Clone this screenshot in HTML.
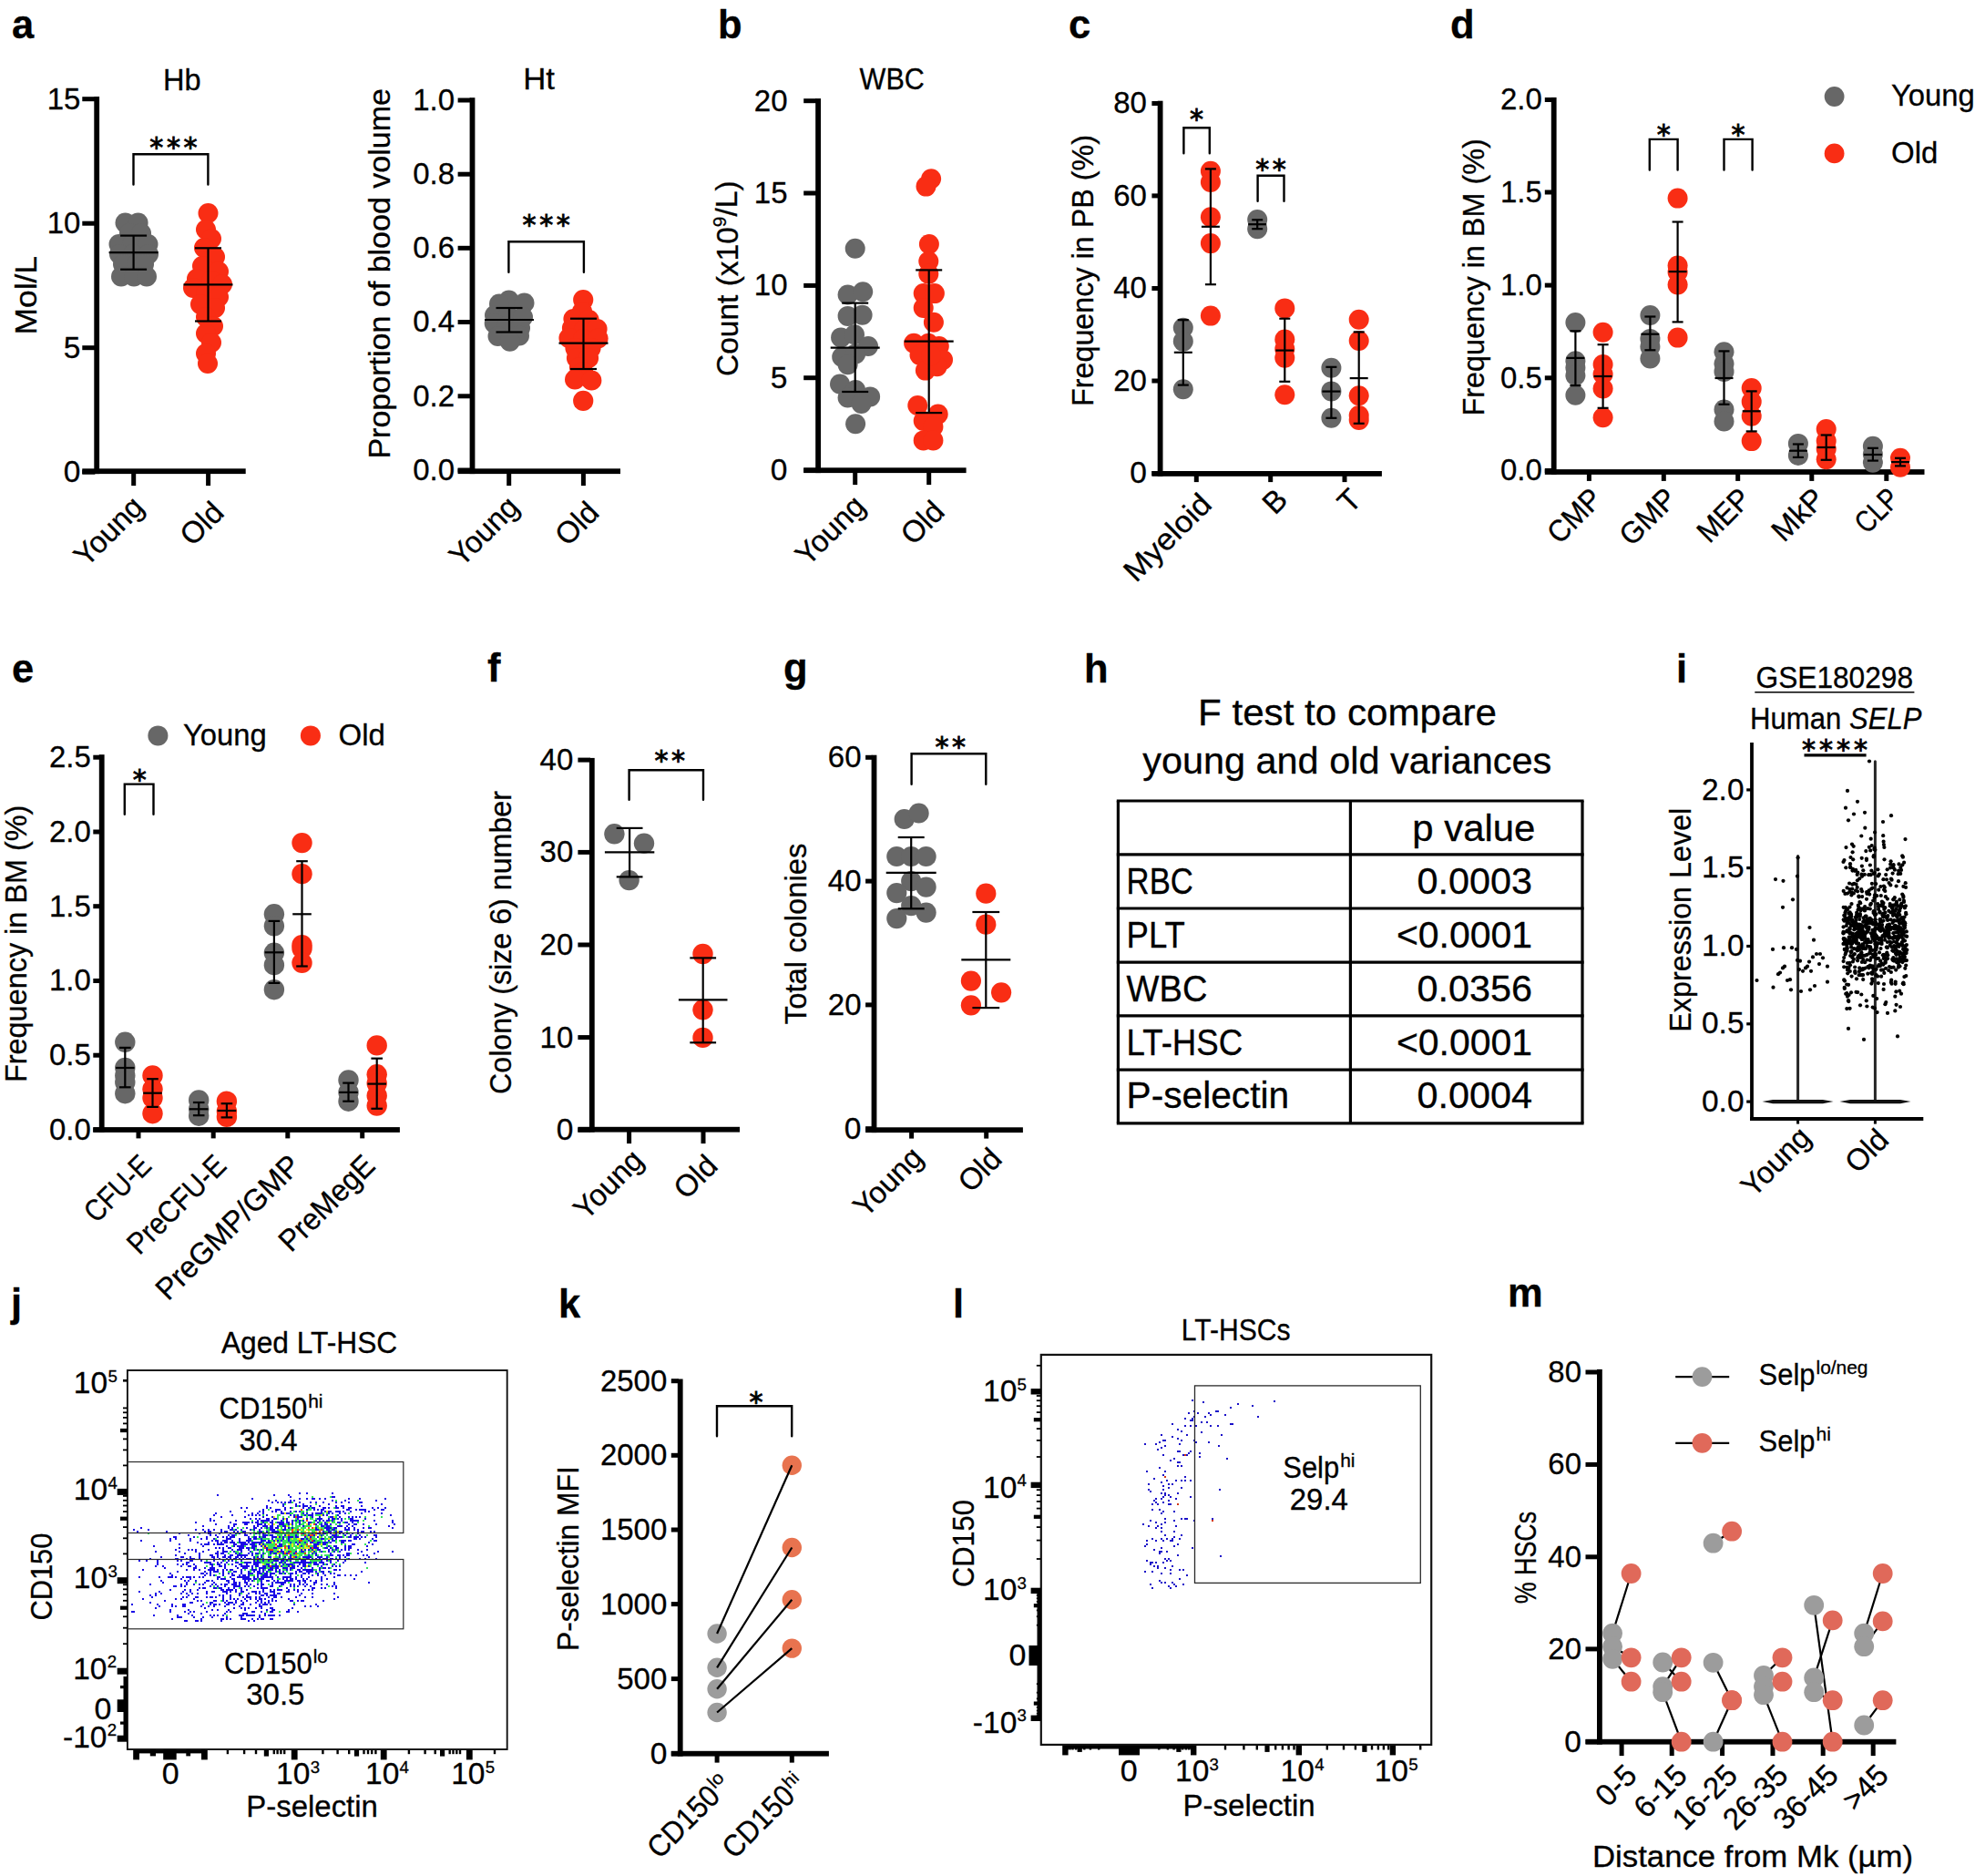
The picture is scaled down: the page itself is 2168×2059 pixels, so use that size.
<!DOCTYPE html>
<html><head><meta charset="utf-8"><title>Figure</title>
<style>
html,body{margin:0;padding:0;background:#fff;}
svg{display:block;}
svg text{font-family:"Liberation Sans",sans-serif;fill:#000;stroke:#000;stroke-width:0.3px;}
</style></head><body>
<svg width="2168" height="2059" viewBox="0 0 2168 2059">
<rect width="2168" height="2059" fill="#fff"/>
<text x="13.0" y="41.5" font-size="43.5" font-weight="bold">a</text>
<text x="199.7" y="98.5" font-size="33.5" text-anchor="middle" textLength="41.6" lengthAdjust="spacingAndGlyphs">Hb</text>
<text x="39.5" y="367.5" font-size="33.5" textLength="86.5" lengthAdjust="spacingAndGlyphs" transform="rotate(-90 39.5 367.5)">Mol/L</text>
<circle cx="137.5" cy="244.6" r="11" fill="#676767"/>
<circle cx="151.6" cy="244.6" r="11" fill="#676767"/>
<circle cx="142.0" cy="256.0" r="11" fill="#676767"/>
<circle cx="155.0" cy="256.0" r="11" fill="#676767"/>
<circle cx="130.5" cy="268.0" r="11" fill="#676767"/>
<circle cx="145.0" cy="268.0" r="11" fill="#676767"/>
<circle cx="162.5" cy="268.0" r="11" fill="#676767"/>
<circle cx="131.0" cy="279.0" r="11" fill="#676767"/>
<circle cx="146.0" cy="279.0" r="11" fill="#676767"/>
<circle cx="163.0" cy="279.0" r="11" fill="#676767"/>
<circle cx="135.0" cy="290.0" r="11" fill="#676767"/>
<circle cx="150.0" cy="290.0" r="11" fill="#676767"/>
<circle cx="158.0" cy="290.0" r="11" fill="#676767"/>
<circle cx="133.0" cy="303.5" r="11" fill="#676767"/>
<circle cx="147.0" cy="303.5" r="11" fill="#676767"/>
<circle cx="161.0" cy="303.5" r="11" fill="#676767"/>
<circle cx="228.5" cy="234.0" r="11" fill="#f92d14"/>
<circle cx="226.0" cy="252.0" r="11" fill="#f92d14"/>
<circle cx="232.0" cy="262.0" r="11" fill="#f92d14"/>
<circle cx="224.0" cy="272.0" r="11" fill="#f92d14"/>
<circle cx="236.0" cy="282.0" r="11" fill="#f92d14"/>
<circle cx="222.0" cy="292.0" r="11" fill="#f92d14"/>
<circle cx="240.0" cy="298.0" r="11" fill="#f92d14"/>
<circle cx="216.0" cy="306.0" r="11" fill="#f92d14"/>
<circle cx="232.0" cy="308.0" r="11" fill="#f92d14"/>
<circle cx="244.0" cy="312.0" r="11" fill="#f92d14"/>
<circle cx="212.0" cy="316.0" r="11" fill="#f92d14"/>
<circle cx="226.0" cy="322.0" r="11" fill="#f92d14"/>
<circle cx="240.0" cy="326.0" r="11" fill="#f92d14"/>
<circle cx="220.0" cy="334.0" r="11" fill="#f92d14"/>
<circle cx="236.0" cy="338.0" r="11" fill="#f92d14"/>
<circle cx="226.0" cy="348.0" r="11" fill="#f92d14"/>
<circle cx="234.0" cy="358.0" r="11" fill="#f92d14"/>
<circle cx="226.0" cy="366.0" r="11" fill="#f92d14"/>
<circle cx="232.0" cy="376.0" r="11" fill="#f92d14"/>
<circle cx="226.0" cy="388.0" r="11" fill="#f92d14"/>
<circle cx="228.0" cy="399.0" r="11" fill="#f92d14"/>
<line x1="146.6" y1="258.6" x2="146.6" y2="295.7" stroke="#000" stroke-width="2.2" stroke-linecap="butt"/>
<line x1="132.1" y1="258.6" x2="161.1" y2="258.6" stroke="#000" stroke-width="2.2" stroke-linecap="butt"/>
<line x1="132.1" y1="295.7" x2="161.1" y2="295.7" stroke="#000" stroke-width="2.2" stroke-linecap="butt"/>
<line x1="119.6" y1="277.2" x2="173.6" y2="277.2" stroke="#000" stroke-width="2.2" stroke-linecap="butt"/>
<line x1="228.5" y1="272.3" x2="228.5" y2="352.5" stroke="#000" stroke-width="2.2" stroke-linecap="butt"/>
<line x1="214.0" y1="272.3" x2="243.0" y2="272.3" stroke="#000" stroke-width="2.2" stroke-linecap="butt"/>
<line x1="214.0" y1="352.5" x2="243.0" y2="352.5" stroke="#000" stroke-width="2.2" stroke-linecap="butt"/>
<line x1="201.5" y1="312.4" x2="255.5" y2="312.4" stroke="#000" stroke-width="2.2" stroke-linecap="butt"/>
<polyline points="146.5,202.6 146.5,169.2 228.4,169.2 228.4,202.6" fill="none" stroke="#000" stroke-width="2.4" stroke-linecap="round" stroke-linejoin="miter"/>
<text x="164.3" y="171.7" font-size="30" style="font-family:'DejaVu Sans',sans-serif;letter-spacing:3.65px;stroke:#000;stroke-width:0.9px">***</text>
<rect x="103.3" y="106.0" width="5.8" height="414.1"/>
<rect x="90.3" y="514.3" width="179.4" height="5.8"/>
<rect x="90.3" y="106.2" width="14" height="5.0"/>
<text x="88.4" y="119.6" font-size="33.5" text-anchor="end" textLength="36.7" lengthAdjust="spacingAndGlyphs">15</text>
<rect x="90.3" y="242.7" width="14" height="5.0"/>
<text x="88.4" y="256.1" font-size="33.5" text-anchor="end" textLength="36.7" lengthAdjust="spacingAndGlyphs">10</text>
<rect x="90.3" y="379.2" width="14" height="5.0"/>
<text x="88.4" y="392.6" font-size="33.5" text-anchor="end">5</text>
<rect x="90.3" y="515.7" width="14" height="5.0"/>
<text x="88.4" y="529.1" font-size="33.5" text-anchor="end">0</text>
<rect x="144.2" y="517.2" width="5.0" height="15.9"/>
<text x="159.7" y="558.7" font-size="33.5" text-anchor="end" textLength="91.8" lengthAdjust="spacingAndGlyphs" transform="rotate(-45 159.7 558.7)">Young</text>
<rect x="226.1" y="517.2" width="5.0" height="15.9"/>
<text x="247.6" y="564.5" font-size="33.5" text-anchor="end" textLength="51.3" lengthAdjust="spacingAndGlyphs" transform="rotate(-45 247.6 564.5)">Old</text>
<text x="591.5" y="98.2" font-size="33.5" text-anchor="middle" textLength="34.7" lengthAdjust="spacingAndGlyphs">Ht</text>
<text x="428.0" y="503.6" font-size="33.5" textLength="406.6" lengthAdjust="spacingAndGlyphs" transform="rotate(-90 428.0 503.6)">Proportion of blood volume</text>
<circle cx="558.6" cy="329.6" r="11" fill="#676767"/>
<circle cx="548.0" cy="333.5" r="11" fill="#676767"/>
<circle cx="575.5" cy="332.5" r="11" fill="#676767"/>
<circle cx="543.0" cy="346.0" r="11" fill="#676767"/>
<circle cx="558.0" cy="346.0" r="11" fill="#676767"/>
<circle cx="574.0" cy="348.0" r="11" fill="#676767"/>
<circle cx="542.7" cy="355.0" r="11" fill="#676767"/>
<circle cx="556.0" cy="358.0" r="11" fill="#676767"/>
<circle cx="571.0" cy="360.0" r="11" fill="#676767"/>
<circle cx="546.5" cy="369.0" r="11" fill="#676767"/>
<circle cx="560.0" cy="372.0" r="11" fill="#676767"/>
<circle cx="570.0" cy="368.5" r="11" fill="#676767"/>
<circle cx="559.7" cy="374.8" r="11" fill="#676767"/>
<circle cx="640.2" cy="329.0" r="11.1" fill="#f92d14"/>
<circle cx="639.0" cy="342.0" r="11.1" fill="#f92d14"/>
<circle cx="629.5" cy="350.0" r="11.1" fill="#f92d14"/>
<circle cx="646.5" cy="351.0" r="11.1" fill="#f92d14"/>
<circle cx="628.0" cy="360.0" r="11.1" fill="#f92d14"/>
<circle cx="641.0" cy="362.0" r="11.1" fill="#f92d14"/>
<circle cx="655.5" cy="361.0" r="11.1" fill="#f92d14"/>
<circle cx="624.5" cy="371.0" r="11.1" fill="#f92d14"/>
<circle cx="640.0" cy="372.0" r="11.1" fill="#f92d14"/>
<circle cx="656.5" cy="371.5" r="11.1" fill="#f92d14"/>
<circle cx="631.5" cy="382.0" r="11.1" fill="#f92d14"/>
<circle cx="648.5" cy="382.0" r="11.1" fill="#f92d14"/>
<circle cx="633.0" cy="393.0" r="11.1" fill="#f92d14"/>
<circle cx="646.0" cy="393.0" r="11.1" fill="#f92d14"/>
<circle cx="636.0" cy="403.0" r="11.1" fill="#f92d14"/>
<circle cx="640.0" cy="408.0" r="11.1" fill="#f92d14"/>
<circle cx="631.1" cy="416.5" r="11.1" fill="#f92d14"/>
<circle cx="649.3" cy="417.5" r="11.1" fill="#f92d14"/>
<circle cx="640.2" cy="439.9" r="11.1" fill="#f92d14"/>
<line x1="559.0" y1="338.0" x2="559.0" y2="364.5" stroke="#000" stroke-width="2.2" stroke-linecap="butt"/>
<line x1="544.5" y1="338.0" x2="573.5" y2="338.0" stroke="#000" stroke-width="2.2" stroke-linecap="butt"/>
<line x1="544.5" y1="364.5" x2="573.5" y2="364.5" stroke="#000" stroke-width="2.2" stroke-linecap="butt"/>
<line x1="532.0" y1="351.0" x2="586.0" y2="351.0" stroke="#000" stroke-width="2.2" stroke-linecap="butt"/>
<line x1="640.5" y1="349.7" x2="640.5" y2="405.0" stroke="#000" stroke-width="2.2" stroke-linecap="butt"/>
<line x1="626.0" y1="349.7" x2="655.0" y2="349.7" stroke="#000" stroke-width="2.2" stroke-linecap="butt"/>
<line x1="626.0" y1="405.0" x2="655.0" y2="405.0" stroke="#000" stroke-width="2.2" stroke-linecap="butt"/>
<line x1="613.5" y1="376.6" x2="667.5" y2="376.6" stroke="#000" stroke-width="2.2" stroke-linecap="butt"/>
<polyline points="558.4,298.8 558.4,265.2 640.9,265.2 640.9,298.8" fill="none" stroke="#000" stroke-width="2.4" stroke-linecap="round" stroke-linejoin="miter"/>
<text x="573.5" y="257.0" font-size="30" style="font-family:'DejaVu Sans',sans-serif;letter-spacing:3.65px;stroke:#000;stroke-width:0.9px">***</text>
<rect x="515.6" y="107.2" width="5.8" height="412.9"/>
<rect x="502.6" y="514.3" width="178.4" height="5.8"/>
<rect x="502.6" y="107.5" width="14" height="5.0"/>
<text x="499.1" y="120.9" font-size="33.5" text-anchor="end" textLength="45.8" lengthAdjust="spacingAndGlyphs">1.0</text>
<rect x="502.6" y="188.7" width="14" height="5.0"/>
<text x="499.1" y="202.1" font-size="33.5" text-anchor="end" textLength="45.8" lengthAdjust="spacingAndGlyphs">0.8</text>
<rect x="502.6" y="269.8" width="14" height="5.0"/>
<text x="499.1" y="283.2" font-size="33.5" text-anchor="end" textLength="45.8" lengthAdjust="spacingAndGlyphs">0.6</text>
<rect x="502.6" y="351.0" width="14" height="5.0"/>
<text x="499.1" y="364.4" font-size="33.5" text-anchor="end" textLength="45.8" lengthAdjust="spacingAndGlyphs">0.4</text>
<rect x="502.6" y="432.3" width="14" height="5.0"/>
<text x="499.1" y="445.7" font-size="33.5" text-anchor="end" textLength="45.8" lengthAdjust="spacingAndGlyphs">0.2</text>
<rect x="502.6" y="513.5" width="14" height="5.0"/>
<text x="499.1" y="526.9" font-size="33.5" text-anchor="end" textLength="45.8" lengthAdjust="spacingAndGlyphs">0.0</text>
<rect x="556.2" y="517.2" width="5.0" height="15.9"/>
<text x="571.7" y="558.7" font-size="33.5" text-anchor="end" textLength="91.8" lengthAdjust="spacingAndGlyphs" transform="rotate(-45 571.7 558.7)">Young</text>
<rect x="637.9" y="517.2" width="5.0" height="15.9"/>
<text x="659.4" y="564.5" font-size="33.5" text-anchor="end" textLength="51.3" lengthAdjust="spacingAndGlyphs" transform="rotate(-45 659.4 564.5)">Old</text>
<text x="788.0" y="41.5" font-size="43.5" font-weight="bold">b</text>
<text x="979.2" y="98.2" font-size="33.5" text-anchor="middle" textLength="71.2" lengthAdjust="spacingAndGlyphs">WBC</text>
<text x="810.0" y="413.0" font-size="33.5" transform="rotate(-90 810.0 413.0)">Count (x10<tspan font-size="20.8" dy="-12.7">9</tspan><tspan dy="11.7">/L)</tspan></text>
<circle cx="938.7" cy="272.7" r="11.0" fill="#676767"/>
<circle cx="930.6" cy="323.5" r="11.0" fill="#676767"/>
<circle cx="947.2" cy="320.3" r="11.0" fill="#676767"/>
<circle cx="930.6" cy="346.9" r="11.0" fill="#676767"/>
<circle cx="946.6" cy="345.8" r="11.0" fill="#676767"/>
<circle cx="923.1" cy="370.4" r="11.0" fill="#676767"/>
<circle cx="938.0" cy="367.2" r="11.0" fill="#676767"/>
<circle cx="953.0" cy="380.0" r="11.0" fill="#676767"/>
<circle cx="924.2" cy="391.7" r="11.0" fill="#676767"/>
<circle cx="939.1" cy="388.5" r="11.0" fill="#676767"/>
<circle cx="930.6" cy="400.2" r="11.0" fill="#676767"/>
<circle cx="922.0" cy="421.5" r="11.0" fill="#676767"/>
<circle cx="939.1" cy="428.0" r="11.0" fill="#676767"/>
<circle cx="955.1" cy="435.4" r="11.0" fill="#676767"/>
<circle cx="930.6" cy="436.5" r="11.0" fill="#676767"/>
<circle cx="945.5" cy="442.9" r="11.0" fill="#676767"/>
<circle cx="939.1" cy="465.2" r="11.0" fill="#676767"/>
<circle cx="1022.1" cy="196.2" r="11.0" fill="#f92d14"/>
<circle cx="1016.5" cy="204.6" r="11.0" fill="#f92d14"/>
<circle cx="1019.9" cy="268.0" r="11.0" fill="#f92d14"/>
<circle cx="1019.3" cy="286.7" r="11.0" fill="#f92d14"/>
<circle cx="1019.3" cy="300.7" r="11.0" fill="#f92d14"/>
<circle cx="1013.7" cy="322.1" r="11.0" fill="#f92d14"/>
<circle cx="1025.9" cy="322.1" r="11.0" fill="#f92d14"/>
<circle cx="1013.7" cy="338.0" r="11.0" fill="#f92d14"/>
<circle cx="1024.9" cy="353.8" r="11.0" fill="#f92d14"/>
<circle cx="1003.1" cy="376.8" r="11.0" fill="#f92d14"/>
<circle cx="1019.0" cy="376.8" r="11.0" fill="#f92d14"/>
<circle cx="1030.8" cy="380.0" r="11.0" fill="#f92d14"/>
<circle cx="1009.5" cy="389.6" r="11.0" fill="#f92d14"/>
<circle cx="1035.0" cy="394.9" r="11.0" fill="#f92d14"/>
<circle cx="1015.9" cy="406.6" r="11.0" fill="#f92d14"/>
<circle cx="1028.7" cy="402.3" r="11.0" fill="#f92d14"/>
<circle cx="1022.0" cy="390.3" r="11.0" fill="#f92d14"/>
<circle cx="1007.3" cy="445.0" r="11.0" fill="#f92d14"/>
<circle cx="1029.7" cy="454.6" r="11.0" fill="#f92d14"/>
<circle cx="1013.7" cy="462.0" r="11.0" fill="#f92d14"/>
<circle cx="1024.4" cy="468.4" r="11.0" fill="#f92d14"/>
<circle cx="1013.7" cy="483.4" r="11.0" fill="#f92d14"/>
<circle cx="1024.4" cy="483.4" r="11.0" fill="#f92d14"/>
<line x1="938.7" y1="332.6" x2="938.7" y2="430.0" stroke="#000" stroke-width="2.2" stroke-linecap="butt"/>
<line x1="924.2" y1="332.6" x2="953.2" y2="332.6" stroke="#000" stroke-width="2.2" stroke-linecap="butt"/>
<line x1="924.2" y1="430.0" x2="953.2" y2="430.0" stroke="#000" stroke-width="2.2" stroke-linecap="butt"/>
<line x1="911.7" y1="381.7" x2="965.7" y2="381.7" stroke="#000" stroke-width="2.2" stroke-linecap="butt"/>
<line x1="1019.7" y1="296.4" x2="1019.7" y2="453.1" stroke="#000" stroke-width="2.2" stroke-linecap="butt"/>
<line x1="1005.2" y1="296.4" x2="1034.2" y2="296.4" stroke="#000" stroke-width="2.2" stroke-linecap="butt"/>
<line x1="1005.2" y1="453.1" x2="1034.2" y2="453.1" stroke="#000" stroke-width="2.2" stroke-linecap="butt"/>
<line x1="992.7" y1="374.6" x2="1046.7" y2="374.6" stroke="#000" stroke-width="2.2" stroke-linecap="butt"/>
<rect x="895.2" y="108.1" width="5.8" height="411.0"/>
<rect x="882.2" y="513.3" width="178.4" height="5.8"/>
<rect x="882.2" y="108.2" width="14" height="5.0"/>
<text x="864.5" y="121.6" font-size="33.5" text-anchor="end" textLength="36.7" lengthAdjust="spacingAndGlyphs">20</text>
<rect x="882.2" y="209.5" width="14" height="5.0"/>
<text x="864.5" y="222.9" font-size="33.5" text-anchor="end" textLength="36.7" lengthAdjust="spacingAndGlyphs">15</text>
<rect x="882.2" y="310.9" width="14" height="5.0"/>
<text x="864.5" y="324.3" font-size="33.5" text-anchor="end" textLength="36.7" lengthAdjust="spacingAndGlyphs">10</text>
<rect x="882.2" y="412.2" width="14" height="5.0"/>
<text x="864.5" y="425.6" font-size="33.5" text-anchor="end">5</text>
<rect x="882.2" y="513.7" width="14" height="5.0"/>
<text x="864.5" y="527.1" font-size="33.5" text-anchor="end">0</text>
<rect x="936.2" y="516.2" width="5.0" height="15.9"/>
<text x="951.7" y="557.7" font-size="33.5" text-anchor="end" textLength="91.8" lengthAdjust="spacingAndGlyphs" transform="rotate(-45 951.7 557.7)">Young</text>
<rect x="1017.2" y="516.2" width="5.0" height="15.9"/>
<text x="1038.7" y="563.5" font-size="33.5" text-anchor="end" textLength="51.3" lengthAdjust="spacingAndGlyphs" transform="rotate(-45 1038.7 563.5)">Old</text>
<text x="1173.0" y="41.5" font-size="43.5" font-weight="bold">c</text>
<text x="1200.2" y="446.0" font-size="33.5" textLength="298.0" lengthAdjust="spacingAndGlyphs" transform="rotate(-90 1200.2 446.0)">Frequency in PB (%)</text>
<circle cx="1298.8" cy="359.7" r="11.0" fill="#676767"/>
<circle cx="1298.8" cy="374.6" r="11.0" fill="#676767"/>
<circle cx="1298.8" cy="427.3" r="11.0" fill="#676767"/>
<circle cx="1328.9" cy="187.8" r="11.0" fill="#f92d14"/>
<circle cx="1328.9" cy="200.0" r="11.0" fill="#f92d14"/>
<circle cx="1328.9" cy="238.2" r="11.0" fill="#f92d14"/>
<circle cx="1328.9" cy="267.1" r="11.0" fill="#f92d14"/>
<circle cx="1328.9" cy="346.6" r="11.0" fill="#f92d14"/>
<circle cx="1380.2" cy="241.0" r="11.0" fill="#676767"/>
<circle cx="1380.2" cy="251.2" r="11.0" fill="#676767"/>
<circle cx="1410.3" cy="338.4" r="11.0" fill="#f92d14"/>
<circle cx="1410.3" cy="372.5" r="11.0" fill="#f92d14"/>
<circle cx="1410.3" cy="383.0" r="11.0" fill="#f92d14"/>
<circle cx="1410.3" cy="392.8" r="11.0" fill="#f92d14"/>
<circle cx="1410.3" cy="433.3" r="11.0" fill="#f92d14"/>
<circle cx="1461.4" cy="403.8" r="11.0" fill="#676767"/>
<circle cx="1461.4" cy="429.4" r="11.0" fill="#676767"/>
<circle cx="1461.4" cy="458.8" r="11.0" fill="#676767"/>
<circle cx="1491.7" cy="350.7" r="11.0" fill="#f92d14"/>
<circle cx="1491.7" cy="374.0" r="11.0" fill="#f92d14"/>
<circle cx="1491.7" cy="434.3" r="11.0" fill="#f92d14"/>
<circle cx="1491.7" cy="456.0" r="11.0" fill="#f92d14"/>
<circle cx="1491.7" cy="461.0" r="11.0" fill="#f92d14"/>
<line x1="1298.8" y1="351.2" x2="1298.8" y2="422.6" stroke="#000" stroke-width="2.2" stroke-linecap="butt"/>
<line x1="1292.8" y1="351.2" x2="1304.8" y2="351.2" stroke="#000" stroke-width="2.2" stroke-linecap="butt"/>
<line x1="1292.8" y1="422.6" x2="1304.8" y2="422.6" stroke="#000" stroke-width="2.2" stroke-linecap="butt"/>
<line x1="1288.8" y1="386.8" x2="1308.8" y2="386.8" stroke="#000" stroke-width="2.2" stroke-linecap="butt"/>
<line x1="1328.9" y1="185.4" x2="1328.9" y2="312.2" stroke="#000" stroke-width="2.2" stroke-linecap="butt"/>
<line x1="1322.9" y1="185.4" x2="1334.9" y2="185.4" stroke="#000" stroke-width="2.2" stroke-linecap="butt"/>
<line x1="1322.9" y1="312.2" x2="1334.9" y2="312.2" stroke="#000" stroke-width="2.2" stroke-linecap="butt"/>
<line x1="1318.9" y1="248.8" x2="1338.9" y2="248.8" stroke="#000" stroke-width="2.2" stroke-linecap="butt"/>
<line x1="1380.2" y1="241.3" x2="1380.2" y2="251.2" stroke="#000" stroke-width="2.2" stroke-linecap="butt"/>
<line x1="1374.2" y1="241.3" x2="1386.2" y2="241.3" stroke="#000" stroke-width="2.2" stroke-linecap="butt"/>
<line x1="1374.2" y1="251.2" x2="1386.2" y2="251.2" stroke="#000" stroke-width="2.2" stroke-linecap="butt"/>
<line x1="1370.2" y1="246.2" x2="1390.2" y2="246.2" stroke="#000" stroke-width="2.2" stroke-linecap="butt"/>
<line x1="1410.3" y1="349.7" x2="1410.3" y2="418.8" stroke="#000" stroke-width="2.2" stroke-linecap="butt"/>
<line x1="1404.3" y1="349.7" x2="1416.3" y2="349.7" stroke="#000" stroke-width="2.2" stroke-linecap="butt"/>
<line x1="1404.3" y1="418.8" x2="1416.3" y2="418.8" stroke="#000" stroke-width="2.2" stroke-linecap="butt"/>
<line x1="1400.3" y1="384.6" x2="1420.3" y2="384.6" stroke="#000" stroke-width="2.2" stroke-linecap="butt"/>
<line x1="1461.4" y1="402.8" x2="1461.4" y2="458.8" stroke="#000" stroke-width="2.2" stroke-linecap="butt"/>
<line x1="1455.4" y1="402.8" x2="1467.4" y2="402.8" stroke="#000" stroke-width="2.2" stroke-linecap="butt"/>
<line x1="1455.4" y1="458.8" x2="1467.4" y2="458.8" stroke="#000" stroke-width="2.2" stroke-linecap="butt"/>
<line x1="1451.4" y1="429.6" x2="1471.4" y2="429.6" stroke="#000" stroke-width="2.2" stroke-linecap="butt"/>
<line x1="1491.7" y1="364.4" x2="1491.7" y2="464.8" stroke="#000" stroke-width="2.2" stroke-linecap="butt"/>
<line x1="1485.7" y1="364.4" x2="1497.7" y2="364.4" stroke="#000" stroke-width="2.2" stroke-linecap="butt"/>
<line x1="1485.7" y1="464.8" x2="1497.7" y2="464.8" stroke="#000" stroke-width="2.2" stroke-linecap="butt"/>
<line x1="1481.7" y1="415.1" x2="1501.7" y2="415.1" stroke="#000" stroke-width="2.2" stroke-linecap="butt"/>
<polyline points="1299.4,168.2 1299.4,140.2 1327.8,140.2 1327.8,168.2" fill="none" stroke="#000" stroke-width="2.4" stroke-linecap="round" stroke-linejoin="miter"/>
<text x="1306.1" y="141.4" font-size="30" style="font-family:'DejaVu Sans',sans-serif;letter-spacing:3.65px;stroke:#000;stroke-width:0.9px">*</text>
<polyline points="1380.6,220.8 1380.6,192.8 1409.5,192.8 1409.5,220.8" fill="none" stroke="#000" stroke-width="2.4" stroke-linecap="round" stroke-linejoin="miter"/>
<text x="1378.2" y="196.4" font-size="30" style="font-family:'DejaVu Sans',sans-serif;letter-spacing:3.65px;stroke:#000;stroke-width:0.9px">**</text>
<rect x="1270.7" y="110.7" width="5.8" height="412.1"/>
<rect x="1264.4" y="517.0" width="252.5" height="5.8"/>
<rect x="1264.4" y="111.0" width="7.3" height="5.0"/>
<text x="1258.9" y="124.4" font-size="33.5" text-anchor="end" textLength="36.7" lengthAdjust="spacingAndGlyphs">80</text>
<rect x="1264.4" y="212.4" width="7.3" height="5.0"/>
<text x="1258.9" y="225.8" font-size="33.5" text-anchor="end" textLength="36.7" lengthAdjust="spacingAndGlyphs">60</text>
<rect x="1264.4" y="314.0" width="7.3" height="5.0"/>
<text x="1258.9" y="327.4" font-size="33.5" text-anchor="end" textLength="36.7" lengthAdjust="spacingAndGlyphs">40</text>
<rect x="1264.4" y="415.5" width="7.3" height="5.0"/>
<text x="1258.9" y="428.9" font-size="33.5" text-anchor="end" textLength="36.7" lengthAdjust="spacingAndGlyphs">20</text>
<rect x="1264.4" y="517.0" width="7.3" height="5.0"/>
<text x="1258.9" y="530.4" font-size="33.5" text-anchor="end">0</text>
<rect x="1310.8" y="519.9" width="5.0" height="9.2"/>
<text x="1331.9" y="555.5" font-size="33.5" text-anchor="end" textLength="120.0" lengthAdjust="spacingAndGlyphs" transform="rotate(-45 1331.9 555.5)">Myeloid</text>
<rect x="1392.2" y="519.9" width="5.0" height="9.2"/>
<text x="1415.2" y="550.5" font-size="33.5" text-anchor="end" transform="rotate(-45 1415.2 550.5)">B</text>
<rect x="1473.5" y="519.9" width="5.0" height="9.2"/>
<text x="1496.5" y="550.5" font-size="33.5" text-anchor="end" transform="rotate(-45 1496.5 550.5)">T</text>
<text x="1592.0" y="41.5" font-size="43.5" font-weight="bold">d</text>
<text x="1629.0" y="456.5" font-size="33.5" textLength="304.3" lengthAdjust="spacingAndGlyphs" transform="rotate(-90 1629.0 456.5)">Frequency in BM (%)</text>
<rect x="1702.8" y="106.9" width="5.8" height="414.0"/>
<rect x="1695.8" y="515.1" width="416.7" height="5.8"/>
<rect x="1695.8" y="107.0" width="8" height="5.0"/>
<text x="1692.8" y="120.4" font-size="33.5" text-anchor="end" textLength="45.8" lengthAdjust="spacingAndGlyphs">2.0</text>
<rect x="1695.8" y="208.5" width="8" height="5.0"/>
<text x="1692.8" y="221.9" font-size="33.5" text-anchor="end" textLength="45.8" lengthAdjust="spacingAndGlyphs">1.5</text>
<rect x="1695.8" y="310.6" width="8" height="5.0"/>
<text x="1692.8" y="324.0" font-size="33.5" text-anchor="end" textLength="45.8" lengthAdjust="spacingAndGlyphs">1.0</text>
<rect x="1695.8" y="412.3" width="8" height="5.0"/>
<text x="1692.8" y="425.7" font-size="33.5" text-anchor="end" textLength="45.8" lengthAdjust="spacingAndGlyphs">0.5</text>
<rect x="1695.8" y="514.0" width="8" height="5.0"/>
<text x="1692.8" y="527.4" font-size="33.5" text-anchor="end" textLength="45.8" lengthAdjust="spacingAndGlyphs">0.0</text>
<rect x="1741.9" y="518.0" width="5.0" height="9.9"/>
<text x="1760.7" y="549.6" font-size="33.5" text-anchor="end" textLength="69.0" lengthAdjust="spacingAndGlyphs" transform="rotate(-45 1760.7 549.6)">CMP</text>
<rect x="1823.8" y="518.0" width="5.0" height="9.9"/>
<text x="1842.6" y="549.6" font-size="33.5" text-anchor="end" textLength="72.5" lengthAdjust="spacingAndGlyphs" transform="rotate(-45 1842.6 549.6)">GMP</text>
<rect x="1905.2" y="518.0" width="5.0" height="9.9"/>
<text x="1924.0" y="549.6" font-size="33.5" text-anchor="end" textLength="67.3" lengthAdjust="spacingAndGlyphs" transform="rotate(-45 1924.0 549.6)">MEP</text>
<rect x="1986.3" y="518.0" width="5.0" height="9.9"/>
<text x="2005.1" y="549.6" font-size="33.5" text-anchor="end" textLength="66.1" lengthAdjust="spacingAndGlyphs" transform="rotate(-45 2005.1 549.6)">MkP</text>
<rect x="2068.3" y="518.0" width="5.0" height="9.9"/>
<text x="2087.1" y="549.6" font-size="33.5" text-anchor="end" textLength="53.2" lengthAdjust="spacingAndGlyphs" transform="rotate(-45 2087.1 549.6)">CLP</text>
<circle cx="1729.4" cy="354.1" r="11.0" fill="#676767"/>
<circle cx="1729.4" cy="396.3" r="11.0" fill="#676767"/>
<circle cx="1729.4" cy="403.5" r="11.0" fill="#676767"/>
<circle cx="1729.4" cy="412.2" r="11.0" fill="#676767"/>
<circle cx="1729.4" cy="433.7" r="11.0" fill="#676767"/>
<circle cx="1759.6" cy="364.7" r="11.0" fill="#f92d14"/>
<circle cx="1759.6" cy="400.1" r="11.0" fill="#f92d14"/>
<circle cx="1759.6" cy="410.7" r="11.0" fill="#f92d14"/>
<circle cx="1759.6" cy="426.5" r="11.0" fill="#f92d14"/>
<circle cx="1759.6" cy="458.2" r="11.0" fill="#f92d14"/>
<circle cx="1811.4" cy="346.0" r="11.0" fill="#676767"/>
<circle cx="1811.4" cy="371.9" r="11.0" fill="#676767"/>
<circle cx="1811.4" cy="380.5" r="11.0" fill="#676767"/>
<circle cx="1811.4" cy="393.5" r="11.0" fill="#676767"/>
<circle cx="1841.6" cy="217.6" r="11.0" fill="#f92d14"/>
<circle cx="1841.6" cy="291.5" r="11.0" fill="#f92d14"/>
<circle cx="1841.6" cy="298.7" r="11.0" fill="#f92d14"/>
<circle cx="1841.6" cy="312.5" r="11.0" fill="#f92d14"/>
<circle cx="1841.6" cy="370.6" r="11.0" fill="#f92d14"/>
<circle cx="1892.5" cy="386.3" r="11.0" fill="#676767"/>
<circle cx="1892.5" cy="399.2" r="11.0" fill="#676767"/>
<circle cx="1892.5" cy="407.9" r="11.0" fill="#676767"/>
<circle cx="1892.5" cy="449.6" r="11.0" fill="#676767"/>
<circle cx="1892.5" cy="462.5" r="11.0" fill="#676767"/>
<circle cx="1922.7" cy="426.0" r="11.0" fill="#f92d14"/>
<circle cx="1922.7" cy="440.9" r="11.0" fill="#f92d14"/>
<circle cx="1922.7" cy="456.7" r="11.0" fill="#f92d14"/>
<circle cx="1922.7" cy="484.1" r="11.0" fill="#f92d14"/>
<circle cx="1973.9" cy="486.9" r="11.0" fill="#676767"/>
<circle cx="1973.9" cy="499.9" r="11.0" fill="#676767"/>
<circle cx="2004.7" cy="471.1" r="11.0" fill="#f92d14"/>
<circle cx="2004.7" cy="484.1" r="11.0" fill="#f92d14"/>
<circle cx="2004.7" cy="492.7" r="11.0" fill="#f92d14"/>
<circle cx="2004.7" cy="504.2" r="11.0" fill="#f92d14"/>
<circle cx="2055.9" cy="489.8" r="11.0" fill="#676767"/>
<circle cx="2055.9" cy="498.5" r="11.0" fill="#676767"/>
<circle cx="2055.9" cy="507.7" r="11.0" fill="#676767"/>
<circle cx="2086.0" cy="502.8" r="11.0" fill="#f92d14"/>
<circle cx="2086.0" cy="512.8" r="11.0" fill="#f92d14"/>
<line x1="1729.4" y1="363.3" x2="1729.4" y2="423.1" stroke="#000" stroke-width="2.2" stroke-linecap="butt"/>
<line x1="1723.4" y1="363.3" x2="1735.4" y2="363.3" stroke="#000" stroke-width="2.2" stroke-linecap="butt"/>
<line x1="1723.4" y1="423.1" x2="1735.4" y2="423.1" stroke="#000" stroke-width="2.2" stroke-linecap="butt"/>
<line x1="1719.4" y1="392.9" x2="1739.4" y2="392.9" stroke="#000" stroke-width="2.2" stroke-linecap="butt"/>
<line x1="1759.6" y1="378.2" x2="1759.6" y2="447.8" stroke="#000" stroke-width="2.2" stroke-linecap="butt"/>
<line x1="1753.6" y1="378.2" x2="1765.6" y2="378.2" stroke="#000" stroke-width="2.2" stroke-linecap="butt"/>
<line x1="1753.6" y1="447.8" x2="1765.6" y2="447.8" stroke="#000" stroke-width="2.2" stroke-linecap="butt"/>
<line x1="1749.6" y1="413.0" x2="1769.6" y2="413.0" stroke="#000" stroke-width="2.2" stroke-linecap="butt"/>
<line x1="1811.4" y1="347.5" x2="1811.4" y2="384.3" stroke="#000" stroke-width="2.2" stroke-linecap="butt"/>
<line x1="1805.4" y1="347.5" x2="1817.4" y2="347.5" stroke="#000" stroke-width="2.2" stroke-linecap="butt"/>
<line x1="1805.4" y1="384.3" x2="1817.4" y2="384.3" stroke="#000" stroke-width="2.2" stroke-linecap="butt"/>
<line x1="1801.4" y1="366.7" x2="1821.4" y2="366.7" stroke="#000" stroke-width="2.2" stroke-linecap="butt"/>
<line x1="1841.6" y1="243.5" x2="1841.6" y2="353.4" stroke="#000" stroke-width="2.2" stroke-linecap="butt"/>
<line x1="1835.6" y1="243.5" x2="1847.6" y2="243.5" stroke="#000" stroke-width="2.2" stroke-linecap="butt"/>
<line x1="1835.6" y1="353.4" x2="1847.6" y2="353.4" stroke="#000" stroke-width="2.2" stroke-linecap="butt"/>
<line x1="1831.6" y1="298.1" x2="1851.6" y2="298.1" stroke="#000" stroke-width="2.2" stroke-linecap="butt"/>
<line x1="1892.5" y1="385.4" x2="1892.5" y2="443.8" stroke="#000" stroke-width="2.2" stroke-linecap="butt"/>
<line x1="1886.5" y1="385.4" x2="1898.5" y2="385.4" stroke="#000" stroke-width="2.2" stroke-linecap="butt"/>
<line x1="1886.5" y1="443.8" x2="1898.5" y2="443.8" stroke="#000" stroke-width="2.2" stroke-linecap="butt"/>
<line x1="1882.5" y1="415.0" x2="1902.5" y2="415.0" stroke="#000" stroke-width="2.2" stroke-linecap="butt"/>
<line x1="1922.7" y1="429.4" x2="1922.7" y2="473.4" stroke="#000" stroke-width="2.2" stroke-linecap="butt"/>
<line x1="1916.7" y1="429.4" x2="1928.7" y2="429.4" stroke="#000" stroke-width="2.2" stroke-linecap="butt"/>
<line x1="1916.7" y1="473.4" x2="1928.7" y2="473.4" stroke="#000" stroke-width="2.2" stroke-linecap="butt"/>
<line x1="1912.7" y1="451.3" x2="1932.7" y2="451.3" stroke="#000" stroke-width="2.2" stroke-linecap="butt"/>
<line x1="1973.9" y1="487.5" x2="1973.9" y2="501.9" stroke="#000" stroke-width="2.2" stroke-linecap="butt"/>
<line x1="1967.9" y1="487.5" x2="1979.9" y2="487.5" stroke="#000" stroke-width="2.2" stroke-linecap="butt"/>
<line x1="1967.9" y1="501.9" x2="1979.9" y2="501.9" stroke="#000" stroke-width="2.2" stroke-linecap="butt"/>
<line x1="1963.9" y1="494.7" x2="1983.9" y2="494.7" stroke="#000" stroke-width="2.2" stroke-linecap="butt"/>
<line x1="2004.7" y1="477.5" x2="2004.7" y2="504.8" stroke="#000" stroke-width="2.2" stroke-linecap="butt"/>
<line x1="1998.7" y1="477.5" x2="2010.7" y2="477.5" stroke="#000" stroke-width="2.2" stroke-linecap="butt"/>
<line x1="1998.7" y1="504.8" x2="2010.7" y2="504.8" stroke="#000" stroke-width="2.2" stroke-linecap="butt"/>
<line x1="1994.7" y1="491.0" x2="2014.7" y2="491.0" stroke="#000" stroke-width="2.2" stroke-linecap="butt"/>
<line x1="2055.9" y1="491.8" x2="2055.9" y2="505.6" stroke="#000" stroke-width="2.2" stroke-linecap="butt"/>
<line x1="2049.9" y1="491.8" x2="2061.9" y2="491.8" stroke="#000" stroke-width="2.2" stroke-linecap="butt"/>
<line x1="2049.9" y1="505.6" x2="2061.9" y2="505.6" stroke="#000" stroke-width="2.2" stroke-linecap="butt"/>
<line x1="2045.9" y1="499.0" x2="2065.9" y2="499.0" stroke="#000" stroke-width="2.2" stroke-linecap="butt"/>
<line x1="2086.0" y1="502.8" x2="2086.0" y2="511.4" stroke="#000" stroke-width="2.2" stroke-linecap="butt"/>
<line x1="2080.0" y1="502.8" x2="2092.0" y2="502.8" stroke="#000" stroke-width="2.2" stroke-linecap="butt"/>
<line x1="2080.0" y1="511.4" x2="2092.0" y2="511.4" stroke="#000" stroke-width="2.2" stroke-linecap="butt"/>
<line x1="2076.0" y1="507.1" x2="2096.0" y2="507.1" stroke="#000" stroke-width="2.2" stroke-linecap="butt"/>
<polyline points="1810.8,186.5 1810.8,152.9 1841.6,152.9 1841.6,186.5" fill="none" stroke="#000" stroke-width="2.4" stroke-linecap="round" stroke-linejoin="miter"/>
<text x="1818.7" y="158.3" font-size="30" style="font-family:'DejaVu Sans',sans-serif;letter-spacing:3.65px;stroke:#000;stroke-width:0.9px">*</text>
<polyline points="1892.5,186.5 1892.5,152.9 1923.6,152.9 1923.6,186.5" fill="none" stroke="#000" stroke-width="2.4" stroke-linecap="round" stroke-linejoin="miter"/>
<text x="1900.5" y="158.3" font-size="30" style="font-family:'DejaVu Sans',sans-serif;letter-spacing:3.65px;stroke:#000;stroke-width:0.9px">*</text>
<circle cx="2013.6" cy="106.0" r="10.9" fill="#676767"/>
<circle cx="2013.6" cy="168.4" r="10.9" fill="#f92d14"/>
<text x="2076.0" y="116.1" font-size="33.5" textLength="91.8" lengthAdjust="spacingAndGlyphs">Young</text>
<text x="2076.0" y="178.5" font-size="33.5" textLength="51.3" lengthAdjust="spacingAndGlyphs">Old</text>
<text x="13.0" y="749.0" font-size="43.5" font-weight="bold">e</text>
<text x="29.0" y="1188.0" font-size="33.5" textLength="304.3" lengthAdjust="spacingAndGlyphs" transform="rotate(-90 29.0 1188.0)">Frequency in BM (%)</text>
<circle cx="173.4" cy="807.4" r="11" fill="#676767"/>
<text x="201.0" y="818.2" font-size="33.5" textLength="91.8" lengthAdjust="spacingAndGlyphs">Young</text>
<circle cx="340.9" cy="807.4" r="11" fill="#f92d14"/>
<text x="371.5" y="818.2" font-size="33.5" textLength="51.3" lengthAdjust="spacingAndGlyphs">Old</text>
<circle cx="137.3" cy="1143.8" r="11.2" fill="#676767"/>
<circle cx="137.3" cy="1172.0" r="11.2" fill="#676767"/>
<circle cx="137.3" cy="1180.5" r="11.2" fill="#676767"/>
<circle cx="137.3" cy="1187.9" r="11.2" fill="#676767"/>
<circle cx="137.3" cy="1200.2" r="11.2" fill="#676767"/>
<circle cx="167.5" cy="1180.5" r="11.2" fill="#f92d14"/>
<circle cx="167.5" cy="1195.3" r="11.2" fill="#f92d14"/>
<circle cx="167.5" cy="1205.1" r="11.2" fill="#f92d14"/>
<circle cx="167.5" cy="1222.2" r="11.2" fill="#f92d14"/>
<circle cx="218.2" cy="1207.5" r="11.2" fill="#676767"/>
<circle cx="218.2" cy="1217.3" r="11.2" fill="#676767"/>
<circle cx="218.2" cy="1224.7" r="11.2" fill="#676767"/>
<circle cx="248.9" cy="1208.7" r="11.2" fill="#f92d14"/>
<circle cx="248.9" cy="1219.8" r="11.2" fill="#f92d14"/>
<circle cx="248.9" cy="1225.9" r="11.2" fill="#f92d14"/>
<circle cx="300.9" cy="1003.3" r="11.2" fill="#676767"/>
<circle cx="300.9" cy="1016.3" r="11.2" fill="#676767"/>
<circle cx="300.9" cy="1045.8" r="11.2" fill="#676767"/>
<circle cx="300.9" cy="1059.2" r="11.2" fill="#676767"/>
<circle cx="300.9" cy="1086.2" r="11.2" fill="#676767"/>
<circle cx="331.5" cy="925.1" r="11.2" fill="#f92d14"/>
<circle cx="331.5" cy="959.2" r="11.2" fill="#f92d14"/>
<circle cx="331.5" cy="1037.2" r="11.2" fill="#f92d14"/>
<circle cx="331.5" cy="1040.9" r="11.2" fill="#f92d14"/>
<circle cx="331.5" cy="1056.8" r="11.2" fill="#f92d14"/>
<circle cx="382.5" cy="1185.4" r="11.2" fill="#676767"/>
<circle cx="382.5" cy="1198.9" r="11.2" fill="#676767"/>
<circle cx="382.5" cy="1208.7" r="11.2" fill="#676767"/>
<circle cx="413.7" cy="1147.4" r="11.2" fill="#f92d14"/>
<circle cx="413.7" cy="1179.3" r="11.2" fill="#f92d14"/>
<circle cx="413.7" cy="1189.1" r="11.2" fill="#f92d14"/>
<circle cx="413.7" cy="1202.6" r="11.2" fill="#f92d14"/>
<circle cx="413.7" cy="1213.6" r="11.2" fill="#f92d14"/>
<line x1="137.3" y1="1149.9" x2="137.3" y2="1193.3" stroke="#000" stroke-width="2.2" stroke-linecap="butt"/>
<line x1="131.0" y1="1149.9" x2="143.6" y2="1149.9" stroke="#000" stroke-width="2.2" stroke-linecap="butt"/>
<line x1="131.0" y1="1193.3" x2="143.6" y2="1193.3" stroke="#000" stroke-width="2.2" stroke-linecap="butt"/>
<line x1="127.0" y1="1172.0" x2="147.6" y2="1172.0" stroke="#000" stroke-width="2.2" stroke-linecap="butt"/>
<line x1="167.5" y1="1184.2" x2="167.5" y2="1214.9" stroke="#000" stroke-width="2.2" stroke-linecap="butt"/>
<line x1="161.2" y1="1184.2" x2="173.8" y2="1184.2" stroke="#000" stroke-width="2.2" stroke-linecap="butt"/>
<line x1="161.2" y1="1214.9" x2="173.8" y2="1214.9" stroke="#000" stroke-width="2.2" stroke-linecap="butt"/>
<line x1="157.2" y1="1199.7" x2="177.8" y2="1199.7" stroke="#000" stroke-width="2.2" stroke-linecap="butt"/>
<line x1="218.2" y1="1210.0" x2="218.2" y2="1224.2" stroke="#000" stroke-width="2.2" stroke-linecap="butt"/>
<line x1="211.9" y1="1210.0" x2="224.5" y2="1210.0" stroke="#000" stroke-width="2.2" stroke-linecap="butt"/>
<line x1="211.9" y1="1224.2" x2="224.5" y2="1224.2" stroke="#000" stroke-width="2.2" stroke-linecap="butt"/>
<line x1="207.9" y1="1217.3" x2="228.5" y2="1217.3" stroke="#000" stroke-width="2.2" stroke-linecap="butt"/>
<line x1="248.9" y1="1211.2" x2="248.9" y2="1226.4" stroke="#000" stroke-width="2.2" stroke-linecap="butt"/>
<line x1="242.6" y1="1211.2" x2="255.2" y2="1211.2" stroke="#000" stroke-width="2.2" stroke-linecap="butt"/>
<line x1="242.6" y1="1226.4" x2="255.2" y2="1226.4" stroke="#000" stroke-width="2.2" stroke-linecap="butt"/>
<line x1="238.6" y1="1219.0" x2="259.2" y2="1219.0" stroke="#000" stroke-width="2.2" stroke-linecap="butt"/>
<line x1="300.9" y1="1010.9" x2="300.9" y2="1078.9" stroke="#000" stroke-width="2.2" stroke-linecap="butt"/>
<line x1="294.6" y1="1010.9" x2="307.2" y2="1010.9" stroke="#000" stroke-width="2.2" stroke-linecap="butt"/>
<line x1="294.6" y1="1078.9" x2="307.2" y2="1078.9" stroke="#000" stroke-width="2.2" stroke-linecap="butt"/>
<line x1="290.6" y1="1045.3" x2="311.2" y2="1045.3" stroke="#000" stroke-width="2.2" stroke-linecap="butt"/>
<line x1="331.5" y1="945.2" x2="331.5" y2="1060.5" stroke="#000" stroke-width="2.2" stroke-linecap="butt"/>
<line x1="325.2" y1="945.2" x2="337.8" y2="945.2" stroke="#000" stroke-width="2.2" stroke-linecap="butt"/>
<line x1="325.2" y1="1060.5" x2="337.8" y2="1060.5" stroke="#000" stroke-width="2.2" stroke-linecap="butt"/>
<line x1="321.2" y1="1003.3" x2="341.8" y2="1003.3" stroke="#000" stroke-width="2.2" stroke-linecap="butt"/>
<line x1="382.5" y1="1188.6" x2="382.5" y2="1208.7" stroke="#000" stroke-width="2.2" stroke-linecap="butt"/>
<line x1="376.2" y1="1188.6" x2="388.8" y2="1188.6" stroke="#000" stroke-width="2.2" stroke-linecap="butt"/>
<line x1="376.2" y1="1208.7" x2="388.8" y2="1208.7" stroke="#000" stroke-width="2.2" stroke-linecap="butt"/>
<line x1="372.2" y1="1198.9" x2="392.8" y2="1198.9" stroke="#000" stroke-width="2.2" stroke-linecap="butt"/>
<line x1="413.7" y1="1161.7" x2="413.7" y2="1216.8" stroke="#000" stroke-width="2.2" stroke-linecap="butt"/>
<line x1="407.4" y1="1161.7" x2="420.0" y2="1161.7" stroke="#000" stroke-width="2.2" stroke-linecap="butt"/>
<line x1="407.4" y1="1216.8" x2="420.0" y2="1216.8" stroke="#000" stroke-width="2.2" stroke-linecap="butt"/>
<line x1="403.4" y1="1189.6" x2="424.0" y2="1189.6" stroke="#000" stroke-width="2.2" stroke-linecap="butt"/>
<polyline points="136.8,893.7 136.8,860.6 168.5,860.6 168.5,893.7" fill="none" stroke="#000" stroke-width="2.4" stroke-linecap="round" stroke-linejoin="miter"/>
<text x="145.8" y="865.5" font-size="30" style="font-family:'DejaVu Sans',sans-serif;letter-spacing:3.65px;stroke:#000;stroke-width:0.9px">*</text>
<rect x="108.8" y="828.2" width="5.8" height="414.7"/>
<rect x="102.3" y="1237.1" width="336.6" height="5.8"/>
<rect x="102.3" y="828.7" width="7.5" height="5.0"/>
<text x="99.8" y="842.1" font-size="33.5" text-anchor="end" textLength="45.8" lengthAdjust="spacingAndGlyphs">2.5</text>
<rect x="102.3" y="910.5" width="7.5" height="5.0"/>
<text x="99.8" y="923.9" font-size="33.5" text-anchor="end" textLength="45.8" lengthAdjust="spacingAndGlyphs">2.0</text>
<rect x="102.3" y="992.2" width="7.5" height="5.0"/>
<text x="99.8" y="1005.6" font-size="33.5" text-anchor="end" textLength="45.8" lengthAdjust="spacingAndGlyphs">1.5</text>
<rect x="102.3" y="1074.0" width="7.5" height="5.0"/>
<text x="99.8" y="1087.4" font-size="33.5" text-anchor="end" textLength="45.8" lengthAdjust="spacingAndGlyphs">1.0</text>
<rect x="102.3" y="1155.7" width="7.5" height="5.0"/>
<text x="99.8" y="1169.1" font-size="33.5" text-anchor="end" textLength="45.8" lengthAdjust="spacingAndGlyphs">0.5</text>
<rect x="102.3" y="1237.5" width="7.5" height="5.0"/>
<text x="99.8" y="1250.9" font-size="33.5" text-anchor="end" textLength="45.8" lengthAdjust="spacingAndGlyphs">0.0</text>
<rect x="149.5" y="1240.0" width="5.0" height="9.4"/>
<text x="168.0" y="1281.4" font-size="33.5" text-anchor="end" textLength="87.9" lengthAdjust="spacingAndGlyphs" transform="rotate(-45 168.0 1281.4)">CFU-E</text>
<rect x="231.7" y="1240.0" width="5.0" height="9.4"/>
<text x="250.2" y="1281.4" font-size="33.5" text-anchor="end" textLength="137.3" lengthAdjust="spacingAndGlyphs" transform="rotate(-45 250.2 1281.4)">PreCFU-E</text>
<rect x="313.3" y="1240.0" width="5.0" height="9.4"/>
<text x="331.8" y="1281.4" font-size="33.5" text-anchor="end" textLength="208.4" lengthAdjust="spacingAndGlyphs" transform="rotate(-45 331.8 1281.4)">PreGMP/GMP</text>
<rect x="395.2" y="1240.0" width="5.0" height="9.4"/>
<text x="413.7" y="1281.4" font-size="33.5" text-anchor="end" textLength="133.1" lengthAdjust="spacingAndGlyphs" transform="rotate(-45 413.7 1281.4)">PreMegE</text>
<text x="535.0" y="748.3" font-size="43.5" font-weight="bold">f</text>
<text x="561.1" y="1201.0" font-size="33.5" textLength="333.0" lengthAdjust="spacingAndGlyphs" transform="rotate(-90 561.1 1201.0)">Colony (size 6) number</text>
<circle cx="674.4" cy="915.3" r="11.2" fill="#676767"/>
<circle cx="707.0" cy="925.6" r="11.2" fill="#676767"/>
<circle cx="690.6" cy="966.1" r="11.2" fill="#676767"/>
<circle cx="771.5" cy="1047.0" r="11.2" fill="#f92d14"/>
<circle cx="771.5" cy="1108.3" r="11.2" fill="#f92d14"/>
<circle cx="771.5" cy="1138.9" r="11.2" fill="#f92d14"/>
<line x1="691.1" y1="908.9" x2="691.1" y2="962.4" stroke="#000" stroke-width="2.2" stroke-linecap="butt"/>
<line x1="676.7" y1="908.9" x2="705.5" y2="908.9" stroke="#000" stroke-width="2.2" stroke-linecap="butt"/>
<line x1="676.7" y1="962.4" x2="705.5" y2="962.4" stroke="#000" stroke-width="2.2" stroke-linecap="butt"/>
<line x1="663.9" y1="935.4" x2="718.3" y2="935.4" stroke="#000" stroke-width="2.2" stroke-linecap="butt"/>
<line x1="771.7" y1="1051.4" x2="771.7" y2="1144.3" stroke="#000" stroke-width="2.2" stroke-linecap="butt"/>
<line x1="757.3" y1="1051.4" x2="786.1" y2="1051.4" stroke="#000" stroke-width="2.2" stroke-linecap="butt"/>
<line x1="757.3" y1="1144.3" x2="786.1" y2="1144.3" stroke="#000" stroke-width="2.2" stroke-linecap="butt"/>
<line x1="744.9" y1="1097.3" x2="798.5" y2="1097.3" stroke="#000" stroke-width="2.2" stroke-linecap="butt"/>
<polyline points="690.6,877.8 690.6,845.2 772.0,845.2 772.0,877.8" fill="none" stroke="#000" stroke-width="2.4" stroke-linecap="round" stroke-linejoin="miter"/>
<text x="718.4" y="844.7" font-size="30" style="font-family:'DejaVu Sans',sans-serif;letter-spacing:3.65px;stroke:#000;stroke-width:0.9px">**</text>
<rect x="646.9" y="831.9" width="5.8" height="410.7"/>
<rect x="634.4" y="1236.8" width="177.6" height="5.8"/>
<rect x="634.4" y="831.6" width="13.5" height="5.0"/>
<text x="629.3" y="845.0" font-size="33.5" text-anchor="end" textLength="36.7" lengthAdjust="spacingAndGlyphs">40</text>
<rect x="634.4" y="932.9" width="13.5" height="5.0"/>
<text x="629.3" y="946.3" font-size="33.5" text-anchor="end" textLength="36.7" lengthAdjust="spacingAndGlyphs">30</text>
<rect x="634.4" y="1034.5" width="13.5" height="5.0"/>
<text x="629.3" y="1047.9" font-size="33.5" text-anchor="end" textLength="36.7" lengthAdjust="spacingAndGlyphs">20</text>
<rect x="634.4" y="1136.1" width="13.5" height="5.0"/>
<text x="629.3" y="1149.5" font-size="33.5" text-anchor="end" textLength="36.7" lengthAdjust="spacingAndGlyphs">10</text>
<rect x="634.4" y="1237.7" width="13.5" height="5.0"/>
<text x="629.3" y="1251.1" font-size="33.5" text-anchor="end">0</text>
<rect x="688.1" y="1239.7" width="5.0" height="15.4"/>
<text x="708.2" y="1275.5" font-size="33.5" text-anchor="end" textLength="91.8" lengthAdjust="spacingAndGlyphs" transform="rotate(-45 708.2 1275.5)">Young</text>
<rect x="769.5" y="1239.7" width="5.0" height="15.4"/>
<text x="789.6" y="1281.6" font-size="33.5" text-anchor="end" textLength="51.3" lengthAdjust="spacingAndGlyphs" transform="rotate(-45 789.6 1281.6)">Old</text>
<text x="860.0" y="748.3" font-size="43.5" font-weight="bold">g</text>
<text x="885.3" y="1124.2" font-size="33.5" textLength="198.6" lengthAdjust="spacingAndGlyphs" transform="rotate(-90 885.3 1124.2)">Total colonies</text>
<circle cx="992.7" cy="899.0" r="11.1" fill="#676767"/>
<circle cx="1008.6" cy="892.5" r="11.1" fill="#676767"/>
<circle cx="984.3" cy="940.0" r="11.1" fill="#676767"/>
<circle cx="1000.2" cy="940.0" r="11.1" fill="#676767"/>
<circle cx="1016.6" cy="940.0" r="11.1" fill="#676767"/>
<circle cx="1000.2" cy="967.1" r="11.1" fill="#676767"/>
<circle cx="1016.6" cy="973.6" r="11.1" fill="#676767"/>
<circle cx="984.3" cy="980.1" r="11.1" fill="#676767"/>
<circle cx="1000.2" cy="994.1" r="11.1" fill="#676767"/>
<circle cx="1016.6" cy="1001.6" r="11.1" fill="#676767"/>
<circle cx="984.3" cy="1008.1" r="11.1" fill="#676767"/>
<circle cx="1082.3" cy="980.7" r="11.1" fill="#f92d14"/>
<circle cx="1082.3" cy="1014.7" r="11.1" fill="#f92d14"/>
<circle cx="1065.9" cy="1076.6" r="11.1" fill="#f92d14"/>
<circle cx="1099.1" cy="1089.3" r="11.1" fill="#f92d14"/>
<circle cx="1065.9" cy="1103.3" r="11.1" fill="#f92d14"/>
<line x1="1000.2" y1="919.0" x2="1000.2" y2="997.3" stroke="#000" stroke-width="2.2" stroke-linecap="butt"/>
<line x1="985.7" y1="919.0" x2="1014.7" y2="919.0" stroke="#000" stroke-width="2.2" stroke-linecap="butt"/>
<line x1="985.7" y1="997.3" x2="1014.7" y2="997.3" stroke="#000" stroke-width="2.2" stroke-linecap="butt"/>
<line x1="972.7" y1="957.8" x2="1027.7" y2="957.8" stroke="#000" stroke-width="2.2" stroke-linecap="butt"/>
<line x1="1082.3" y1="1001.0" x2="1082.3" y2="1106.1" stroke="#000" stroke-width="2.2" stroke-linecap="butt"/>
<line x1="1067.4" y1="1001.0" x2="1097.2" y2="1001.0" stroke="#000" stroke-width="2.2" stroke-linecap="butt"/>
<line x1="1067.4" y1="1106.1" x2="1097.2" y2="1106.1" stroke="#000" stroke-width="2.2" stroke-linecap="butt"/>
<line x1="1055.3" y1="1053.3" x2="1109.3" y2="1053.3" stroke="#000" stroke-width="2.2" stroke-linecap="butt"/>
<polyline points="1000.6,860.7 1000.6,827.2 1082.3,827.2 1082.3,860.7" fill="none" stroke="#000" stroke-width="2.4" stroke-linecap="round" stroke-linejoin="miter"/>
<text x="1026.4" y="830.2" font-size="30" style="font-family:'DejaVu Sans',sans-serif;letter-spacing:3.65px;stroke:#000;stroke-width:0.9px">**</text>
<rect x="956.6" y="828.7" width="5.8" height="414.4"/>
<rect x="950.1" y="1237.3" width="172.8" height="5.8"/>
<rect x="950.1" y="828.8" width="7.5" height="5.0"/>
<text x="945.5" y="842.2" font-size="33.5" text-anchor="end" textLength="36.7" lengthAdjust="spacingAndGlyphs">60</text>
<rect x="950.1" y="964.6" width="7.5" height="5.0"/>
<text x="945.5" y="978.0" font-size="33.5" text-anchor="end" textLength="36.7" lengthAdjust="spacingAndGlyphs">40</text>
<rect x="950.1" y="1100.4" width="7.5" height="5.0"/>
<text x="945.5" y="1113.8" font-size="33.5" text-anchor="end" textLength="36.7" lengthAdjust="spacingAndGlyphs">20</text>
<rect x="950.1" y="1236.2" width="7.5" height="5.0"/>
<text x="945.5" y="1249.6" font-size="33.5" text-anchor="end">0</text>
<rect x="998.1" y="1240.2" width="5.0" height="9.4"/>
<text x="1015.1" y="1272.6" font-size="33.5" text-anchor="end" textLength="91.8" lengthAdjust="spacingAndGlyphs" transform="rotate(-45 1015.1 1272.6)">Young</text>
<rect x="1080.2" y="1240.2" width="5.0" height="9.4"/>
<text x="1101.7" y="1274.0" font-size="33.5" text-anchor="end" textLength="51.3" lengthAdjust="spacingAndGlyphs" transform="rotate(-45 1101.7 1274.0)">Old</text>
<text x="1190.0" y="748.9" font-size="43.5" font-weight="bold">h</text>
<text x="1479.0" y="795.8" font-size="40" text-anchor="middle" textLength="328.0" lengthAdjust="spacingAndGlyphs">F test to compare</text>
<text x="1478.7" y="849.2" font-size="40" text-anchor="middle" textLength="449.0" lengthAdjust="spacingAndGlyphs">young and old variances</text>
<line x1="1225.8" y1="879.0" x2="1738.6" y2="879.0" stroke="#000" stroke-width="3.2" stroke-linecap="butt"/>
<line x1="1225.8" y1="937.8" x2="1738.6" y2="937.8" stroke="#000" stroke-width="3.2" stroke-linecap="butt"/>
<line x1="1225.8" y1="997.0" x2="1738.6" y2="997.0" stroke="#000" stroke-width="3.2" stroke-linecap="butt"/>
<line x1="1225.8" y1="1056.2" x2="1738.6" y2="1056.2" stroke="#000" stroke-width="3.2" stroke-linecap="butt"/>
<line x1="1225.8" y1="1114.9" x2="1738.6" y2="1114.9" stroke="#000" stroke-width="3.2" stroke-linecap="butt"/>
<line x1="1225.8" y1="1174.1" x2="1738.6" y2="1174.1" stroke="#000" stroke-width="3.2" stroke-linecap="butt"/>
<line x1="1225.8" y1="1232.8" x2="1738.6" y2="1232.8" stroke="#000" stroke-width="3.2" stroke-linecap="butt"/>
<line x1="1227.4" y1="879.0" x2="1227.4" y2="1232.8" stroke="#000" stroke-width="3.2" stroke-linecap="butt"/>
<line x1="1482.4" y1="879.0" x2="1482.4" y2="1232.8" stroke="#000" stroke-width="3.2" stroke-linecap="butt"/>
<line x1="1737.0" y1="879.0" x2="1737.0" y2="1232.8" stroke="#000" stroke-width="3.2" stroke-linecap="butt"/>
<text x="1617.8" y="922.6" font-size="40" text-anchor="middle" textLength="135.0" lengthAdjust="spacingAndGlyphs">p value</text>
<text x="1236.6" y="981.0" font-size="40" textLength="73.2" lengthAdjust="spacingAndGlyphs">RBC</text>
<text x="1682.0" y="981.0" font-size="40" text-anchor="end" textLength="126.5" lengthAdjust="spacingAndGlyphs">0.0003</text>
<text x="1236.6" y="1040.0" font-size="40" textLength="64.3" lengthAdjust="spacingAndGlyphs">PLT</text>
<text x="1682.0" y="1040.0" font-size="40" text-anchor="end" textLength="149.1" lengthAdjust="spacingAndGlyphs">&lt;0.0001</text>
<text x="1236.6" y="1098.8" font-size="40" textLength="88.8" lengthAdjust="spacingAndGlyphs">WBC</text>
<text x="1682.0" y="1098.8" font-size="40" text-anchor="end" textLength="126.5" lengthAdjust="spacingAndGlyphs">0.0356</text>
<text x="1236.6" y="1158.3" font-size="40" textLength="127.7" lengthAdjust="spacingAndGlyphs">LT-HSC</text>
<text x="1682.0" y="1158.3" font-size="40" text-anchor="end" textLength="149.1" lengthAdjust="spacingAndGlyphs">&lt;0.0001</text>
<text x="1236.6" y="1216.2" font-size="40" textLength="178.5" lengthAdjust="spacingAndGlyphs">P-selectin</text>
<text x="1682.0" y="1216.2" font-size="40" text-anchor="end" textLength="126.5" lengthAdjust="spacingAndGlyphs">0.0004</text>
<text x="1840.0" y="748.6" font-size="43.5" font-weight="bold">i</text>
<text x="2013.8" y="755.1" font-size="33.5" text-anchor="middle" textLength="172.5" lengthAdjust="spacingAndGlyphs">GSE180298</text>
<line x1="1926.3" y1="759.7" x2="2101.4" y2="759.7" stroke="#000" stroke-width="1.6" stroke-linecap="butt"/>
<text x="1921.1" y="799.6" font-size="33.5" textLength="188.3" lengthAdjust="spacingAndGlyphs">Human <tspan font-style="italic">SELP</tspan></text>
<text x="1977.9" y="832.8" font-size="30" style="font-family:'DejaVu Sans',sans-serif;letter-spacing:4.00px;stroke:#000;stroke-width:0.9px">****</text>
<line x1="1980.5" y1="828.9" x2="2048.6" y2="828.9" stroke="#000" stroke-width="3.3" stroke-linecap="butt"/>
<line x1="1923.0" y1="815.0" x2="1923.0" y2="1230.0" stroke="#000" stroke-width="3.8" stroke-linecap="butt"/>
<line x1="1921.1" y1="1228.0" x2="2111.3" y2="1228.0" stroke="#000" stroke-width="4" stroke-linecap="butt"/>
<line x1="1917.2" y1="866.9" x2="1923.0" y2="866.9" stroke="#000" stroke-width="3.2" stroke-linecap="butt"/>
<text x="1914.5" y="877.5" font-size="34" text-anchor="end" textLength="46.5" lengthAdjust="spacingAndGlyphs">2.0</text>
<line x1="1917.2" y1="952.6" x2="1923.0" y2="952.6" stroke="#000" stroke-width="3.2" stroke-linecap="butt"/>
<text x="1914.5" y="963.2" font-size="34" text-anchor="end" textLength="46.5" lengthAdjust="spacingAndGlyphs">1.5</text>
<line x1="1917.2" y1="1038.5" x2="1923.0" y2="1038.5" stroke="#000" stroke-width="3.2" stroke-linecap="butt"/>
<text x="1914.5" y="1049.1" font-size="34" text-anchor="end" textLength="46.5" lengthAdjust="spacingAndGlyphs">1.0</text>
<line x1="1917.2" y1="1123.8" x2="1923.0" y2="1123.8" stroke="#000" stroke-width="3.2" stroke-linecap="butt"/>
<text x="1914.5" y="1134.4" font-size="34" text-anchor="end" textLength="46.5" lengthAdjust="spacingAndGlyphs">0.5</text>
<line x1="1917.2" y1="1209.1" x2="1923.0" y2="1209.1" stroke="#000" stroke-width="3.2" stroke-linecap="butt"/>
<text x="1914.5" y="1219.7" font-size="34" text-anchor="end" textLength="46.5" lengthAdjust="spacingAndGlyphs">0.0</text>
<line x1="1973.6" y1="1228.0" x2="1973.6" y2="1233.6" stroke="#000" stroke-width="3" stroke-linecap="butt"/>
<line x1="2058.4" y1="1228.0" x2="2058.4" y2="1233.6" stroke="#000" stroke-width="3" stroke-linecap="butt"/>
<text x="1856.2" y="1132.7" font-size="33.5" textLength="246.0" lengthAdjust="spacingAndGlyphs" transform="rotate(-90 1856.2 1132.7)">Expression Level</text>
<line x1="1973.6" y1="939.4" x2="1973.6" y2="1209.0" stroke="#262626" stroke-width="3" stroke-linecap="round"/>
<line x1="2058.4" y1="835.7" x2="2058.4" y2="1209.0" stroke="#262626" stroke-width="3" stroke-linecap="round"/>
<path d="M1934.5 1209.1L1946 1207H2001L2012.5 1209.1L2001 1211.2H1946Z" fill="#111"/>
<path d="M2019.5 1209.1L2031 1207H2086L2097.5 1209.1L2086 1211.2H2031Z" fill="#111"/>
<g fill="#000"><circle cx="1928.5" cy="1076.0" r="2.1"/><circle cx="1946.0" cy="1041.9" r="2.1"/><circle cx="1958.0" cy="1040.2" r="2.1"/><circle cx="1967.0" cy="1040.2" r="2.1"/><circle cx="1972.0" cy="1041.9" r="2.1"/><circle cx="1986.5" cy="1018.0" r="2.1"/><circle cx="1991.0" cy="1031.7" r="2.1"/><circle cx="1946.5" cy="1083.7" r="2.1"/><circle cx="1952.0" cy="1069.2" r="2.1"/><circle cx="1954.0" cy="1067.5" r="2.1"/><circle cx="1957.0" cy="1062.4" r="2.1"/><circle cx="1959.0" cy="1060.7" r="2.1"/><circle cx="1962.0" cy="1076.0" r="2.1"/><circle cx="1965.0" cy="1075.2" r="2.1"/><circle cx="1966.0" cy="1086.3" r="2.1"/><circle cx="1973.0" cy="1053.9" r="2.1"/><circle cx="1976.0" cy="1054.7" r="2.1"/><circle cx="1975.0" cy="1064.1" r="2.1"/><circle cx="1977.0" cy="1088.0" r="2.1"/><circle cx="1979.0" cy="1065.8" r="2.1"/><circle cx="1982.0" cy="1062.4" r="2.1"/><circle cx="1984.0" cy="1060.7" r="2.1"/><circle cx="1986.0" cy="1055.6" r="2.1"/><circle cx="1988.0" cy="1065.8" r="2.1"/><circle cx="1987.0" cy="1086.3" r="2.1"/><circle cx="1992.0" cy="1082.0" r="2.1"/><circle cx="1990.0" cy="1050.4" r="2.1"/><circle cx="1994.0" cy="1047.0" r="2.1"/><circle cx="1998.0" cy="1047.0" r="2.1"/><circle cx="2001.0" cy="1051.3" r="2.1"/><circle cx="1997.0" cy="1058.1" r="2.1"/><circle cx="2006.0" cy="1060.7" r="2.1"/><circle cx="2006.0" cy="1077.7" r="2.1"/><circle cx="1949.0" cy="965.1" r="2.1"/><circle cx="1957.5" cy="966.8" r="2.1"/><circle cx="1968.0" cy="987.3" r="2.1"/><circle cx="1957.0" cy="995.8" r="2.1"/><circle cx="1973.6" cy="941.3" r="2.1"/><circle cx="1973.0" cy="961.7" r="2.1"/><circle cx="2028.5" cy="1010.9" r="2.1"/><circle cx="2049.0" cy="986.8" r="2.1"/><circle cx="2053.8" cy="1033.9" r="2.1"/><circle cx="2029.7" cy="1028.5" r="2.1"/><circle cx="2039.0" cy="1023.4" r="2.1"/><circle cx="2089.7" cy="1053.7" r="2.1"/><circle cx="2083.5" cy="994.4" r="2.1"/><circle cx="2045.0" cy="1021.9" r="2.1"/><circle cx="2036.1" cy="1018.9" r="2.1"/><circle cx="2061.7" cy="1060.5" r="2.1"/><circle cx="2027.6" cy="1043.4" r="2.1"/><circle cx="2045.4" cy="1037.4" r="2.1"/><circle cx="2055.1" cy="1074.3" r="2.1"/><circle cx="2040.5" cy="1019.5" r="2.1"/><circle cx="2060.2" cy="1096.1" r="2.1"/><circle cx="2092.0" cy="973.9" r="2.1"/><circle cx="2052.7" cy="1045.0" r="2.1"/><circle cx="2026.1" cy="1007.7" r="2.1"/><circle cx="2076.9" cy="996.4" r="2.1"/><circle cx="2072.1" cy="1009.9" r="2.1"/><circle cx="2064.0" cy="1060.1" r="2.1"/><circle cx="2056.6" cy="1001.9" r="2.1"/><circle cx="2092.9" cy="1037.1" r="2.1"/><circle cx="2043.3" cy="1091.5" r="2.1"/><circle cx="2055.7" cy="1030.4" r="2.1"/><circle cx="2031.6" cy="1032.1" r="2.1"/><circle cx="2040.7" cy="1027.0" r="2.1"/><circle cx="2084.4" cy="1039.0" r="2.1"/><circle cx="2085.2" cy="1052.8" r="2.1"/><circle cx="2083.9" cy="1018.9" r="2.1"/><circle cx="2085.3" cy="1044.9" r="2.1"/><circle cx="2034.0" cy="953.9" r="2.1"/><circle cx="2057.3" cy="1026.6" r="2.1"/><circle cx="2041.8" cy="1005.4" r="2.1"/><circle cx="2063.0" cy="1045.4" r="2.1"/><circle cx="2071.7" cy="954.3" r="2.1"/><circle cx="2027.2" cy="1080.5" r="2.1"/><circle cx="2078.0" cy="1004.8" r="2.1"/><circle cx="2051.3" cy="960.2" r="2.1"/><circle cx="2067.8" cy="1047.8" r="2.1"/><circle cx="2034.8" cy="1015.5" r="2.1"/><circle cx="2027.1" cy="1022.5" r="2.1"/><circle cx="2048.9" cy="1022.8" r="2.1"/><circle cx="2084.6" cy="1020.6" r="2.1"/><circle cx="2047.7" cy="1016.5" r="2.1"/><circle cx="2032.0" cy="1015.7" r="2.1"/><circle cx="2057.3" cy="932.1" r="2.1"/><circle cx="2030.6" cy="1029.3" r="2.1"/><circle cx="2034.7" cy="1031.8" r="2.1"/><circle cx="2090.0" cy="990.0" r="2.1"/><circle cx="2025.3" cy="1004.1" r="2.1"/><circle cx="2091.9" cy="994.3" r="2.1"/><circle cx="2049.1" cy="979.1" r="2.1"/><circle cx="2077.4" cy="1043.3" r="2.1"/><circle cx="2039.0" cy="1028.4" r="2.1"/><circle cx="2092.3" cy="1071.1" r="2.1"/><circle cx="2075.2" cy="948.5" r="2.1"/><circle cx="2059.6" cy="1063.8" r="2.1"/><circle cx="2043.0" cy="1023.5" r="2.1"/><circle cx="2071.9" cy="1027.4" r="2.1"/><circle cx="2092.6" cy="1046.1" r="2.1"/><circle cx="2048.9" cy="944.1" r="2.1"/><circle cx="2037.7" cy="1026.3" r="2.1"/><circle cx="2086.4" cy="1008.3" r="2.1"/><circle cx="2079.4" cy="1019.5" r="2.1"/><circle cx="2069.6" cy="1024.4" r="2.1"/><circle cx="2056.9" cy="958.8" r="2.1"/><circle cx="2078.6" cy="1061.7" r="2.1"/><circle cx="2051.1" cy="1011.1" r="2.1"/><circle cx="2089.7" cy="1080.2" r="2.1"/><circle cx="2034.0" cy="1024.8" r="2.1"/><circle cx="2079.9" cy="954.7" r="2.1"/><circle cx="2069.4" cy="1001.7" r="2.1"/><circle cx="2061.8" cy="1079.1" r="2.1"/><circle cx="2068.9" cy="974.0" r="2.1"/><circle cx="2088.8" cy="1025.4" r="2.1"/><circle cx="2038.2" cy="1001.7" r="2.1"/><circle cx="2043.9" cy="1055.9" r="2.1"/><circle cx="2052.7" cy="1041.8" r="2.1"/><circle cx="2087.1" cy="1036.5" r="2.1"/><circle cx="2086.7" cy="1054.4" r="2.1"/><circle cx="2087.6" cy="1021.2" r="2.1"/><circle cx="2024.7" cy="1083.9" r="2.1"/><circle cx="2036.2" cy="1033.2" r="2.1"/><circle cx="2056.5" cy="1024.4" r="2.1"/><circle cx="2062.4" cy="1059.1" r="2.1"/><circle cx="2078.3" cy="1054.2" r="2.1"/><circle cx="2062.6" cy="1031.3" r="2.1"/><circle cx="2058.9" cy="1034.2" r="2.1"/><circle cx="2076.6" cy="965.7" r="2.1"/><circle cx="2058.8" cy="1014.3" r="2.1"/><circle cx="2071.9" cy="1015.4" r="2.1"/><circle cx="2089.3" cy="1051.1" r="2.1"/><circle cx="2084.8" cy="1044.8" r="2.1"/><circle cx="2089.4" cy="972.9" r="2.1"/><circle cx="2033.0" cy="926.6" r="2.1"/><circle cx="2040.2" cy="1035.7" r="2.1"/><circle cx="2070.3" cy="1025.4" r="2.1"/><circle cx="2073.5" cy="1016.2" r="2.1"/><circle cx="2033.4" cy="1049.4" r="2.1"/><circle cx="2090.1" cy="946.7" r="2.1"/><circle cx="2057.5" cy="1031.2" r="2.1"/><circle cx="2053.6" cy="960.2" r="2.1"/><circle cx="2047.1" cy="1056.2" r="2.1"/><circle cx="2024.8" cy="1041.9" r="2.1"/><circle cx="2054.2" cy="975.5" r="2.1"/><circle cx="2059.3" cy="1042.3" r="2.1"/><circle cx="2092.4" cy="1003.3" r="2.1"/><circle cx="2042.0" cy="1016.1" r="2.1"/><circle cx="2077.9" cy="1030.0" r="2.1"/><circle cx="2087.2" cy="1013.5" r="2.1"/><circle cx="2041.5" cy="1003.9" r="2.1"/><circle cx="2072.4" cy="1005.0" r="2.1"/><circle cx="2027.4" cy="1041.2" r="2.1"/><circle cx="2089.1" cy="1049.2" r="2.1"/><circle cx="2079.5" cy="1027.9" r="2.1"/><circle cx="2083.8" cy="1023.6" r="2.1"/><circle cx="2047.1" cy="1034.2" r="2.1"/><circle cx="2032.4" cy="1006.1" r="2.1"/><circle cx="2040.1" cy="1049.5" r="2.1"/><circle cx="2037.5" cy="1024.8" r="2.1"/><circle cx="2044.8" cy="1022.7" r="2.1"/><circle cx="2035.9" cy="1047.1" r="2.1"/><circle cx="2024.7" cy="1004.9" r="2.1"/><circle cx="2062.0" cy="995.1" r="2.1"/><circle cx="2056.6" cy="1025.1" r="2.1"/><circle cx="2053.7" cy="920.7" r="2.1"/><circle cx="2081.8" cy="1004.8" r="2.1"/><circle cx="2092.2" cy="1059.5" r="2.1"/><circle cx="2081.7" cy="1029.6" r="2.1"/><circle cx="2047.7" cy="1062.5" r="2.1"/><circle cx="2032.5" cy="1044.0" r="2.1"/><circle cx="2034.8" cy="1029.2" r="2.1"/><circle cx="2082.3" cy="1044.0" r="2.1"/><circle cx="2040.4" cy="983.6" r="2.1"/><circle cx="2055.6" cy="1042.9" r="2.1"/><circle cx="2090.7" cy="1043.3" r="2.1"/><circle cx="2061.7" cy="961.4" r="2.1"/><circle cx="2048.4" cy="1011.1" r="2.1"/><circle cx="2050.1" cy="1032.0" r="2.1"/><circle cx="2058.7" cy="1042.0" r="2.1"/><circle cx="2041.9" cy="1028.5" r="2.1"/><circle cx="2025.0" cy="1033.1" r="2.1"/><circle cx="2039.7" cy="1024.7" r="2.1"/><circle cx="2069.4" cy="1102.2" r="2.1"/><circle cx="2084.9" cy="1047.5" r="2.1"/><circle cx="2033.9" cy="1055.5" r="2.1"/><circle cx="2068.4" cy="930.0" r="2.1"/><circle cx="2067.3" cy="1006.2" r="2.1"/><circle cx="2080.3" cy="1109.4" r="2.1"/><circle cx="2081.8" cy="1052.3" r="2.1"/><circle cx="2081.2" cy="1042.3" r="2.1"/><circle cx="2071.9" cy="986.6" r="2.1"/><circle cx="2025.6" cy="1047.6" r="2.1"/><circle cx="2081.9" cy="1034.4" r="2.1"/><circle cx="2067.3" cy="1020.3" r="2.1"/><circle cx="2023.6" cy="1055.1" r="2.1"/><circle cx="2075.8" cy="1078.1" r="2.1"/><circle cx="2028.0" cy="1093.7" r="2.1"/><circle cx="2041.1" cy="1048.3" r="2.1"/><circle cx="2037.8" cy="1031.5" r="2.1"/><circle cx="2091.7" cy="969.2" r="2.1"/><circle cx="2071.3" cy="1045.6" r="2.1"/><circle cx="2066.6" cy="1003.6" r="2.1"/><circle cx="2041.2" cy="1014.6" r="2.1"/><circle cx="2044.7" cy="1024.3" r="2.1"/><circle cx="2042.2" cy="1020.6" r="2.1"/><circle cx="2071.9" cy="1034.0" r="2.1"/><circle cx="2055.9" cy="1047.6" r="2.1"/><circle cx="2031.7" cy="1004.4" r="2.1"/><circle cx="2088.9" cy="940.7" r="2.1"/><circle cx="2055.5" cy="974.5" r="2.1"/><circle cx="2042.2" cy="991.2" r="2.1"/><circle cx="2089.6" cy="1032.7" r="2.1"/><circle cx="2060.1" cy="1038.1" r="2.1"/><circle cx="2032.7" cy="979.5" r="2.1"/><circle cx="2039.6" cy="1039.8" r="2.1"/><circle cx="2023.7" cy="977.9" r="2.1"/><circle cx="2055.0" cy="1027.9" r="2.1"/><circle cx="2045.5" cy="1016.3" r="2.1"/><circle cx="2023.5" cy="946.0" r="2.1"/><circle cx="2088.2" cy="1024.1" r="2.1"/><circle cx="2086.5" cy="1052.6" r="2.1"/><circle cx="2093.3" cy="1042.5" r="2.1"/><circle cx="2048.6" cy="1005.7" r="2.1"/><circle cx="2030.5" cy="1029.3" r="2.1"/><circle cx="2043.4" cy="959.7" r="2.1"/><circle cx="2059.2" cy="970.1" r="2.1"/><circle cx="2049.5" cy="1012.2" r="2.1"/><circle cx="2067.6" cy="923.7" r="2.1"/><circle cx="2089.2" cy="1011.7" r="2.1"/><circle cx="2074.7" cy="1037.6" r="2.1"/><circle cx="2076.1" cy="1034.7" r="2.1"/><circle cx="2088.3" cy="1038.0" r="2.1"/><circle cx="2056.5" cy="1021.9" r="2.1"/><circle cx="2091.7" cy="1038.2" r="2.1"/><circle cx="2069.3" cy="996.2" r="2.1"/><circle cx="2035.1" cy="1047.5" r="2.1"/><circle cx="2038.0" cy="1035.5" r="2.1"/><circle cx="2086.8" cy="994.3" r="2.1"/><circle cx="2054.9" cy="969.8" r="2.1"/><circle cx="2047.3" cy="1025.1" r="2.1"/><circle cx="2040.1" cy="1019.9" r="2.1"/><circle cx="2075.9" cy="1067.0" r="2.1"/><circle cx="2052.4" cy="1046.4" r="2.1"/><circle cx="2027.7" cy="1061.7" r="2.1"/><circle cx="2091.1" cy="1015.3" r="2.1"/><circle cx="2083.8" cy="1057.1" r="2.1"/><circle cx="2042.4" cy="1028.9" r="2.1"/><circle cx="2090.2" cy="1046.2" r="2.1"/><circle cx="2084.5" cy="948.4" r="2.1"/><circle cx="2086.1" cy="996.7" r="2.1"/><circle cx="2064.5" cy="1021.8" r="2.1"/><circle cx="2081.2" cy="1064.6" r="2.1"/><circle cx="2091.5" cy="921.1" r="2.1"/><circle cx="2060.0" cy="1019.1" r="2.1"/><circle cx="2089.3" cy="1020.1" r="2.1"/><circle cx="2055.4" cy="1077.0" r="2.1"/><circle cx="2026.2" cy="1090.8" r="2.1"/><circle cx="2068.6" cy="1025.0" r="2.1"/><circle cx="2032.4" cy="982.5" r="2.1"/><circle cx="2031.2" cy="1049.0" r="2.1"/><circle cx="2060.1" cy="1052.2" r="2.1"/><circle cx="2065.5" cy="1057.3" r="2.1"/><circle cx="2044.5" cy="1018.8" r="2.1"/><circle cx="2085.3" cy="999.8" r="2.1"/><circle cx="2039.8" cy="1035.8" r="2.1"/><circle cx="2044.9" cy="997.3" r="2.1"/><circle cx="2058.3" cy="1036.1" r="2.1"/><circle cx="2070.1" cy="1062.8" r="2.1"/><circle cx="2039.3" cy="957.6" r="2.1"/><circle cx="2071.2" cy="1039.5" r="2.1"/><circle cx="2079.2" cy="1010.1" r="2.1"/><circle cx="2091.3" cy="1062.8" r="2.1"/><circle cx="2080.8" cy="1028.7" r="2.1"/><circle cx="2044.0" cy="1022.1" r="2.1"/><circle cx="2058.1" cy="913.5" r="2.1"/><circle cx="2070.0" cy="1024.7" r="2.1"/><circle cx="2033.6" cy="935.3" r="2.1"/><circle cx="2033.3" cy="1015.5" r="2.1"/><circle cx="2027.6" cy="974.4" r="2.1"/><circle cx="2074.7" cy="994.2" r="2.1"/><circle cx="2088.6" cy="1012.5" r="2.1"/><circle cx="2075.6" cy="1009.3" r="2.1"/><circle cx="2069.9" cy="984.2" r="2.1"/><circle cx="2035.2" cy="1041.2" r="2.1"/><circle cx="2043.0" cy="1015.2" r="2.1"/><circle cx="2090.9" cy="1018.2" r="2.1"/><circle cx="2048.4" cy="1031.2" r="2.1"/><circle cx="2026.8" cy="1016.0" r="2.1"/><circle cx="2049.5" cy="1047.9" r="2.1"/><circle cx="2086.2" cy="958.9" r="2.1"/><circle cx="2052.2" cy="1010.0" r="2.1"/><circle cx="2025.8" cy="1033.9" r="2.1"/><circle cx="2087.8" cy="1034.1" r="2.1"/><circle cx="2047.1" cy="1029.0" r="2.1"/><circle cx="2090.4" cy="1072.1" r="2.1"/><circle cx="2045.6" cy="1040.1" r="2.1"/><circle cx="2023.7" cy="995.8" r="2.1"/><circle cx="2089.4" cy="984.9" r="2.1"/><circle cx="2039.8" cy="1042.8" r="2.1"/><circle cx="2050.5" cy="979.3" r="2.1"/><circle cx="2053.5" cy="1041.9" r="2.1"/><circle cx="2079.6" cy="1016.6" r="2.1"/><circle cx="2081.0" cy="1046.5" r="2.1"/><circle cx="2045.8" cy="1063.6" r="2.1"/><circle cx="2078.2" cy="1039.7" r="2.1"/><circle cx="2040.7" cy="1017.1" r="2.1"/><circle cx="2025.8" cy="995.9" r="2.1"/><circle cx="2085.2" cy="1087.7" r="2.1"/><circle cx="2058.3" cy="1020.3" r="2.1"/><circle cx="2054.7" cy="1025.8" r="2.1"/><circle cx="2070.6" cy="1053.0" r="2.1"/><circle cx="2082.7" cy="1006.7" r="2.1"/><circle cx="2044.0" cy="978.3" r="2.1"/><circle cx="2049.5" cy="980.9" r="2.1"/><circle cx="2040.6" cy="1025.4" r="2.1"/><circle cx="2085.3" cy="1013.6" r="2.1"/><circle cx="2092.9" cy="1054.1" r="2.1"/><circle cx="2039.6" cy="998.6" r="2.1"/><circle cx="2030.6" cy="1106.8" r="2.1"/><circle cx="2080.7" cy="1079.8" r="2.1"/><circle cx="2044.0" cy="961.8" r="2.1"/><circle cx="2036.7" cy="1031.3" r="2.1"/><circle cx="2049.5" cy="1038.5" r="2.1"/><circle cx="2054.8" cy="1009.6" r="2.1"/><circle cx="2030.8" cy="1019.7" r="2.1"/><circle cx="2033.3" cy="1027.2" r="2.1"/><circle cx="2041.2" cy="1009.0" r="2.1"/><circle cx="2024.2" cy="1051.1" r="2.1"/><circle cx="2070.9" cy="1039.5" r="2.1"/><circle cx="2079.1" cy="1033.5" r="2.1"/><circle cx="2027.8" cy="1009.6" r="2.1"/><circle cx="2068.1" cy="1048.7" r="2.1"/><circle cx="2034.9" cy="1012.4" r="2.1"/><circle cx="2044.9" cy="1063.3" r="2.1"/><circle cx="2045.3" cy="955.3" r="2.1"/><circle cx="2083.9" cy="1061.6" r="2.1"/><circle cx="2048.9" cy="942.6" r="2.1"/><circle cx="2023.8" cy="1030.2" r="2.1"/><circle cx="2053.1" cy="993.1" r="2.1"/><circle cx="2055.7" cy="1105.6" r="2.1"/><circle cx="2024.4" cy="1004.7" r="2.1"/><circle cx="2029.6" cy="1092.0" r="2.1"/><circle cx="2049.4" cy="1104.5" r="2.1"/><circle cx="2059.9" cy="1014.8" r="2.1"/><circle cx="2031.0" cy="948.2" r="2.1"/><circle cx="2037.2" cy="1010.2" r="2.1"/><circle cx="2089.4" cy="1078.6" r="2.1"/><circle cx="2088.2" cy="981.5" r="2.1"/><circle cx="2086.7" cy="1027.5" r="2.1"/><circle cx="2078.4" cy="1024.2" r="2.1"/><circle cx="2051.7" cy="1039.1" r="2.1"/><circle cx="2038.7" cy="959.9" r="2.1"/><circle cx="2059.7" cy="1039.7" r="2.1"/><circle cx="2074.1" cy="1017.2" r="2.1"/><circle cx="2026.3" cy="952.3" r="2.1"/><circle cx="2082.1" cy="1034.6" r="2.1"/><circle cx="2065.4" cy="1034.0" r="2.1"/><circle cx="2052.8" cy="1059.5" r="2.1"/><circle cx="2053.2" cy="1060.2" r="2.1"/><circle cx="2025.0" cy="1076.6" r="2.1"/><circle cx="2057.7" cy="1020.7" r="2.1"/><circle cx="2055.5" cy="1025.2" r="2.1"/><circle cx="2056.5" cy="1063.8" r="2.1"/><circle cx="2029.8" cy="1013.2" r="2.1"/><circle cx="2059.1" cy="1012.6" r="2.1"/><circle cx="2074.7" cy="1033.8" r="2.1"/><circle cx="2059.2" cy="1047.9" r="2.1"/><circle cx="2090.0" cy="1048.2" r="2.1"/><circle cx="2083.4" cy="1028.8" r="2.1"/><circle cx="2037.0" cy="977.3" r="2.1"/><circle cx="2057.8" cy="1032.5" r="2.1"/><circle cx="2078.6" cy="952.5" r="2.1"/><circle cx="2028.0" cy="980.6" r="2.1"/><circle cx="2086.2" cy="1027.8" r="2.1"/><circle cx="2080.5" cy="1040.3" r="2.1"/><circle cx="2038.0" cy="1074.3" r="2.1"/><circle cx="2058.8" cy="1028.9" r="2.1"/><circle cx="2034.7" cy="1015.6" r="2.1"/><circle cx="2071.0" cy="965.3" r="2.1"/><circle cx="2031.5" cy="941.0" r="2.1"/><circle cx="2067.9" cy="972.5" r="2.1"/><circle cx="2064.0" cy="1010.1" r="2.1"/><circle cx="2030.7" cy="1001.4" r="2.1"/><circle cx="2079.2" cy="993.7" r="2.1"/><circle cx="2092.7" cy="1043.2" r="2.1"/><circle cx="2054.4" cy="1079.6" r="2.1"/><circle cx="2075.5" cy="1001.5" r="2.1"/><circle cx="2068.1" cy="1021.6" r="2.1"/><circle cx="2064.4" cy="993.9" r="2.1"/><circle cx="2025.8" cy="1036.0" r="2.1"/><circle cx="2066.5" cy="1027.1" r="2.1"/><circle cx="2032.6" cy="1071.6" r="2.1"/><circle cx="2069.1" cy="1031.7" r="2.1"/><circle cx="2030.8" cy="1009.1" r="2.1"/><circle cx="2039.1" cy="1027.9" r="2.1"/><circle cx="2067.1" cy="1058.5" r="2.1"/><circle cx="2032.8" cy="1035.6" r="2.1"/><circle cx="2030.1" cy="969.5" r="2.1"/><circle cx="2084.4" cy="1011.8" r="2.1"/><circle cx="2024.2" cy="1061.3" r="2.1"/><circle cx="2062.8" cy="1016.6" r="2.1"/><circle cx="2089.0" cy="1041.8" r="2.1"/><circle cx="2040.8" cy="1070.2" r="2.1"/><circle cx="2051.8" cy="929.8" r="2.1"/><circle cx="2027.5" cy="1021.4" r="2.1"/><circle cx="2089.3" cy="983.4" r="2.1"/><circle cx="2037.4" cy="1026.3" r="2.1"/><circle cx="2080.3" cy="1093.7" r="2.1"/><circle cx="2045.1" cy="1029.5" r="2.1"/><circle cx="2078.2" cy="987.3" r="2.1"/><circle cx="2023.8" cy="1009.3" r="2.1"/><circle cx="2075.3" cy="971.4" r="2.1"/><circle cx="2039.2" cy="1051.2" r="2.1"/><circle cx="2046.9" cy="1027.6" r="2.1"/><circle cx="2072.1" cy="1023.6" r="2.1"/><circle cx="2062.2" cy="976.7" r="2.1"/><circle cx="2078.6" cy="1043.9" r="2.1"/><circle cx="2091.0" cy="1040.7" r="2.1"/><circle cx="2085.0" cy="999.1" r="2.1"/><circle cx="2075.5" cy="1029.2" r="2.1"/><circle cx="2075.6" cy="945.3" r="2.1"/><circle cx="2040.1" cy="1014.9" r="2.1"/><circle cx="2067.5" cy="991.1" r="2.1"/><circle cx="2056.3" cy="1092.9" r="2.1"/><circle cx="2072.2" cy="1052.0" r="2.1"/><circle cx="2063.3" cy="1020.8" r="2.1"/><circle cx="2038.2" cy="1015.6" r="2.1"/><circle cx="2033.5" cy="955.6" r="2.1"/><circle cx="2030.9" cy="1007.1" r="2.1"/><circle cx="2025.4" cy="980.9" r="2.1"/><circle cx="2071.9" cy="1018.9" r="2.1"/><circle cx="2028.0" cy="1057.0" r="2.1"/><circle cx="2048.8" cy="1098.3" r="2.1"/><circle cx="2028.0" cy="998.6" r="2.1"/><circle cx="2087.4" cy="1035.4" r="2.1"/><circle cx="2031.2" cy="952.2" r="2.1"/><circle cx="2082.7" cy="1019.6" r="2.1"/><circle cx="2067.6" cy="1085.9" r="2.1"/><circle cx="2030.4" cy="1056.8" r="2.1"/><circle cx="2045.7" cy="1027.6" r="2.1"/><circle cx="2024.9" cy="1042.1" r="2.1"/><circle cx="2049.2" cy="1034.9" r="2.1"/><circle cx="2090.9" cy="996.5" r="2.1"/><circle cx="2025.6" cy="1001.3" r="2.1"/><circle cx="2054.0" cy="1051.1" r="2.1"/><circle cx="2061.1" cy="1071.6" r="2.1"/><circle cx="2083.8" cy="1002.0" r="2.1"/><circle cx="2023.5" cy="1022.9" r="2.1"/><circle cx="2076.8" cy="1039.6" r="2.1"/><circle cx="2057.8" cy="930.6" r="2.1"/><circle cx="2036.3" cy="1033.8" r="2.1"/><circle cx="2041.6" cy="1050.4" r="2.1"/><circle cx="2043.3" cy="917.5" r="2.1"/><circle cx="2031.1" cy="1035.8" r="2.1"/><circle cx="2029.1" cy="1080.8" r="2.1"/><circle cx="2067.4" cy="1058.6" r="2.1"/><circle cx="2051.5" cy="1062.3" r="2.1"/><circle cx="2085.6" cy="1021.6" r="2.1"/><circle cx="2037.8" cy="1033.8" r="2.1"/><circle cx="2050.0" cy="1008.6" r="2.1"/><circle cx="2039.8" cy="993.7" r="2.1"/><circle cx="2076.1" cy="1061.9" r="2.1"/><circle cx="2047.8" cy="1048.6" r="2.1"/><circle cx="2069.7" cy="1006.2" r="2.1"/><circle cx="2035.3" cy="969.8" r="2.1"/><circle cx="2032.2" cy="1024.3" r="2.1"/><circle cx="2085.4" cy="1054.9" r="2.1"/><circle cx="2072.6" cy="1022.0" r="2.1"/><circle cx="2034.2" cy="943.3" r="2.1"/><circle cx="2060.0" cy="1028.0" r="2.1"/><circle cx="2046.4" cy="1010.1" r="2.1"/><circle cx="2030.5" cy="995.6" r="2.1"/><circle cx="2030.5" cy="978.8" r="2.1"/><circle cx="2074.7" cy="992.0" r="2.1"/><circle cx="2037.1" cy="1032.0" r="2.1"/><circle cx="2050.6" cy="1013.3" r="2.1"/><circle cx="2051.3" cy="1019.6" r="2.1"/><circle cx="2067.7" cy="1051.9" r="2.1"/><circle cx="2033.3" cy="1050.9" r="2.1"/><circle cx="2087.0" cy="1090.7" r="2.1"/><circle cx="2063.6" cy="1009.3" r="2.1"/><circle cx="2074.0" cy="1061.0" r="2.1"/><circle cx="2077.6" cy="958.6" r="2.1"/><circle cx="2068.3" cy="998.0" r="2.1"/><circle cx="2045.3" cy="1053.0" r="2.1"/><circle cx="2078.2" cy="1000.2" r="2.1"/><circle cx="2067.5" cy="1010.5" r="2.1"/><circle cx="2066.9" cy="1048.3" r="2.1"/><circle cx="2070.7" cy="1017.8" r="2.1"/><circle cx="2077.9" cy="950.0" r="2.1"/><circle cx="2057.7" cy="1001.0" r="2.1"/><circle cx="2034.7" cy="928.8" r="2.1"/><circle cx="2089.2" cy="1022.9" r="2.1"/><circle cx="2061.3" cy="992.0" r="2.1"/><circle cx="2059.3" cy="1003.3" r="2.1"/><circle cx="2052.1" cy="1011.4" r="2.1"/><circle cx="2038.1" cy="1006.7" r="2.1"/><circle cx="2032.0" cy="1089.3" r="2.1"/><circle cx="2048.3" cy="934.1" r="2.1"/><circle cx="2024.3" cy="1031.4" r="2.1"/><circle cx="2052.8" cy="1007.8" r="2.1"/><circle cx="2039.1" cy="1054.3" r="2.1"/><circle cx="2089.2" cy="1009.3" r="2.1"/><circle cx="2050.8" cy="1020.8" r="2.1"/><circle cx="2032.5" cy="992.1" r="2.1"/><circle cx="2056.2" cy="1013.9" r="2.1"/><circle cx="2039.2" cy="1089.1" r="2.1"/><circle cx="2080.7" cy="999.7" r="2.1"/><circle cx="2056.2" cy="988.5" r="2.1"/><circle cx="2081.8" cy="1038.4" r="2.1"/><circle cx="2082.9" cy="1031.4" r="2.1"/><circle cx="2053.2" cy="1039.4" r="2.1"/><circle cx="2023.6" cy="1017.3" r="2.1"/><circle cx="2044.5" cy="1041.1" r="2.1"/><circle cx="2053.4" cy="1013.2" r="2.1"/><circle cx="2088.4" cy="1056.1" r="2.1"/><circle cx="2027.4" cy="997.5" r="2.1"/><circle cx="2033.2" cy="975.6" r="2.1"/><circle cx="2067.7" cy="1003.6" r="2.1"/><circle cx="2069.3" cy="978.0" r="2.1"/><circle cx="2030.5" cy="1024.6" r="2.1"/><circle cx="2047.7" cy="1024.6" r="2.1"/><circle cx="2086.7" cy="993.0" r="2.1"/><circle cx="2066.0" cy="992.6" r="2.1"/><circle cx="2070.2" cy="960.1" r="2.1"/><circle cx="2037.2" cy="954.8" r="2.1"/><circle cx="2060.6" cy="1111.1" r="2.1"/><circle cx="2041.9" cy="1003.2" r="2.1"/><circle cx="2027.5" cy="1013.0" r="2.1"/><circle cx="2033.5" cy="1009.9" r="2.1"/><circle cx="2083.8" cy="1053.8" r="2.1"/><circle cx="2082.3" cy="1028.0" r="2.1"/><circle cx="2082.2" cy="1056.2" r="2.1"/><circle cx="2052.7" cy="1039.9" r="2.1"/><circle cx="2067.9" cy="927.0" r="2.1"/><circle cx="2066.1" cy="1015.0" r="2.1"/><circle cx="2092.1" cy="1001.8" r="2.1"/><circle cx="2057.3" cy="1050.4" r="2.1"/><circle cx="2067.2" cy="917.2" r="2.1"/><circle cx="2083.7" cy="1021.4" r="2.1"/><circle cx="2077.3" cy="1052.9" r="2.1"/><circle cx="2053.9" cy="1024.3" r="2.1"/><circle cx="2043.9" cy="1064.4" r="2.1"/><circle cx="2051.7" cy="1060.6" r="2.1"/><circle cx="2091.6" cy="1041.7" r="2.1"/><circle cx="2078.8" cy="986.9" r="2.1"/><circle cx="2064.5" cy="1035.3" r="2.1"/><circle cx="2078.3" cy="1003.6" r="2.1"/><circle cx="2061.6" cy="1035.5" r="2.1"/><circle cx="2044.4" cy="1070.3" r="2.1"/><circle cx="2066.0" cy="1011.2" r="2.1"/><circle cx="2078.6" cy="949.2" r="2.1"/><circle cx="2067.3" cy="1006.3" r="2.1"/><circle cx="2065.1" cy="1071.7" r="2.1"/><circle cx="2055.5" cy="1020.9" r="2.1"/><circle cx="2030.5" cy="976.0" r="2.1"/><circle cx="2087.4" cy="993.9" r="2.1"/><circle cx="2049.2" cy="1018.8" r="2.1"/><circle cx="2041.5" cy="1023.1" r="2.1"/><circle cx="2052.9" cy="1053.9" r="2.1"/><circle cx="2088.8" cy="1054.9" r="2.1"/><circle cx="2063.1" cy="1015.9" r="2.1"/><circle cx="2063.7" cy="1000.9" r="2.1"/><circle cx="2054.7" cy="928.0" r="2.1"/><circle cx="2089.0" cy="1049.1" r="2.1"/><circle cx="2056.7" cy="940.5" r="2.1"/><circle cx="2038.3" cy="1004.7" r="2.1"/><circle cx="2024.5" cy="1010.7" r="2.1"/><circle cx="2091.0" cy="1032.5" r="2.1"/><circle cx="2084.3" cy="1037.8" r="2.1"/><circle cx="2040.4" cy="995.8" r="2.1"/><circle cx="2036.5" cy="1027.8" r="2.1"/><circle cx="2083.3" cy="1023.4" r="2.1"/><circle cx="2029.3" cy="1099.1" r="2.1"/><circle cx="2088.7" cy="1046.6" r="2.1"/><circle cx="2090.9" cy="1050.3" r="2.1"/><circle cx="2068.9" cy="1028.1" r="2.1"/><circle cx="2029.0" cy="1034.6" r="2.1"/><circle cx="2083.7" cy="1029.9" r="2.1"/><circle cx="2027.6" cy="1040.5" r="2.1"/><circle cx="2070.8" cy="1047.9" r="2.1"/><circle cx="2079.2" cy="1038.2" r="2.1"/><circle cx="2052.7" cy="1046.0" r="2.1"/><circle cx="2078.4" cy="1051.1" r="2.1"/><circle cx="2043.9" cy="960.7" r="2.1"/><circle cx="2091.6" cy="1054.1" r="2.1"/><circle cx="2065.8" cy="1017.9" r="2.1"/><circle cx="2081.6" cy="997.4" r="2.1"/><circle cx="2085.6" cy="1050.7" r="2.1"/><circle cx="2071.3" cy="1008.1" r="2.1"/><circle cx="2043.2" cy="976.0" r="2.1"/><circle cx="2041.8" cy="1050.8" r="2.1"/><circle cx="2085.5" cy="1060.5" r="2.1"/><circle cx="2081.7" cy="1047.8" r="2.1"/><circle cx="2042.6" cy="999.3" r="2.1"/><circle cx="2079.9" cy="1003.2" r="2.1"/><circle cx="2029.4" cy="1002.7" r="2.1"/><circle cx="2079.2" cy="1054.6" r="2.1"/><circle cx="2039.8" cy="1028.2" r="2.1"/><circle cx="2041.2" cy="1062.3" r="2.1"/><circle cx="2078.8" cy="1029.1" r="2.1"/><circle cx="2077.5" cy="996.6" r="2.1"/><circle cx="2064.0" cy="1008.8" r="2.1"/><circle cx="2056.8" cy="939.2" r="2.1"/><circle cx="2036.6" cy="1068.0" r="2.1"/><circle cx="2048.8" cy="1014.8" r="2.1"/><circle cx="2051.6" cy="977.4" r="2.1"/><circle cx="2093.2" cy="1027.8" r="2.1"/><circle cx="2030.8" cy="1023.3" r="2.1"/><circle cx="2065.2" cy="1029.5" r="2.1"/><circle cx="2059.8" cy="1039.9" r="2.1"/><circle cx="2084.0" cy="967.2" r="2.1"/><circle cx="2063.1" cy="1015.2" r="2.1"/><circle cx="2089.7" cy="1024.3" r="2.1"/><circle cx="2080.7" cy="1077.5" r="2.1"/><circle cx="2037.5" cy="970.5" r="2.1"/><circle cx="2029.3" cy="1022.6" r="2.1"/><circle cx="2055.5" cy="1067.0" r="2.1"/><circle cx="2087.1" cy="994.6" r="2.1"/><circle cx="2031.8" cy="1045.1" r="2.1"/><circle cx="2041.4" cy="990.1" r="2.1"/><circle cx="2070.3" cy="1100.1" r="2.1"/><circle cx="2054.8" cy="1067.9" r="2.1"/><circle cx="2038.9" cy="966.3" r="2.1"/><circle cx="2041.3" cy="1041.8" r="2.1"/><circle cx="2082.0" cy="991.9" r="2.1"/><circle cx="2078.4" cy="1053.7" r="2.1"/><circle cx="2027.3" cy="1107.1" r="2.1"/><circle cx="2076.2" cy="1075.7" r="2.1"/><circle cx="2064.8" cy="983.0" r="2.1"/><circle cx="2030.8" cy="1066.0" r="2.1"/><circle cx="2057.1" cy="1028.7" r="2.1"/><circle cx="2040.1" cy="1017.7" r="2.1"/><circle cx="2073.6" cy="1029.7" r="2.1"/><circle cx="2025.9" cy="1031.2" r="2.1"/><circle cx="2084.1" cy="955.6" r="2.1"/><circle cx="2088.4" cy="1037.0" r="2.1"/><circle cx="2067.4" cy="965.2" r="2.1"/><circle cx="2056.8" cy="1048.6" r="2.1"/><circle cx="2033.4" cy="970.7" r="2.1"/><circle cx="2062.1" cy="997.9" r="2.1"/><circle cx="2084.4" cy="1017.0" r="2.1"/><circle cx="2042.4" cy="1038.4" r="2.1"/><circle cx="2046.8" cy="959.8" r="2.1"/><circle cx="2086.6" cy="1046.1" r="2.1"/><circle cx="2091.9" cy="1027.3" r="2.1"/><circle cx="2038.2" cy="1004.2" r="2.1"/><circle cx="2043.4" cy="1046.9" r="2.1"/><circle cx="2092.8" cy="1022.4" r="2.1"/><circle cx="2088.2" cy="939.3" r="2.1"/><circle cx="2027.4" cy="1038.9" r="2.1"/><circle cx="2043.9" cy="950.6" r="2.1"/><circle cx="2047.3" cy="908.7" r="2.1"/><circle cx="2023.5" cy="1024.5" r="2.1"/><circle cx="2053.9" cy="991.8" r="2.1"/><circle cx="2038.7" cy="973.9" r="2.1"/><circle cx="2077.3" cy="1018.4" r="2.1"/><circle cx="2037.2" cy="1015.4" r="2.1"/><circle cx="2058.1" cy="1004.3" r="2.1"/><circle cx="2037.8" cy="1013.6" r="2.1"/><circle cx="2064.2" cy="1054.7" r="2.1"/><circle cx="2028.0" cy="1064.4" r="2.1"/><circle cx="2027.3" cy="1090.0" r="2.1"/><circle cx="2046.9" cy="999.4" r="2.1"/><circle cx="2024.5" cy="944.1" r="2.1"/><circle cx="2056.8" cy="1000.2" r="2.1"/><circle cx="2081.6" cy="972.5" r="2.1"/><circle cx="2034.8" cy="1015.2" r="2.1"/><circle cx="2059.8" cy="1029.9" r="2.1"/><circle cx="2059.5" cy="1029.4" r="2.1"/><circle cx="2084.0" cy="1036.6" r="2.1"/><circle cx="2073.2" cy="1065.0" r="2.1"/><circle cx="2084.5" cy="1028.2" r="2.1"/><circle cx="2058.0" cy="982.4" r="2.1"/><circle cx="2024.8" cy="1085.0" r="2.1"/><circle cx="2039.1" cy="978.3" r="2.1"/><circle cx="2080.6" cy="1015.8" r="2.1"/><circle cx="2030.2" cy="1018.9" r="2.1"/><circle cx="2065.4" cy="1032.5" r="2.1"/><circle cx="2060.0" cy="1027.8" r="2.1"/><circle cx="2073.6" cy="969.1" r="2.1"/><circle cx="2032.0" cy="1003.4" r="2.1"/><circle cx="2031.9" cy="1044.8" r="2.1"/><circle cx="2033.0" cy="1028.3" r="2.1"/><circle cx="2063.5" cy="1020.2" r="2.1"/><circle cx="2034.9" cy="1052.8" r="2.1"/><circle cx="2052.8" cy="997.5" r="2.1"/><circle cx="2060.2" cy="983.2" r="2.1"/><circle cx="2047.1" cy="995.2" r="2.1"/><circle cx="2046.9" cy="1041.0" r="2.1"/><circle cx="2087.3" cy="991.5" r="2.1"/><circle cx="2082.7" cy="1043.8" r="2.1"/><circle cx="2088.8" cy="1079.5" r="2.1"/><circle cx="2052.9" cy="1033.9" r="2.1"/><circle cx="2028.2" cy="1068.3" r="2.1"/><circle cx="2058.7" cy="1009.3" r="2.1"/><circle cx="2077.8" cy="993.6" r="2.1"/><circle cx="2085.3" cy="1004.1" r="2.1"/><circle cx="2068.3" cy="1067.9" r="2.1"/><circle cx="2061.4" cy="1035.4" r="2.1"/><circle cx="2066.9" cy="994.8" r="2.1"/><circle cx="2090.0" cy="1049.9" r="2.1"/><circle cx="2044.8" cy="1031.0" r="2.1"/><circle cx="2090.3" cy="995.1" r="2.1"/><circle cx="2042.2" cy="997.3" r="2.1"/><circle cx="2032.1" cy="1039.6" r="2.1"/><circle cx="2044.0" cy="1030.7" r="2.1"/><circle cx="2029.5" cy="1031.9" r="2.1"/><circle cx="2082.2" cy="1005.4" r="2.1"/><circle cx="2037.5" cy="1088.8" r="2.1"/><circle cx="2055.7" cy="1060.4" r="2.1"/><circle cx="2045.1" cy="1070.1" r="2.1"/><circle cx="2038.9" cy="1043.3" r="2.1"/><circle cx="2024.2" cy="1075.4" r="2.1"/><circle cx="2083.7" cy="1010.1" r="2.1"/><circle cx="2043.3" cy="1050.6" r="2.1"/><circle cx="2044.1" cy="984.1" r="2.1"/><circle cx="2084.4" cy="1026.8" r="2.1"/><circle cx="2027.7" cy="1021.9" r="2.1"/><circle cx="2031.0" cy="1059.3" r="2.1"/><circle cx="2090.6" cy="1016.0" r="2.1"/><circle cx="2048.1" cy="1014.1" r="2.1"/><circle cx="2066.5" cy="1004.4" r="2.1"/><circle cx="2075.1" cy="952.4" r="2.1"/><circle cx="2076.6" cy="1079.7" r="2.1"/><circle cx="2087.4" cy="1021.3" r="2.1"/><circle cx="2084.4" cy="1059.6" r="2.1"/><circle cx="2058.3" cy="1025.6" r="2.1"/><circle cx="2063.4" cy="1015.3" r="2.1"/><circle cx="2065.9" cy="1019.5" r="2.1"/><circle cx="2055.1" cy="1068.9" r="2.1"/><circle cx="2050.7" cy="1031.1" r="2.1"/><circle cx="2050.3" cy="1068.7" r="2.1"/><circle cx="2058.4" cy="1019.1" r="2.1"/><circle cx="2036.3" cy="1067.0" r="2.1"/><circle cx="2064.1" cy="1011.8" r="2.1"/><circle cx="2087.8" cy="1007.1" r="2.1"/><circle cx="2090.5" cy="1006.6" r="2.1"/><circle cx="2053.3" cy="1060.8" r="2.1"/><circle cx="2062.9" cy="959.6" r="2.1"/><circle cx="2087.8" cy="1027.8" r="2.1"/><circle cx="2059.6" cy="1070.2" r="2.1"/><circle cx="2065.0" cy="1064.7" r="2.1"/><circle cx="2089.8" cy="1015.9" r="2.1"/><circle cx="2049.6" cy="1053.5" r="2.1"/><circle cx="2062.7" cy="1029.7" r="2.1"/><circle cx="2057.5" cy="958.1" r="2.1"/><circle cx="2067.1" cy="1064.5" r="2.1"/><circle cx="2080.5" cy="993.5" r="2.1"/><circle cx="2045.7" cy="1007.3" r="2.1"/><circle cx="2031.1" cy="951.5" r="2.1"/><circle cx="2071.7" cy="1006.6" r="2.1"/><circle cx="2052.9" cy="949.5" r="2.1"/><circle cx="2043.7" cy="1030.9" r="2.1"/><circle cx="2036.2" cy="1061.5" r="2.1"/><circle cx="2065.6" cy="1035.9" r="2.1"/><circle cx="2026.4" cy="999.2" r="2.1"/><circle cx="2078.5" cy="1029.4" r="2.1"/><circle cx="2044.7" cy="1028.9" r="2.1"/><circle cx="2064.4" cy="973.1" r="2.1"/><circle cx="2062.1" cy="1019.3" r="2.1"/><circle cx="2068.7" cy="1005.6" r="2.1"/><circle cx="2052.2" cy="981.6" r="2.1"/><circle cx="2034.4" cy="1028.7" r="2.1"/><circle cx="2035.3" cy="1020.3" r="2.1"/><circle cx="2081.0" cy="1023.4" r="2.1"/><circle cx="2024.3" cy="1030.0" r="2.1"/><circle cx="2046.0" cy="1048.8" r="2.1"/><circle cx="2042.1" cy="1050.2" r="2.1"/><circle cx="2086.7" cy="1018.4" r="2.1"/><circle cx="2050.4" cy="1061.1" r="2.1"/><circle cx="2085.7" cy="1010.1" r="2.1"/><circle cx="2066.8" cy="992.4" r="2.1"/><circle cx="2026.5" cy="1033.8" r="2.1"/><circle cx="2086.3" cy="952.1" r="2.1"/><circle cx="2044.7" cy="1063.3" r="2.1"/><circle cx="2089.9" cy="988.7" r="2.1"/><circle cx="2050.7" cy="1034.2" r="2.1"/><circle cx="2084.7" cy="1028.8" r="2.1"/><circle cx="2078.9" cy="1010.9" r="2.1"/><circle cx="2036.5" cy="1019.3" r="2.1"/><circle cx="2043.7" cy="941.8" r="2.1"/><circle cx="2050.4" cy="997.1" r="2.1"/><circle cx="2028.0" cy="1011.6" r="2.1"/><circle cx="2040.5" cy="1019.5" r="2.1"/><circle cx="2043.3" cy="1045.2" r="2.1"/><circle cx="2047.3" cy="998.7" r="2.1"/><circle cx="2072.8" cy="1021.7" r="2.1"/><circle cx="2032.3" cy="1033.1" r="2.1"/><circle cx="2081.9" cy="989.7" r="2.1"/><circle cx="2074.0" cy="1014.5" r="2.1"/><circle cx="2090.5" cy="1012.2" r="2.1"/><circle cx="2039.3" cy="1005.1" r="2.1"/><circle cx="2032.6" cy="1035.6" r="2.1"/><circle cx="2064.5" cy="1041.0" r="2.1"/><circle cx="2040.6" cy="984.5" r="2.1"/><circle cx="2032.0" cy="1015.7" r="2.1"/><circle cx="2061.4" cy="954.3" r="2.1"/><circle cx="2069.4" cy="1025.5" r="2.1"/><circle cx="2045.2" cy="1075.1" r="2.1"/><circle cx="2083.0" cy="1017.3" r="2.1"/><circle cx="2069.8" cy="1021.7" r="2.1"/><circle cx="2058.4" cy="1046.2" r="2.1"/><circle cx="2028.0" cy="1035.6" r="2.1"/><circle cx="2073.6" cy="1026.7" r="2.1"/><circle cx="2051.6" cy="1017.7" r="2.1"/><circle cx="2083.7" cy="959.2" r="2.1"/><circle cx="2042.8" cy="1070.1" r="2.1"/><circle cx="2048.0" cy="1041.2" r="2.1"/><circle cx="2069.5" cy="1055.6" r="2.1"/><circle cx="2048.0" cy="1034.3" r="2.1"/><circle cx="2036.1" cy="955.8" r="2.1"/><circle cx="2073.3" cy="999.8" r="2.1"/><circle cx="2026.2" cy="1045.6" r="2.1"/><circle cx="2050.1" cy="1022.7" r="2.1"/><circle cx="2045.2" cy="1011.8" r="2.1"/><circle cx="2063.3" cy="1001.6" r="2.1"/><circle cx="2041.2" cy="964.3" r="2.1"/><circle cx="2023.5" cy="1035.9" r="2.1"/><circle cx="2077.8" cy="999.2" r="2.1"/><circle cx="2065.9" cy="989.5" r="2.1"/><circle cx="2040.5" cy="1017.6" r="2.1"/><circle cx="2087.4" cy="1024.6" r="2.1"/><circle cx="2029.4" cy="1062.3" r="2.1"/><circle cx="2081.4" cy="1088.4" r="2.1"/><circle cx="2029.7" cy="1007.2" r="2.1"/><circle cx="2071.8" cy="1040.2" r="2.1"/><circle cx="2081.5" cy="991.7" r="2.1"/><circle cx="2072.3" cy="1048.2" r="2.1"/><circle cx="2059.2" cy="1026.3" r="2.1"/><circle cx="2026.5" cy="930.1" r="2.1"/><circle cx="2079.8" cy="985.2" r="2.1"/><circle cx="2068.0" cy="1080.0" r="2.1"/><circle cx="2040.9" cy="1066.2" r="2.1"/><circle cx="2037.5" cy="1041.5" r="2.1"/><circle cx="2033.0" cy="1011.8" r="2.1"/><circle cx="2040.3" cy="1049.6" r="2.1"/><circle cx="2054.6" cy="1061.6" r="2.1"/><circle cx="2085.3" cy="987.4" r="2.1"/><circle cx="2062.8" cy="1014.4" r="2.1"/><circle cx="2076.6" cy="1018.0" r="2.1"/><circle cx="2070.1" cy="1051.9" r="2.1"/><circle cx="2081.6" cy="1102.8" r="2.1"/><circle cx="2043.7" cy="1019.8" r="2.1"/><circle cx="2043.1" cy="1026.3" r="2.1"/><circle cx="2072.5" cy="1021.3" r="2.1"/><circle cx="2056.2" cy="1014.5" r="2.1"/><circle cx="2035.2" cy="1016.4" r="2.1"/><circle cx="2075.9" cy="964.7" r="2.1"/><circle cx="2073.6" cy="1023.9" r="2.1"/><circle cx="2057.6" cy="985.3" r="2.1"/><circle cx="2036.7" cy="1032.1" r="2.1"/><circle cx="2068.5" cy="943.3" r="2.1"/><circle cx="2088.9" cy="1030.3" r="2.1"/><circle cx="2033.1" cy="1035.4" r="2.1"/><circle cx="2077.6" cy="1012.9" r="2.1"/><circle cx="2068.1" cy="976.5" r="2.1"/><circle cx="2088.3" cy="949.3" r="2.1"/><circle cx="2075.4" cy="1019.9" r="2.1"/><circle cx="2036.3" cy="1065.9" r="2.1"/><circle cx="2062.0" cy="1051.8" r="2.1"/><circle cx="2081.6" cy="1010.5" r="2.1"/><circle cx="2067.4" cy="1002.7" r="2.1"/><circle cx="2072.8" cy="1021.5" r="2.1"/><circle cx="2058.4" cy="932.8" r="2.1"/><circle cx="2044.4" cy="1036.4" r="2.1"/><circle cx="2034.9" cy="980.4" r="2.1"/><circle cx="2091.3" cy="1013.2" r="2.1"/><circle cx="2036.8" cy="1006.9" r="2.1"/><circle cx="2023.6" cy="1024.1" r="2.1"/><circle cx="2053.2" cy="933.4" r="2.1"/><circle cx="2069.7" cy="1056.7" r="2.1"/><circle cx="2054.1" cy="1067.9" r="2.1"/><circle cx="2081.2" cy="1017.4" r="2.1"/><circle cx="2054.4" cy="955.6" r="2.1"/><circle cx="2047.8" cy="1005.6" r="2.1"/><circle cx="2055.6" cy="1012.7" r="2.1"/><circle cx="2087.0" cy="954.9" r="2.1"/><circle cx="2029.0" cy="1128.9" r="2.1"/><circle cx="2046.0" cy="1140.9" r="2.1"/><circle cx="2083.0" cy="1137.4" r="2.1"/><circle cx="2028.0" cy="867.9" r="2.1"/><circle cx="2039.0" cy="879.8" r="2.1"/><circle cx="2026.0" cy="886.7" r="2.1"/><circle cx="2035.0" cy="893.5" r="2.1"/><circle cx="2047.0" cy="891.8" r="2.1"/><circle cx="2029.0" cy="900.3" r="2.1"/><circle cx="2076.0" cy="895.2" r="2.1"/><circle cx="2067.0" cy="902.0" r="2.1"/><circle cx="2052.0" cy="835.5" r="2.1"/><circle cx="2029.0" cy="1098.2" r="2.1"/><circle cx="2042.0" cy="1103.3" r="2.1"/><circle cx="2058.0" cy="1106.7" r="2.1"/><circle cx="2072.0" cy="1111.9" r="2.1"/><circle cx="2086.0" cy="1105.0" r="2.1"/></g>
<text x="1989.6" y="1250.6" font-size="33.5" text-anchor="end" textLength="91.8" lengthAdjust="spacingAndGlyphs" transform="rotate(-45 1989.6 1250.6)">Young</text>
<text x="2075.2" y="1253.0" font-size="33.5" text-anchor="end" textLength="51.3" lengthAdjust="spacingAndGlyphs" transform="rotate(-45 2075.2 1253.0)">Old</text>
<text x="12.0" y="1445.4" font-size="43.5" font-weight="bold">j</text>
<text x="339.6" y="1485.1" font-size="33.5" text-anchor="middle" textLength="193.3" lengthAdjust="spacingAndGlyphs">Aged LT-HSC</text>
<path d="M144 1760h2v2h-2zM144 1768h2v2h-2zM146 1678h2v2h-2zM146 1768h2v2h-2zM150 1680h2v2h-2zM152 1712h2v2h-2zM152 1730h2v2h-2zM152 1746h2v2h-2zM154 1676h2v2h-2zM154 1690h2v2h-2zM156 1722h2v2h-2zM156 1754h2v2h-2zM160 1712h2v2h-2zM162 1678h2v2h-2zM164 1710h2v2h-2zM164 1738h2v2h-2zM164 1750h2v2h-2zM164 1758h2v2h-2zM166 1752h2v2h-2zM168 1696h2v2h-2zM168 1772h2v2h-2zM170 1702h2v2h-2zM170 1718h2v2h-2zM170 1748h2v2h-2zM170 1750h2v2h-2zM170 1764h2v2h-2zM172 1712h2v2h-2zM172 1714h2v2h-2zM172 1716h2v2h-2zM172 1760h2v2h-2zM174 1730h2v2h-2zM174 1746h2v2h-2zM174 1762h2v2h-2zM176 1708h2v2h-2zM176 1734h2v2h-2zM176 1748h2v2h-2zM178 1718h2v2h-2zM178 1736h2v2h-2zM180 1720h2v2h-2zM180 1756h2v2h-2zM182 1680h2v2h-2zM184 1730h2v2h-2zM186 1688h2v2h-2zM186 1690h2v2h-2zM186 1726h2v2h-2zM186 1730h2v2h-2zM186 1744h2v2h-2zM186 1766h2v2h-2zM186 1768h2v2h-2zM188 1728h2v2h-2zM188 1730h2v2h-2zM188 1760h2v2h-2zM188 1762h2v2h-2zM188 1776h2v2h-2zM190 1686h2v2h-2zM190 1740h2v2h-2zM192 1686h2v2h-2zM192 1688h2v2h-2zM192 1700h2v2h-2zM192 1706h2v2h-2zM192 1710h2v2h-2zM192 1730h2v2h-2zM192 1740h2v2h-2zM192 1754h2v2h-2zM192 1762h2v2h-2zM194 1710h2v2h-2zM194 1712h2v2h-2zM194 1716h2v2h-2zM194 1724h2v2h-2zM194 1772h2v2h-2zM194 1774h2v2h-2zM196 1682h2v2h-2zM196 1694h2v2h-2zM196 1698h2v2h-2zM196 1702h2v2h-2zM196 1774h2v2h-2zM198 1708h2v2h-2zM198 1712h2v2h-2zM198 1718h2v2h-2zM198 1732h2v2h-2zM198 1738h2v2h-2zM198 1740h2v2h-2zM198 1748h2v2h-2zM198 1754h2v2h-2zM198 1774h2v2h-2zM200 1708h2v2h-2zM200 1716h2v2h-2zM200 1730h2v2h-2zM200 1746h2v2h-2zM200 1752h2v2h-2zM200 1760h2v2h-2zM200 1762h2v2h-2zM202 1704h2v2h-2zM202 1734h2v2h-2zM202 1740h2v2h-2zM202 1744h2v2h-2zM202 1760h2v2h-2zM202 1762h2v2h-2zM202 1768h2v2h-2zM202 1778h2v2h-2zM204 1710h2v2h-2zM204 1714h2v2h-2zM204 1716h2v2h-2zM204 1722h2v2h-2zM204 1730h2v2h-2zM204 1736h2v2h-2zM204 1738h2v2h-2zM204 1748h2v2h-2zM204 1752h2v2h-2zM204 1778h2v2h-2zM206 1684h2v2h-2zM206 1700h2v2h-2zM206 1714h2v2h-2zM206 1718h2v2h-2zM206 1730h2v2h-2zM206 1734h2v2h-2zM206 1750h2v2h-2zM206 1766h2v2h-2zM206 1770h2v2h-2zM208 1688h2v2h-2zM208 1690h2v2h-2zM208 1708h2v2h-2zM208 1710h2v2h-2zM208 1712h2v2h-2zM208 1718h2v2h-2zM208 1730h2v2h-2zM208 1732h2v2h-2zM208 1744h2v2h-2zM208 1746h2v2h-2zM208 1758h2v2h-2zM208 1768h2v2h-2zM210 1700h2v2h-2zM210 1710h2v2h-2zM210 1712h2v2h-2zM210 1748h2v2h-2zM210 1758h2v2h-2zM210 1772h2v2h-2zM212 1686h2v2h-2zM212 1710h2v2h-2zM212 1716h2v2h-2zM212 1720h2v2h-2zM212 1722h2v2h-2zM212 1730h2v2h-2zM212 1738h2v2h-2zM212 1754h2v2h-2zM212 1768h2v2h-2zM212 1774h2v2h-2zM214 1670h2v2h-2zM214 1678h2v2h-2zM214 1700h2v2h-2zM214 1702h2v2h-2zM214 1718h2v2h-2zM214 1720h2v2h-2zM214 1734h2v2h-2zM214 1752h2v2h-2zM214 1778h2v2h-2zM216 1692h2v2h-2zM216 1744h2v2h-2zM216 1748h2v2h-2zM216 1752h2v2h-2zM216 1756h2v2h-2zM216 1778h2v2h-2zM218 1682h2v2h-2zM218 1704h2v2h-2zM218 1706h2v2h-2zM218 1708h2v2h-2zM218 1710h2v2h-2zM218 1722h2v2h-2zM218 1730h2v2h-2zM218 1738h2v2h-2zM218 1742h2v2h-2zM220 1688h2v2h-2zM220 1694h2v2h-2zM220 1712h2v2h-2zM220 1726h2v2h-2zM220 1756h2v2h-2zM220 1762h2v2h-2zM220 1770h2v2h-2zM220 1776h2v2h-2zM220 1778h2v2h-2zM222 1674h2v2h-2zM222 1678h2v2h-2zM222 1696h2v2h-2zM222 1702h2v2h-2zM222 1726h2v2h-2zM222 1730h2v2h-2zM222 1738h2v2h-2zM222 1742h2v2h-2zM222 1760h2v2h-2zM222 1774h2v2h-2zM224 1680h2v2h-2zM224 1694h2v2h-2zM224 1714h2v2h-2zM224 1720h2v2h-2zM224 1724h2v2h-2zM224 1728h2v2h-2zM224 1736h2v2h-2zM224 1742h2v2h-2zM224 1764h2v2h-2zM226 1686h2v2h-2zM226 1688h2v2h-2zM226 1694h2v2h-2zM226 1714h2v2h-2zM226 1726h2v2h-2zM226 1734h2v2h-2zM226 1746h2v2h-2zM226 1748h2v2h-2zM226 1752h2v2h-2zM226 1758h2v2h-2zM226 1768h2v2h-2zM228 1678h2v2h-2zM228 1680h2v2h-2zM228 1682h2v2h-2zM228 1692h2v2h-2zM228 1694h2v2h-2zM228 1700h2v2h-2zM228 1714h2v2h-2zM228 1722h2v2h-2zM228 1734h2v2h-2zM228 1762h2v2h-2zM230 1666h2v2h-2zM230 1668h2v2h-2zM230 1680h2v2h-2zM230 1682h2v2h-2zM230 1684h2v2h-2zM230 1706h2v2h-2zM230 1714h2v2h-2zM230 1716h2v2h-2zM230 1720h2v2h-2zM230 1722h2v2h-2zM230 1724h2v2h-2zM230 1726h2v2h-2zM230 1728h2v2h-2zM230 1740h2v2h-2zM230 1752h2v2h-2zM230 1758h2v2h-2zM230 1760h2v2h-2zM230 1772h2v2h-2zM232 1690h2v2h-2zM232 1706h2v2h-2zM232 1708h2v2h-2zM232 1716h2v2h-2zM232 1718h2v2h-2zM232 1720h2v2h-2zM232 1722h2v2h-2zM232 1734h2v2h-2zM232 1738h2v2h-2zM232 1746h2v2h-2zM232 1752h2v2h-2zM232 1758h2v2h-2zM232 1766h2v2h-2zM232 1774h2v2h-2zM234 1662h2v2h-2zM234 1668h2v2h-2zM234 1678h2v2h-2zM234 1688h2v2h-2zM234 1694h2v2h-2zM234 1708h2v2h-2zM234 1710h2v2h-2zM234 1712h2v2h-2zM234 1716h2v2h-2zM234 1720h2v2h-2zM234 1722h2v2h-2zM234 1724h2v2h-2zM234 1728h2v2h-2zM234 1736h2v2h-2zM234 1740h2v2h-2zM234 1742h2v2h-2zM234 1746h2v2h-2zM234 1756h2v2h-2zM234 1760h2v2h-2zM234 1762h2v2h-2zM234 1772h2v2h-2zM236 1660h2v2h-2zM236 1672h2v2h-2zM236 1684h2v2h-2zM236 1690h2v2h-2zM236 1698h2v2h-2zM236 1704h2v2h-2zM236 1724h2v2h-2zM236 1738h2v2h-2zM236 1742h2v2h-2zM236 1752h2v2h-2zM236 1756h2v2h-2zM236 1760h2v2h-2zM238 1640h2v2h-2zM238 1686h2v2h-2zM238 1690h2v2h-2zM238 1692h2v2h-2zM238 1694h2v2h-2zM238 1702h2v2h-2zM238 1704h2v2h-2zM238 1706h2v2h-2zM238 1708h2v2h-2zM238 1714h2v2h-2zM238 1716h2v2h-2zM238 1722h2v2h-2zM238 1724h2v2h-2zM238 1730h2v2h-2zM238 1732h2v2h-2zM238 1740h2v2h-2zM238 1766h2v2h-2zM238 1772h2v2h-2zM240 1682h2v2h-2zM240 1694h2v2h-2zM240 1698h2v2h-2zM240 1710h2v2h-2zM240 1716h2v2h-2zM240 1718h2v2h-2zM240 1726h2v2h-2zM240 1730h2v2h-2zM240 1742h2v2h-2zM240 1750h2v2h-2zM240 1760h2v2h-2zM242 1664h2v2h-2zM242 1678h2v2h-2zM242 1680h2v2h-2zM242 1692h2v2h-2zM242 1694h2v2h-2zM242 1704h2v2h-2zM242 1714h2v2h-2zM242 1718h2v2h-2zM242 1732h2v2h-2zM242 1738h2v2h-2zM242 1742h2v2h-2zM242 1744h2v2h-2zM242 1776h2v2h-2zM242 1778h2v2h-2zM244 1686h2v2h-2zM244 1690h2v2h-2zM244 1694h2v2h-2zM244 1698h2v2h-2zM244 1700h2v2h-2zM244 1702h2v2h-2zM244 1704h2v2h-2zM244 1708h2v2h-2zM244 1712h2v2h-2zM244 1722h2v2h-2zM244 1724h2v2h-2zM244 1726h2v2h-2zM244 1728h2v2h-2zM244 1732h2v2h-2zM244 1744h2v2h-2zM244 1746h2v2h-2zM244 1750h2v2h-2zM244 1752h2v2h-2zM244 1754h2v2h-2zM244 1756h2v2h-2zM244 1772h2v2h-2zM244 1776h2v2h-2zM246 1680h2v2h-2zM246 1690h2v2h-2zM246 1692h2v2h-2zM246 1702h2v2h-2zM246 1706h2v2h-2zM246 1708h2v2h-2zM246 1716h2v2h-2zM246 1718h2v2h-2zM246 1720h2v2h-2zM246 1732h2v2h-2zM246 1738h2v2h-2zM246 1740h2v2h-2zM246 1746h2v2h-2zM246 1758h2v2h-2zM246 1762h2v2h-2zM246 1770h2v2h-2zM248 1680h2v2h-2zM248 1686h2v2h-2zM248 1688h2v2h-2zM248 1690h2v2h-2zM248 1692h2v2h-2zM248 1696h2v2h-2zM248 1702h2v2h-2zM248 1710h2v2h-2zM248 1714h2v2h-2zM248 1722h2v2h-2zM248 1734h2v2h-2zM248 1738h2v2h-2zM248 1744h2v2h-2zM248 1746h2v2h-2zM248 1748h2v2h-2zM248 1756h2v2h-2zM248 1760h2v2h-2zM248 1768h2v2h-2zM248 1772h2v2h-2zM248 1774h2v2h-2zM248 1776h2v2h-2zM250 1674h2v2h-2zM250 1676h2v2h-2zM250 1684h2v2h-2zM250 1688h2v2h-2zM250 1698h2v2h-2zM250 1704h2v2h-2zM250 1708h2v2h-2zM250 1712h2v2h-2zM250 1716h2v2h-2zM250 1726h2v2h-2zM250 1734h2v2h-2zM250 1736h2v2h-2zM250 1742h2v2h-2zM250 1744h2v2h-2zM250 1758h2v2h-2zM250 1760h2v2h-2zM250 1766h2v2h-2zM252 1658h2v2h-2zM252 1670h2v2h-2zM252 1678h2v2h-2zM252 1682h2v2h-2zM252 1686h2v2h-2zM252 1688h2v2h-2zM252 1692h2v2h-2zM252 1698h2v2h-2zM252 1706h2v2h-2zM252 1708h2v2h-2zM252 1710h2v2h-2zM252 1722h2v2h-2zM252 1724h2v2h-2zM252 1730h2v2h-2zM252 1744h2v2h-2zM252 1746h2v2h-2zM252 1750h2v2h-2zM252 1752h2v2h-2zM252 1754h2v2h-2zM252 1758h2v2h-2zM252 1768h2v2h-2zM252 1776h2v2h-2zM254 1662h2v2h-2zM254 1676h2v2h-2zM254 1678h2v2h-2zM254 1684h2v2h-2zM254 1686h2v2h-2zM254 1690h2v2h-2zM254 1692h2v2h-2zM254 1696h2v2h-2zM254 1700h2v2h-2zM254 1706h2v2h-2zM254 1712h2v2h-2zM254 1716h2v2h-2zM254 1722h2v2h-2zM254 1726h2v2h-2zM254 1728h2v2h-2zM254 1732h2v2h-2zM254 1738h2v2h-2zM254 1744h2v2h-2zM254 1758h2v2h-2zM256 1672h2v2h-2zM256 1674h2v2h-2zM256 1678h2v2h-2zM256 1680h2v2h-2zM256 1684h2v2h-2zM256 1686h2v2h-2zM256 1692h2v2h-2zM256 1694h2v2h-2zM256 1696h2v2h-2zM256 1702h2v2h-2zM256 1710h2v2h-2zM256 1724h2v2h-2zM256 1728h2v2h-2zM256 1732h2v2h-2zM256 1734h2v2h-2zM256 1736h2v2h-2zM256 1738h2v2h-2zM256 1740h2v2h-2zM256 1742h2v2h-2zM256 1754h2v2h-2zM256 1760h2v2h-2zM256 1764h2v2h-2zM258 1668h2v2h-2zM258 1672h2v2h-2zM258 1678h2v2h-2zM258 1682h2v2h-2zM258 1694h2v2h-2zM258 1704h2v2h-2zM258 1708h2v2h-2zM258 1710h2v2h-2zM258 1714h2v2h-2zM258 1718h2v2h-2zM258 1724h2v2h-2zM258 1736h2v2h-2zM258 1738h2v2h-2zM258 1740h2v2h-2zM258 1744h2v2h-2zM258 1746h2v2h-2zM258 1756h2v2h-2zM258 1758h2v2h-2zM260 1676h2v2h-2zM260 1680h2v2h-2zM260 1692h2v2h-2zM260 1696h2v2h-2zM260 1700h2v2h-2zM260 1704h2v2h-2zM260 1706h2v2h-2zM260 1708h2v2h-2zM260 1714h2v2h-2zM260 1720h2v2h-2zM260 1730h2v2h-2zM260 1740h2v2h-2zM260 1754h2v2h-2zM262 1682h2v2h-2zM262 1688h2v2h-2zM262 1690h2v2h-2zM262 1692h2v2h-2zM262 1696h2v2h-2zM262 1698h2v2h-2zM262 1700h2v2h-2zM262 1704h2v2h-2zM262 1706h2v2h-2zM262 1710h2v2h-2zM262 1716h2v2h-2zM262 1728h2v2h-2zM262 1730h2v2h-2zM262 1736h2v2h-2zM262 1738h2v2h-2zM262 1740h2v2h-2zM262 1742h2v2h-2zM262 1748h2v2h-2zM262 1750h2v2h-2zM262 1762h2v2h-2zM262 1772h2v2h-2zM264 1654h2v2h-2zM264 1678h2v2h-2zM264 1692h2v2h-2zM264 1694h2v2h-2zM264 1696h2v2h-2zM264 1698h2v2h-2zM264 1700h2v2h-2zM264 1702h2v2h-2zM264 1704h2v2h-2zM264 1706h2v2h-2zM264 1708h2v2h-2zM264 1712h2v2h-2zM264 1716h2v2h-2zM264 1718h2v2h-2zM264 1722h2v2h-2zM264 1724h2v2h-2zM264 1726h2v2h-2zM264 1730h2v2h-2zM264 1742h2v2h-2zM264 1744h2v2h-2zM264 1746h2v2h-2zM264 1748h2v2h-2zM264 1756h2v2h-2zM264 1760h2v2h-2zM264 1764h2v2h-2zM264 1772h2v2h-2zM264 1774h2v2h-2zM264 1776h2v2h-2zM266 1670h2v2h-2zM266 1680h2v2h-2zM266 1692h2v2h-2zM266 1694h2v2h-2zM266 1696h2v2h-2zM266 1698h2v2h-2zM266 1706h2v2h-2zM266 1710h2v2h-2zM266 1714h2v2h-2zM266 1718h2v2h-2zM266 1720h2v2h-2zM266 1728h2v2h-2zM266 1730h2v2h-2zM266 1732h2v2h-2zM266 1746h2v2h-2zM266 1752h2v2h-2zM266 1758h2v2h-2zM266 1760h2v2h-2zM266 1770h2v2h-2zM266 1772h2v2h-2zM266 1776h2v2h-2zM268 1658h2v2h-2zM268 1664h2v2h-2zM268 1670h2v2h-2zM268 1672h2v2h-2zM268 1680h2v2h-2zM268 1682h2v2h-2zM268 1684h2v2h-2zM268 1692h2v2h-2zM268 1694h2v2h-2zM268 1706h2v2h-2zM268 1708h2v2h-2zM268 1714h2v2h-2zM268 1718h2v2h-2zM268 1720h2v2h-2zM268 1728h2v2h-2zM268 1730h2v2h-2zM268 1732h2v2h-2zM268 1734h2v2h-2zM268 1736h2v2h-2zM268 1740h2v2h-2zM268 1754h2v2h-2zM268 1764h2v2h-2zM268 1766h2v2h-2zM268 1770h2v2h-2zM268 1776h2v2h-2zM270 1654h2v2h-2zM270 1670h2v2h-2zM270 1672h2v2h-2zM270 1676h2v2h-2zM270 1684h2v2h-2zM270 1690h2v2h-2zM270 1694h2v2h-2zM270 1698h2v2h-2zM270 1706h2v2h-2zM270 1710h2v2h-2zM270 1714h2v2h-2zM270 1716h2v2h-2zM270 1718h2v2h-2zM270 1720h2v2h-2zM270 1730h2v2h-2zM270 1732h2v2h-2zM270 1736h2v2h-2zM270 1738h2v2h-2zM270 1744h2v2h-2zM270 1750h2v2h-2zM270 1752h2v2h-2zM270 1756h2v2h-2zM270 1770h2v2h-2zM270 1772h2v2h-2zM272 1662h2v2h-2zM272 1670h2v2h-2zM272 1686h2v2h-2zM272 1688h2v2h-2zM272 1690h2v2h-2zM272 1692h2v2h-2zM272 1698h2v2h-2zM272 1700h2v2h-2zM272 1704h2v2h-2zM272 1710h2v2h-2zM272 1714h2v2h-2zM272 1718h2v2h-2zM272 1724h2v2h-2zM272 1726h2v2h-2zM272 1728h2v2h-2zM272 1730h2v2h-2zM272 1732h2v2h-2zM272 1734h2v2h-2zM272 1740h2v2h-2zM272 1748h2v2h-2zM272 1752h2v2h-2zM272 1764h2v2h-2zM272 1772h2v2h-2zM272 1778h2v2h-2zM274 1666h2v2h-2zM274 1678h2v2h-2zM274 1682h2v2h-2zM274 1688h2v2h-2zM274 1690h2v2h-2zM274 1694h2v2h-2zM274 1698h2v2h-2zM274 1702h2v2h-2zM274 1710h2v2h-2zM274 1714h2v2h-2zM274 1722h2v2h-2zM274 1726h2v2h-2zM274 1728h2v2h-2zM274 1732h2v2h-2zM274 1738h2v2h-2zM274 1752h2v2h-2zM274 1754h2v2h-2zM274 1760h2v2h-2zM274 1772h2v2h-2zM276 1644h2v2h-2zM276 1660h2v2h-2zM276 1662h2v2h-2zM276 1670h2v2h-2zM276 1692h2v2h-2zM276 1694h2v2h-2zM276 1696h2v2h-2zM276 1698h2v2h-2zM276 1702h2v2h-2zM276 1704h2v2h-2zM276 1706h2v2h-2zM276 1718h2v2h-2zM276 1720h2v2h-2zM276 1722h2v2h-2zM276 1726h2v2h-2zM276 1728h2v2h-2zM276 1734h2v2h-2zM276 1746h2v2h-2zM276 1768h2v2h-2zM276 1772h2v2h-2zM276 1776h2v2h-2zM278 1674h2v2h-2zM278 1676h2v2h-2zM278 1678h2v2h-2zM278 1686h2v2h-2zM278 1688h2v2h-2zM278 1692h2v2h-2zM278 1694h2v2h-2zM278 1696h2v2h-2zM278 1698h2v2h-2zM278 1700h2v2h-2zM278 1708h2v2h-2zM278 1710h2v2h-2zM278 1712h2v2h-2zM278 1714h2v2h-2zM278 1716h2v2h-2zM278 1722h2v2h-2zM278 1724h2v2h-2zM278 1728h2v2h-2zM278 1730h2v2h-2zM278 1732h2v2h-2zM278 1734h2v2h-2zM278 1740h2v2h-2zM278 1746h2v2h-2zM278 1768h2v2h-2zM278 1772h2v2h-2zM278 1778h2v2h-2zM280 1662h2v2h-2zM280 1666h2v2h-2zM280 1670h2v2h-2zM280 1676h2v2h-2zM280 1682h2v2h-2zM280 1686h2v2h-2zM280 1688h2v2h-2zM280 1692h2v2h-2zM280 1694h2v2h-2zM280 1696h2v2h-2zM280 1698h2v2h-2zM280 1700h2v2h-2zM280 1704h2v2h-2zM280 1714h2v2h-2zM280 1716h2v2h-2zM280 1718h2v2h-2zM280 1720h2v2h-2zM280 1722h2v2h-2zM280 1732h2v2h-2zM280 1746h2v2h-2zM280 1748h2v2h-2zM280 1752h2v2h-2zM280 1754h2v2h-2zM280 1758h2v2h-2zM280 1764h2v2h-2zM282 1660h2v2h-2zM282 1668h2v2h-2zM282 1670h2v2h-2zM282 1672h2v2h-2zM282 1674h2v2h-2zM282 1680h2v2h-2zM282 1682h2v2h-2zM282 1692h2v2h-2zM282 1700h2v2h-2zM282 1704h2v2h-2zM282 1706h2v2h-2zM282 1708h2v2h-2zM282 1710h2v2h-2zM282 1712h2v2h-2zM282 1714h2v2h-2zM282 1716h2v2h-2zM282 1718h2v2h-2zM282 1724h2v2h-2zM282 1726h2v2h-2zM282 1728h2v2h-2zM282 1730h2v2h-2zM282 1732h2v2h-2zM282 1736h2v2h-2zM282 1738h2v2h-2zM282 1742h2v2h-2zM282 1756h2v2h-2zM282 1776h2v2h-2zM284 1658h2v2h-2zM284 1662h2v2h-2zM284 1666h2v2h-2zM284 1672h2v2h-2zM284 1678h2v2h-2zM284 1680h2v2h-2zM284 1682h2v2h-2zM284 1684h2v2h-2zM284 1686h2v2h-2zM284 1688h2v2h-2zM284 1692h2v2h-2zM284 1694h2v2h-2zM284 1700h2v2h-2zM284 1702h2v2h-2zM284 1704h2v2h-2zM284 1710h2v2h-2zM284 1712h2v2h-2zM284 1714h2v2h-2zM284 1720h2v2h-2zM284 1722h2v2h-2zM284 1724h2v2h-2zM284 1726h2v2h-2zM284 1732h2v2h-2zM284 1746h2v2h-2zM284 1748h2v2h-2zM284 1752h2v2h-2zM284 1754h2v2h-2zM284 1760h2v2h-2zM284 1762h2v2h-2zM284 1772h2v2h-2zM284 1774h2v2h-2zM286 1668h2v2h-2zM286 1672h2v2h-2zM286 1676h2v2h-2zM286 1680h2v2h-2zM286 1686h2v2h-2zM286 1688h2v2h-2zM286 1690h2v2h-2zM286 1692h2v2h-2zM286 1696h2v2h-2zM286 1700h2v2h-2zM286 1706h2v2h-2zM286 1708h2v2h-2zM286 1712h2v2h-2zM286 1714h2v2h-2zM286 1720h2v2h-2zM286 1726h2v2h-2zM286 1728h2v2h-2zM286 1730h2v2h-2zM286 1732h2v2h-2zM286 1734h2v2h-2zM286 1736h2v2h-2zM286 1738h2v2h-2zM286 1740h2v2h-2zM286 1742h2v2h-2zM286 1750h2v2h-2zM286 1754h2v2h-2zM286 1756h2v2h-2zM286 1758h2v2h-2zM286 1762h2v2h-2zM286 1764h2v2h-2zM286 1768h2v2h-2zM286 1776h2v2h-2zM288 1656h2v2h-2zM288 1658h2v2h-2zM288 1660h2v2h-2zM288 1664h2v2h-2zM288 1668h2v2h-2zM288 1670h2v2h-2zM288 1674h2v2h-2zM288 1682h2v2h-2zM288 1684h2v2h-2zM288 1686h2v2h-2zM288 1688h2v2h-2zM288 1690h2v2h-2zM288 1692h2v2h-2zM288 1694h2v2h-2zM288 1696h2v2h-2zM288 1700h2v2h-2zM288 1704h2v2h-2zM288 1706h2v2h-2zM288 1708h2v2h-2zM288 1710h2v2h-2zM288 1712h2v2h-2zM288 1718h2v2h-2zM288 1720h2v2h-2zM288 1722h2v2h-2zM288 1724h2v2h-2zM288 1728h2v2h-2zM288 1730h2v2h-2zM288 1732h2v2h-2zM288 1738h2v2h-2zM288 1742h2v2h-2zM288 1744h2v2h-2zM288 1746h2v2h-2zM288 1750h2v2h-2zM288 1760h2v2h-2zM288 1776h2v2h-2zM290 1668h2v2h-2zM290 1672h2v2h-2zM290 1674h2v2h-2zM290 1682h2v2h-2zM290 1684h2v2h-2zM290 1686h2v2h-2zM290 1688h2v2h-2zM290 1690h2v2h-2zM290 1694h2v2h-2zM290 1696h2v2h-2zM290 1704h2v2h-2zM290 1712h2v2h-2zM290 1714h2v2h-2zM290 1718h2v2h-2zM290 1720h2v2h-2zM290 1722h2v2h-2zM290 1726h2v2h-2zM290 1728h2v2h-2zM290 1730h2v2h-2zM290 1742h2v2h-2zM290 1748h2v2h-2zM290 1754h2v2h-2zM290 1758h2v2h-2zM290 1760h2v2h-2zM290 1770h2v2h-2zM290 1772h2v2h-2zM292 1652h2v2h-2zM292 1654h2v2h-2zM292 1662h2v2h-2zM292 1666h2v2h-2zM292 1668h2v2h-2zM292 1674h2v2h-2zM292 1676h2v2h-2zM292 1680h2v2h-2zM292 1684h2v2h-2zM292 1688h2v2h-2zM292 1692h2v2h-2zM292 1696h2v2h-2zM292 1698h2v2h-2zM292 1700h2v2h-2zM292 1702h2v2h-2zM292 1716h2v2h-2zM292 1718h2v2h-2zM292 1720h2v2h-2zM292 1724h2v2h-2zM292 1726h2v2h-2zM292 1728h2v2h-2zM292 1730h2v2h-2zM292 1734h2v2h-2zM292 1742h2v2h-2zM292 1748h2v2h-2zM292 1750h2v2h-2zM292 1760h2v2h-2zM292 1766h2v2h-2zM294 1646h2v2h-2zM294 1666h2v2h-2zM294 1668h2v2h-2zM294 1676h2v2h-2zM294 1678h2v2h-2zM294 1682h2v2h-2zM294 1684h2v2h-2zM294 1688h2v2h-2zM294 1690h2v2h-2zM294 1692h2v2h-2zM294 1694h2v2h-2zM294 1696h2v2h-2zM294 1698h2v2h-2zM294 1700h2v2h-2zM294 1702h2v2h-2zM294 1704h2v2h-2zM294 1706h2v2h-2zM294 1708h2v2h-2zM294 1712h2v2h-2zM294 1714h2v2h-2zM294 1716h2v2h-2zM294 1718h2v2h-2zM294 1720h2v2h-2zM294 1722h2v2h-2zM294 1730h2v2h-2zM294 1734h2v2h-2zM294 1752h2v2h-2zM294 1756h2v2h-2zM294 1758h2v2h-2zM294 1772h2v2h-2zM296 1654h2v2h-2zM296 1670h2v2h-2zM296 1674h2v2h-2zM296 1676h2v2h-2zM296 1678h2v2h-2zM296 1684h2v2h-2zM296 1692h2v2h-2zM296 1694h2v2h-2zM296 1698h2v2h-2zM296 1702h2v2h-2zM296 1704h2v2h-2zM296 1708h2v2h-2zM296 1710h2v2h-2zM296 1712h2v2h-2zM296 1714h2v2h-2zM296 1720h2v2h-2zM296 1722h2v2h-2zM296 1724h2v2h-2zM296 1726h2v2h-2zM296 1728h2v2h-2zM296 1730h2v2h-2zM296 1740h2v2h-2zM296 1744h2v2h-2zM296 1746h2v2h-2zM296 1750h2v2h-2zM296 1760h2v2h-2zM296 1764h2v2h-2zM296 1768h2v2h-2zM296 1772h2v2h-2zM296 1776h2v2h-2zM298 1648h2v2h-2zM298 1658h2v2h-2zM298 1664h2v2h-2zM298 1668h2v2h-2zM298 1670h2v2h-2zM298 1672h2v2h-2zM298 1674h2v2h-2zM298 1676h2v2h-2zM298 1678h2v2h-2zM298 1680h2v2h-2zM298 1684h2v2h-2zM298 1686h2v2h-2zM298 1688h2v2h-2zM298 1692h2v2h-2zM298 1698h2v2h-2zM298 1702h2v2h-2zM298 1712h2v2h-2zM298 1714h2v2h-2zM298 1718h2v2h-2zM298 1720h2v2h-2zM298 1722h2v2h-2zM298 1726h2v2h-2zM298 1730h2v2h-2zM298 1732h2v2h-2zM298 1736h2v2h-2zM298 1738h2v2h-2zM298 1740h2v2h-2zM298 1746h2v2h-2zM298 1750h2v2h-2zM298 1754h2v2h-2zM298 1756h2v2h-2zM298 1764h2v2h-2zM298 1766h2v2h-2zM298 1768h2v2h-2zM298 1772h2v2h-2zM298 1776h2v2h-2zM300 1640h2v2h-2zM300 1666h2v2h-2zM300 1672h2v2h-2zM300 1678h2v2h-2zM300 1680h2v2h-2zM300 1686h2v2h-2zM300 1690h2v2h-2zM300 1692h2v2h-2zM300 1694h2v2h-2zM300 1696h2v2h-2zM300 1698h2v2h-2zM300 1702h2v2h-2zM300 1704h2v2h-2zM300 1710h2v2h-2zM300 1712h2v2h-2zM300 1718h2v2h-2zM300 1720h2v2h-2zM300 1726h2v2h-2zM300 1734h2v2h-2zM300 1744h2v2h-2zM300 1746h2v2h-2zM300 1748h2v2h-2zM300 1750h2v2h-2zM300 1752h2v2h-2zM300 1766h2v2h-2zM300 1772h2v2h-2zM302 1646h2v2h-2zM302 1656h2v2h-2zM302 1658h2v2h-2zM302 1666h2v2h-2zM302 1676h2v2h-2zM302 1680h2v2h-2zM302 1682h2v2h-2zM302 1686h2v2h-2zM302 1690h2v2h-2zM302 1696h2v2h-2zM302 1698h2v2h-2zM302 1700h2v2h-2zM302 1702h2v2h-2zM302 1704h2v2h-2zM302 1706h2v2h-2zM302 1708h2v2h-2zM302 1710h2v2h-2zM302 1712h2v2h-2zM302 1714h2v2h-2zM302 1716h2v2h-2zM302 1718h2v2h-2zM302 1720h2v2h-2zM302 1722h2v2h-2zM302 1724h2v2h-2zM302 1736h2v2h-2zM302 1750h2v2h-2zM302 1752h2v2h-2zM302 1756h2v2h-2zM304 1648h2v2h-2zM304 1656h2v2h-2zM304 1670h2v2h-2zM304 1674h2v2h-2zM304 1676h2v2h-2zM304 1680h2v2h-2zM304 1682h2v2h-2zM304 1684h2v2h-2zM304 1686h2v2h-2zM304 1688h2v2h-2zM304 1690h2v2h-2zM304 1696h2v2h-2zM304 1698h2v2h-2zM304 1702h2v2h-2zM304 1704h2v2h-2zM304 1708h2v2h-2zM304 1710h2v2h-2zM304 1712h2v2h-2zM304 1718h2v2h-2zM304 1720h2v2h-2zM304 1724h2v2h-2zM304 1730h2v2h-2zM304 1734h2v2h-2zM304 1736h2v2h-2zM304 1742h2v2h-2zM304 1744h2v2h-2zM304 1748h2v2h-2zM306 1656h2v2h-2zM306 1670h2v2h-2zM306 1672h2v2h-2zM306 1674h2v2h-2zM306 1682h2v2h-2zM306 1684h2v2h-2zM306 1686h2v2h-2zM306 1690h2v2h-2zM306 1692h2v2h-2zM306 1694h2v2h-2zM306 1696h2v2h-2zM306 1698h2v2h-2zM306 1702h2v2h-2zM306 1704h2v2h-2zM306 1706h2v2h-2zM306 1708h2v2h-2zM306 1710h2v2h-2zM306 1714h2v2h-2zM306 1722h2v2h-2zM306 1724h2v2h-2zM306 1726h2v2h-2zM306 1732h2v2h-2zM306 1736h2v2h-2zM306 1740h2v2h-2zM306 1744h2v2h-2zM306 1748h2v2h-2zM306 1772h2v2h-2zM308 1648h2v2h-2zM308 1658h2v2h-2zM308 1660h2v2h-2zM308 1668h2v2h-2zM308 1670h2v2h-2zM308 1672h2v2h-2zM308 1674h2v2h-2zM308 1676h2v2h-2zM308 1678h2v2h-2zM308 1684h2v2h-2zM308 1688h2v2h-2zM308 1690h2v2h-2zM308 1694h2v2h-2zM308 1696h2v2h-2zM308 1698h2v2h-2zM308 1700h2v2h-2zM308 1702h2v2h-2zM308 1712h2v2h-2zM308 1714h2v2h-2zM308 1718h2v2h-2zM308 1726h2v2h-2zM308 1736h2v2h-2zM308 1738h2v2h-2zM308 1744h2v2h-2zM308 1752h2v2h-2zM310 1650h2v2h-2zM310 1652h2v2h-2zM310 1660h2v2h-2zM310 1666h2v2h-2zM310 1670h2v2h-2zM310 1672h2v2h-2zM310 1674h2v2h-2zM310 1678h2v2h-2zM310 1682h2v2h-2zM310 1686h2v2h-2zM310 1688h2v2h-2zM310 1690h2v2h-2zM310 1692h2v2h-2zM310 1696h2v2h-2zM310 1702h2v2h-2zM310 1704h2v2h-2zM310 1710h2v2h-2zM310 1712h2v2h-2zM310 1716h2v2h-2zM310 1718h2v2h-2zM310 1720h2v2h-2zM310 1722h2v2h-2zM310 1724h2v2h-2zM310 1730h2v2h-2zM310 1732h2v2h-2zM310 1736h2v2h-2zM310 1738h2v2h-2zM312 1648h2v2h-2zM312 1654h2v2h-2zM312 1656h2v2h-2zM312 1660h2v2h-2zM312 1666h2v2h-2zM312 1672h2v2h-2zM312 1674h2v2h-2zM312 1676h2v2h-2zM312 1678h2v2h-2zM312 1682h2v2h-2zM312 1684h2v2h-2zM312 1690h2v2h-2zM312 1692h2v2h-2zM312 1696h2v2h-2zM312 1700h2v2h-2zM312 1704h2v2h-2zM312 1706h2v2h-2zM312 1708h2v2h-2zM312 1710h2v2h-2zM312 1712h2v2h-2zM312 1714h2v2h-2zM312 1718h2v2h-2zM312 1720h2v2h-2zM312 1722h2v2h-2zM312 1726h2v2h-2zM312 1730h2v2h-2zM312 1734h2v2h-2zM312 1736h2v2h-2zM314 1660h2v2h-2zM314 1666h2v2h-2zM314 1668h2v2h-2zM314 1670h2v2h-2zM314 1674h2v2h-2zM314 1684h2v2h-2zM314 1688h2v2h-2zM314 1690h2v2h-2zM314 1692h2v2h-2zM314 1696h2v2h-2zM314 1698h2v2h-2zM314 1700h2v2h-2zM314 1702h2v2h-2zM314 1704h2v2h-2zM314 1706h2v2h-2zM314 1712h2v2h-2zM314 1716h2v2h-2zM314 1718h2v2h-2zM314 1720h2v2h-2zM314 1722h2v2h-2zM314 1724h2v2h-2zM314 1730h2v2h-2zM314 1732h2v2h-2zM314 1734h2v2h-2zM314 1742h2v2h-2zM314 1746h2v2h-2zM314 1768h2v2h-2zM316 1640h2v2h-2zM316 1648h2v2h-2zM316 1660h2v2h-2zM316 1670h2v2h-2zM316 1672h2v2h-2zM316 1676h2v2h-2zM316 1680h2v2h-2zM316 1682h2v2h-2zM316 1684h2v2h-2zM316 1686h2v2h-2zM316 1688h2v2h-2zM316 1690h2v2h-2zM316 1696h2v2h-2zM316 1698h2v2h-2zM316 1702h2v2h-2zM316 1704h2v2h-2zM316 1708h2v2h-2zM316 1710h2v2h-2zM316 1712h2v2h-2zM316 1716h2v2h-2zM316 1718h2v2h-2zM316 1726h2v2h-2zM316 1730h2v2h-2zM316 1734h2v2h-2zM316 1744h2v2h-2zM316 1746h2v2h-2zM316 1754h2v2h-2zM316 1766h2v2h-2zM316 1768h2v2h-2zM318 1642h2v2h-2zM318 1646h2v2h-2zM318 1648h2v2h-2zM318 1654h2v2h-2zM318 1658h2v2h-2zM318 1662h2v2h-2zM318 1672h2v2h-2zM318 1676h2v2h-2zM318 1678h2v2h-2zM318 1682h2v2h-2zM318 1686h2v2h-2zM318 1688h2v2h-2zM318 1690h2v2h-2zM318 1692h2v2h-2zM318 1698h2v2h-2zM318 1704h2v2h-2zM318 1706h2v2h-2zM318 1708h2v2h-2zM318 1710h2v2h-2zM318 1712h2v2h-2zM318 1716h2v2h-2zM318 1720h2v2h-2zM318 1722h2v2h-2zM318 1726h2v2h-2zM318 1728h2v2h-2zM318 1730h2v2h-2zM318 1732h2v2h-2zM318 1734h2v2h-2zM318 1738h2v2h-2zM318 1740h2v2h-2zM318 1756h2v2h-2zM320 1648h2v2h-2zM320 1660h2v2h-2zM320 1668h2v2h-2zM320 1670h2v2h-2zM320 1672h2v2h-2zM320 1676h2v2h-2zM320 1682h2v2h-2zM320 1684h2v2h-2zM320 1686h2v2h-2zM320 1692h2v2h-2zM320 1698h2v2h-2zM320 1700h2v2h-2zM320 1702h2v2h-2zM320 1708h2v2h-2zM320 1710h2v2h-2zM320 1714h2v2h-2zM320 1716h2v2h-2zM320 1718h2v2h-2zM320 1720h2v2h-2zM320 1726h2v2h-2zM320 1732h2v2h-2zM320 1734h2v2h-2zM320 1756h2v2h-2zM320 1764h2v2h-2zM322 1646h2v2h-2zM322 1662h2v2h-2zM322 1664h2v2h-2zM322 1668h2v2h-2zM322 1676h2v2h-2zM322 1680h2v2h-2zM322 1682h2v2h-2zM322 1684h2v2h-2zM322 1688h2v2h-2zM322 1692h2v2h-2zM322 1696h2v2h-2zM322 1700h2v2h-2zM322 1704h2v2h-2zM322 1706h2v2h-2zM322 1714h2v2h-2zM322 1716h2v2h-2zM322 1718h2v2h-2zM322 1720h2v2h-2zM322 1738h2v2h-2zM322 1740h2v2h-2zM322 1744h2v2h-2zM322 1760h2v2h-2zM324 1650h2v2h-2zM324 1652h2v2h-2zM324 1658h2v2h-2zM324 1666h2v2h-2zM324 1668h2v2h-2zM324 1670h2v2h-2zM324 1672h2v2h-2zM324 1676h2v2h-2zM324 1678h2v2h-2zM324 1680h2v2h-2zM324 1682h2v2h-2zM324 1684h2v2h-2zM324 1686h2v2h-2zM324 1692h2v2h-2zM324 1696h2v2h-2zM324 1702h2v2h-2zM324 1706h2v2h-2zM324 1708h2v2h-2zM324 1712h2v2h-2zM324 1714h2v2h-2zM324 1724h2v2h-2zM324 1726h2v2h-2zM324 1730h2v2h-2zM324 1732h2v2h-2zM324 1752h2v2h-2zM326 1662h2v2h-2zM326 1664h2v2h-2zM326 1666h2v2h-2zM326 1670h2v2h-2zM326 1674h2v2h-2zM326 1678h2v2h-2zM326 1680h2v2h-2zM326 1686h2v2h-2zM326 1688h2v2h-2zM326 1690h2v2h-2zM326 1694h2v2h-2zM326 1696h2v2h-2zM326 1706h2v2h-2zM326 1708h2v2h-2zM326 1710h2v2h-2zM326 1714h2v2h-2zM326 1718h2v2h-2zM326 1722h2v2h-2zM326 1734h2v2h-2zM326 1740h2v2h-2zM326 1744h2v2h-2zM326 1746h2v2h-2zM326 1756h2v2h-2zM326 1768h2v2h-2zM328 1638h2v2h-2zM328 1644h2v2h-2zM328 1648h2v2h-2zM328 1652h2v2h-2zM328 1658h2v2h-2zM328 1664h2v2h-2zM328 1668h2v2h-2zM328 1670h2v2h-2zM328 1672h2v2h-2zM328 1674h2v2h-2zM328 1678h2v2h-2zM328 1688h2v2h-2zM328 1690h2v2h-2zM328 1692h2v2h-2zM328 1694h2v2h-2zM328 1698h2v2h-2zM328 1702h2v2h-2zM328 1706h2v2h-2zM328 1708h2v2h-2zM328 1710h2v2h-2zM328 1714h2v2h-2zM328 1716h2v2h-2zM328 1722h2v2h-2zM328 1724h2v2h-2zM328 1734h2v2h-2zM328 1736h2v2h-2zM328 1738h2v2h-2zM328 1750h2v2h-2zM330 1658h2v2h-2zM330 1660h2v2h-2zM330 1664h2v2h-2zM330 1682h2v2h-2zM330 1684h2v2h-2zM330 1688h2v2h-2zM330 1690h2v2h-2zM330 1692h2v2h-2zM330 1696h2v2h-2zM330 1700h2v2h-2zM330 1702h2v2h-2zM330 1704h2v2h-2zM330 1710h2v2h-2zM330 1712h2v2h-2zM330 1714h2v2h-2zM330 1720h2v2h-2zM330 1724h2v2h-2zM330 1728h2v2h-2zM330 1730h2v2h-2zM330 1748h2v2h-2zM330 1756h2v2h-2zM332 1650h2v2h-2zM332 1652h2v2h-2zM332 1654h2v2h-2zM332 1658h2v2h-2zM332 1660h2v2h-2zM332 1662h2v2h-2zM332 1668h2v2h-2zM332 1672h2v2h-2zM332 1674h2v2h-2zM332 1678h2v2h-2zM332 1680h2v2h-2zM332 1682h2v2h-2zM332 1688h2v2h-2zM332 1690h2v2h-2zM332 1692h2v2h-2zM332 1694h2v2h-2zM332 1700h2v2h-2zM332 1702h2v2h-2zM332 1704h2v2h-2zM332 1708h2v2h-2zM332 1710h2v2h-2zM332 1712h2v2h-2zM332 1714h2v2h-2zM332 1716h2v2h-2zM332 1718h2v2h-2zM332 1722h2v2h-2zM332 1726h2v2h-2zM332 1732h2v2h-2zM332 1734h2v2h-2zM332 1738h2v2h-2zM332 1744h2v2h-2zM332 1756h2v2h-2zM334 1652h2v2h-2zM334 1662h2v2h-2zM334 1670h2v2h-2zM334 1674h2v2h-2zM334 1680h2v2h-2zM334 1682h2v2h-2zM334 1684h2v2h-2zM334 1686h2v2h-2zM334 1688h2v2h-2zM334 1690h2v2h-2zM334 1692h2v2h-2zM334 1694h2v2h-2zM334 1696h2v2h-2zM334 1700h2v2h-2zM334 1702h2v2h-2zM334 1704h2v2h-2zM334 1706h2v2h-2zM334 1708h2v2h-2zM334 1710h2v2h-2zM334 1712h2v2h-2zM334 1714h2v2h-2zM334 1716h2v2h-2zM334 1718h2v2h-2zM334 1720h2v2h-2zM334 1722h2v2h-2zM334 1726h2v2h-2zM334 1734h2v2h-2zM334 1736h2v2h-2zM334 1740h2v2h-2zM334 1752h2v2h-2zM334 1762h2v2h-2zM336 1638h2v2h-2zM336 1644h2v2h-2zM336 1652h2v2h-2zM336 1656h2v2h-2zM336 1660h2v2h-2zM336 1666h2v2h-2zM336 1688h2v2h-2zM336 1690h2v2h-2zM336 1692h2v2h-2zM336 1694h2v2h-2zM336 1696h2v2h-2zM336 1698h2v2h-2zM336 1708h2v2h-2zM336 1710h2v2h-2zM336 1714h2v2h-2zM336 1722h2v2h-2zM336 1724h2v2h-2zM336 1732h2v2h-2zM336 1738h2v2h-2zM338 1654h2v2h-2zM338 1662h2v2h-2zM338 1670h2v2h-2zM338 1672h2v2h-2zM338 1674h2v2h-2zM338 1676h2v2h-2zM338 1678h2v2h-2zM338 1682h2v2h-2zM338 1684h2v2h-2zM338 1686h2v2h-2zM338 1688h2v2h-2zM338 1690h2v2h-2zM338 1698h2v2h-2zM338 1700h2v2h-2zM338 1702h2v2h-2zM338 1704h2v2h-2zM338 1706h2v2h-2zM338 1708h2v2h-2zM338 1710h2v2h-2zM338 1714h2v2h-2zM338 1718h2v2h-2zM338 1722h2v2h-2zM338 1724h2v2h-2zM338 1726h2v2h-2zM338 1730h2v2h-2zM338 1744h2v2h-2zM340 1648h2v2h-2zM340 1652h2v2h-2zM340 1654h2v2h-2zM340 1656h2v2h-2zM340 1662h2v2h-2zM340 1666h2v2h-2zM340 1670h2v2h-2zM340 1672h2v2h-2zM340 1678h2v2h-2zM340 1682h2v2h-2zM340 1684h2v2h-2zM340 1686h2v2h-2zM340 1690h2v2h-2zM340 1692h2v2h-2zM340 1696h2v2h-2zM340 1698h2v2h-2zM340 1708h2v2h-2zM340 1712h2v2h-2zM340 1714h2v2h-2zM340 1716h2v2h-2zM340 1722h2v2h-2zM340 1724h2v2h-2zM340 1734h2v2h-2zM340 1740h2v2h-2zM340 1762h2v2h-2zM342 1644h2v2h-2zM342 1654h2v2h-2zM342 1660h2v2h-2zM342 1662h2v2h-2zM342 1664h2v2h-2zM342 1666h2v2h-2zM342 1676h2v2h-2zM342 1680h2v2h-2zM342 1682h2v2h-2zM342 1686h2v2h-2zM342 1690h2v2h-2zM342 1692h2v2h-2zM342 1696h2v2h-2zM342 1700h2v2h-2zM342 1702h2v2h-2zM342 1704h2v2h-2zM342 1706h2v2h-2zM342 1708h2v2h-2zM342 1710h2v2h-2zM342 1714h2v2h-2zM342 1720h2v2h-2zM342 1722h2v2h-2zM342 1724h2v2h-2zM342 1728h2v2h-2zM342 1742h2v2h-2zM342 1744h2v2h-2zM342 1748h2v2h-2zM342 1752h2v2h-2zM344 1644h2v2h-2zM344 1654h2v2h-2zM344 1656h2v2h-2zM344 1668h2v2h-2zM344 1670h2v2h-2zM344 1672h2v2h-2zM344 1676h2v2h-2zM344 1678h2v2h-2zM344 1680h2v2h-2zM344 1682h2v2h-2zM344 1684h2v2h-2zM344 1690h2v2h-2zM344 1692h2v2h-2zM344 1694h2v2h-2zM344 1696h2v2h-2zM344 1698h2v2h-2zM344 1700h2v2h-2zM344 1702h2v2h-2zM344 1704h2v2h-2zM344 1714h2v2h-2zM344 1716h2v2h-2zM344 1736h2v2h-2zM344 1738h2v2h-2zM344 1742h2v2h-2zM346 1648h2v2h-2zM346 1650h2v2h-2zM346 1660h2v2h-2zM346 1666h2v2h-2zM346 1668h2v2h-2zM346 1672h2v2h-2zM346 1674h2v2h-2zM346 1676h2v2h-2zM346 1678h2v2h-2zM346 1680h2v2h-2zM346 1682h2v2h-2zM346 1684h2v2h-2zM346 1688h2v2h-2zM346 1690h2v2h-2zM346 1694h2v2h-2zM346 1696h2v2h-2zM346 1698h2v2h-2zM346 1700h2v2h-2zM346 1704h2v2h-2zM346 1706h2v2h-2zM346 1710h2v2h-2zM346 1712h2v2h-2zM346 1714h2v2h-2zM346 1716h2v2h-2zM346 1722h2v2h-2zM346 1724h2v2h-2zM346 1726h2v2h-2zM346 1734h2v2h-2zM346 1736h2v2h-2zM346 1760h2v2h-2zM348 1656h2v2h-2zM348 1660h2v2h-2zM348 1662h2v2h-2zM348 1666h2v2h-2zM348 1670h2v2h-2zM348 1678h2v2h-2zM348 1682h2v2h-2zM348 1686h2v2h-2zM348 1692h2v2h-2zM348 1694h2v2h-2zM348 1698h2v2h-2zM348 1700h2v2h-2zM348 1708h2v2h-2zM348 1716h2v2h-2zM348 1718h2v2h-2zM348 1726h2v2h-2zM348 1728h2v2h-2zM348 1762h2v2h-2zM350 1644h2v2h-2zM350 1652h2v2h-2zM350 1660h2v2h-2zM350 1662h2v2h-2zM350 1664h2v2h-2zM350 1666h2v2h-2zM350 1668h2v2h-2zM350 1670h2v2h-2zM350 1678h2v2h-2zM350 1682h2v2h-2zM350 1686h2v2h-2zM350 1690h2v2h-2zM350 1692h2v2h-2zM350 1700h2v2h-2zM350 1702h2v2h-2zM350 1708h2v2h-2zM350 1710h2v2h-2zM350 1714h2v2h-2zM350 1720h2v2h-2zM350 1722h2v2h-2zM350 1724h2v2h-2zM352 1656h2v2h-2zM352 1658h2v2h-2zM352 1660h2v2h-2zM352 1666h2v2h-2zM352 1670h2v2h-2zM352 1672h2v2h-2zM352 1674h2v2h-2zM352 1676h2v2h-2zM352 1678h2v2h-2zM352 1682h2v2h-2zM352 1684h2v2h-2zM352 1688h2v2h-2zM352 1690h2v2h-2zM352 1692h2v2h-2zM352 1694h2v2h-2zM352 1702h2v2h-2zM352 1706h2v2h-2zM352 1708h2v2h-2zM352 1712h2v2h-2zM352 1714h2v2h-2zM352 1718h2v2h-2zM352 1724h2v2h-2zM352 1730h2v2h-2zM352 1732h2v2h-2zM352 1734h2v2h-2zM352 1738h2v2h-2zM352 1742h2v2h-2zM354 1648h2v2h-2zM354 1654h2v2h-2zM354 1656h2v2h-2zM354 1662h2v2h-2zM354 1668h2v2h-2zM354 1674h2v2h-2zM354 1678h2v2h-2zM354 1680h2v2h-2zM354 1682h2v2h-2zM354 1684h2v2h-2zM354 1688h2v2h-2zM354 1692h2v2h-2zM354 1694h2v2h-2zM354 1698h2v2h-2zM354 1710h2v2h-2zM354 1714h2v2h-2zM354 1716h2v2h-2zM354 1720h2v2h-2zM354 1724h2v2h-2zM354 1726h2v2h-2zM354 1756h2v2h-2zM356 1644h2v2h-2zM356 1654h2v2h-2zM356 1658h2v2h-2zM356 1670h2v2h-2zM356 1672h2v2h-2zM356 1676h2v2h-2zM356 1680h2v2h-2zM356 1682h2v2h-2zM356 1688h2v2h-2zM356 1692h2v2h-2zM356 1694h2v2h-2zM356 1698h2v2h-2zM356 1702h2v2h-2zM356 1706h2v2h-2zM356 1710h2v2h-2zM356 1720h2v2h-2zM356 1728h2v2h-2zM356 1742h2v2h-2zM358 1660h2v2h-2zM358 1662h2v2h-2zM358 1668h2v2h-2zM358 1670h2v2h-2zM358 1672h2v2h-2zM358 1674h2v2h-2zM358 1676h2v2h-2zM358 1678h2v2h-2zM358 1680h2v2h-2zM358 1682h2v2h-2zM358 1688h2v2h-2zM358 1692h2v2h-2zM358 1696h2v2h-2zM358 1698h2v2h-2zM358 1706h2v2h-2zM358 1708h2v2h-2zM358 1710h2v2h-2zM358 1712h2v2h-2zM358 1716h2v2h-2zM358 1732h2v2h-2zM358 1738h2v2h-2zM360 1650h2v2h-2zM360 1654h2v2h-2zM360 1658h2v2h-2zM360 1660h2v2h-2zM360 1664h2v2h-2zM360 1666h2v2h-2zM360 1668h2v2h-2zM360 1674h2v2h-2zM360 1676h2v2h-2zM360 1678h2v2h-2zM360 1680h2v2h-2zM360 1686h2v2h-2zM360 1690h2v2h-2zM360 1692h2v2h-2zM360 1696h2v2h-2zM360 1700h2v2h-2zM360 1702h2v2h-2zM360 1706h2v2h-2zM360 1712h2v2h-2zM360 1720h2v2h-2zM360 1724h2v2h-2zM362 1658h2v2h-2zM362 1664h2v2h-2zM362 1668h2v2h-2zM362 1672h2v2h-2zM362 1676h2v2h-2zM362 1680h2v2h-2zM362 1682h2v2h-2zM362 1686h2v2h-2zM362 1688h2v2h-2zM362 1692h2v2h-2zM362 1696h2v2h-2zM362 1698h2v2h-2zM362 1704h2v2h-2zM362 1706h2v2h-2zM362 1710h2v2h-2zM362 1712h2v2h-2zM362 1714h2v2h-2zM362 1726h2v2h-2zM364 1638h2v2h-2zM364 1642h2v2h-2zM364 1646h2v2h-2zM364 1660h2v2h-2zM364 1664h2v2h-2zM364 1666h2v2h-2zM364 1668h2v2h-2zM364 1676h2v2h-2zM364 1678h2v2h-2zM364 1684h2v2h-2zM364 1688h2v2h-2zM364 1690h2v2h-2zM364 1698h2v2h-2zM364 1700h2v2h-2zM364 1702h2v2h-2zM364 1706h2v2h-2zM364 1710h2v2h-2zM364 1718h2v2h-2zM364 1740h2v2h-2zM366 1642h2v2h-2zM366 1666h2v2h-2zM366 1670h2v2h-2zM366 1676h2v2h-2zM366 1678h2v2h-2zM366 1682h2v2h-2zM366 1684h2v2h-2zM366 1686h2v2h-2zM366 1690h2v2h-2zM366 1696h2v2h-2zM366 1702h2v2h-2zM366 1716h2v2h-2zM366 1722h2v2h-2zM366 1726h2v2h-2zM366 1730h2v2h-2zM366 1736h2v2h-2zM366 1738h2v2h-2zM366 1748h2v2h-2zM366 1754h2v2h-2zM368 1648h2v2h-2zM368 1652h2v2h-2zM368 1654h2v2h-2zM368 1658h2v2h-2zM368 1676h2v2h-2zM368 1680h2v2h-2zM368 1682h2v2h-2zM368 1684h2v2h-2zM368 1686h2v2h-2zM368 1688h2v2h-2zM368 1690h2v2h-2zM368 1692h2v2h-2zM368 1696h2v2h-2zM368 1698h2v2h-2zM368 1700h2v2h-2zM368 1710h2v2h-2zM368 1718h2v2h-2zM368 1722h2v2h-2zM368 1740h2v2h-2zM368 1742h2v2h-2zM370 1654h2v2h-2zM370 1658h2v2h-2zM370 1662h2v2h-2zM370 1666h2v2h-2zM370 1670h2v2h-2zM370 1674h2v2h-2zM370 1684h2v2h-2zM370 1686h2v2h-2zM370 1698h2v2h-2zM370 1700h2v2h-2zM370 1706h2v2h-2zM370 1712h2v2h-2zM370 1728h2v2h-2zM370 1752h2v2h-2zM372 1658h2v2h-2zM372 1660h2v2h-2zM372 1664h2v2h-2zM372 1670h2v2h-2zM372 1672h2v2h-2zM372 1674h2v2h-2zM372 1680h2v2h-2zM372 1682h2v2h-2zM372 1686h2v2h-2zM372 1690h2v2h-2zM372 1702h2v2h-2zM372 1706h2v2h-2zM372 1708h2v2h-2zM372 1710h2v2h-2zM372 1716h2v2h-2zM372 1718h2v2h-2zM372 1722h2v2h-2zM372 1728h2v2h-2zM374 1648h2v2h-2zM374 1652h2v2h-2zM374 1666h2v2h-2zM374 1668h2v2h-2zM374 1674h2v2h-2zM374 1680h2v2h-2zM374 1686h2v2h-2zM374 1690h2v2h-2zM374 1692h2v2h-2zM374 1700h2v2h-2zM376 1652h2v2h-2zM376 1654h2v2h-2zM376 1658h2v2h-2zM376 1682h2v2h-2zM376 1684h2v2h-2zM376 1690h2v2h-2zM376 1692h2v2h-2zM376 1706h2v2h-2zM376 1714h2v2h-2zM378 1646h2v2h-2zM378 1660h2v2h-2zM378 1666h2v2h-2zM378 1670h2v2h-2zM378 1676h2v2h-2zM378 1678h2v2h-2zM378 1684h2v2h-2zM378 1690h2v2h-2zM378 1696h2v2h-2zM378 1698h2v2h-2zM378 1700h2v2h-2zM378 1708h2v2h-2zM378 1712h2v2h-2zM378 1728h2v2h-2zM380 1656h2v2h-2zM380 1670h2v2h-2zM380 1674h2v2h-2zM380 1678h2v2h-2zM380 1680h2v2h-2zM380 1682h2v2h-2zM380 1686h2v2h-2zM380 1704h2v2h-2zM380 1706h2v2h-2zM382 1644h2v2h-2zM382 1648h2v2h-2zM382 1654h2v2h-2zM382 1656h2v2h-2zM382 1664h2v2h-2zM382 1672h2v2h-2zM382 1676h2v2h-2zM382 1678h2v2h-2zM382 1686h2v2h-2zM382 1690h2v2h-2zM382 1696h2v2h-2zM382 1698h2v2h-2zM382 1700h2v2h-2zM382 1704h2v2h-2zM382 1706h2v2h-2zM382 1710h2v2h-2zM384 1654h2v2h-2zM384 1658h2v2h-2zM384 1666h2v2h-2zM384 1668h2v2h-2zM384 1684h2v2h-2zM384 1686h2v2h-2zM384 1690h2v2h-2zM384 1696h2v2h-2zM384 1698h2v2h-2zM384 1704h2v2h-2zM384 1728h2v2h-2zM386 1664h2v2h-2zM386 1666h2v2h-2zM386 1668h2v2h-2zM386 1670h2v2h-2zM386 1674h2v2h-2zM386 1682h2v2h-2zM386 1694h2v2h-2zM388 1668h2v2h-2zM388 1672h2v2h-2zM388 1676h2v2h-2zM388 1678h2v2h-2zM388 1686h2v2h-2zM388 1688h2v2h-2zM388 1694h2v2h-2zM388 1732h2v2h-2zM390 1656h2v2h-2zM390 1664h2v2h-2zM390 1668h2v2h-2zM390 1672h2v2h-2zM390 1686h2v2h-2zM390 1688h2v2h-2zM390 1728h2v2h-2zM392 1668h2v2h-2zM392 1678h2v2h-2zM392 1680h2v2h-2zM392 1682h2v2h-2zM392 1686h2v2h-2zM392 1700h2v2h-2zM392 1704h2v2h-2zM394 1644h2v2h-2zM394 1648h2v2h-2zM394 1656h2v2h-2zM394 1664h2v2h-2zM394 1684h2v2h-2zM394 1688h2v2h-2zM394 1710h2v2h-2zM396 1648h2v2h-2zM396 1652h2v2h-2zM396 1656h2v2h-2zM396 1660h2v2h-2zM396 1680h2v2h-2zM396 1686h2v2h-2zM396 1702h2v2h-2zM396 1724h2v2h-2zM398 1656h2v2h-2zM398 1668h2v2h-2zM398 1672h2v2h-2zM398 1676h2v2h-2zM398 1680h2v2h-2zM398 1706h2v2h-2zM400 1656h2v2h-2zM400 1658h2v2h-2zM400 1666h2v2h-2zM400 1686h2v2h-2zM400 1710h2v2h-2zM400 1714h2v2h-2zM402 1696h2v2h-2zM402 1700h2v2h-2zM402 1706h2v2h-2zM404 1658h2v2h-2zM404 1676h2v2h-2zM404 1692h2v2h-2zM404 1708h2v2h-2zM404 1736h2v2h-2zM406 1676h2v2h-2zM406 1680h2v2h-2zM408 1654h2v2h-2zM408 1688h2v2h-2zM408 1694h2v2h-2zM410 1656h2v2h-2zM410 1662h2v2h-2zM410 1668h2v2h-2zM410 1680h2v2h-2zM410 1684h2v2h-2zM410 1690h2v2h-2zM410 1704h2v2h-2zM412 1646h2v2h-2zM412 1672h2v2h-2zM412 1684h2v2h-2zM412 1686h2v2h-2zM412 1690h2v2h-2zM412 1710h2v2h-2zM414 1654h2v2h-2zM414 1702h2v2h-2zM418 1650h2v2h-2zM418 1656h2v2h-2zM418 1660h2v2h-2zM420 1656h2v2h-2zM422 1644h2v2h-2zM422 1654h2v2h-2zM426 1674h2v2h-2zM428 1662h2v2h-2zM430 1668h2v2h-2zM430 1670h2v2h-2zM430 1676h2v2h-2zM430 1702h2v2h-2zM432 1672h2v2h-2z" fill="#1a08e6"/>
<path d="M162 1682h2v2h-2zM214 1736h2v2h-2zM216 1686h2v2h-2zM226 1712h2v2h-2zM226 1718h2v2h-2zM226 1758h2v2h-2zM234 1716h2v2h-2zM234 1740h2v2h-2zM236 1688h2v2h-2zM236 1728h2v2h-2zM238 1742h2v2h-2zM240 1726h2v2h-2zM242 1756h2v2h-2zM246 1712h2v2h-2zM246 1730h2v2h-2zM248 1772h2v2h-2zM250 1704h2v2h-2zM250 1716h2v2h-2zM250 1724h2v2h-2zM252 1702h2v2h-2zM252 1724h2v2h-2zM254 1696h2v2h-2zM256 1678h2v2h-2zM258 1684h2v2h-2zM258 1702h2v2h-2zM258 1712h2v2h-2zM260 1676h2v2h-2zM260 1682h2v2h-2zM260 1692h2v2h-2zM260 1702h2v2h-2zM260 1704h2v2h-2zM262 1742h2v2h-2zM264 1680h2v2h-2zM264 1704h2v2h-2zM264 1714h2v2h-2zM264 1748h2v2h-2zM266 1676h2v2h-2zM266 1714h2v2h-2zM268 1696h2v2h-2zM268 1722h2v2h-2zM274 1698h2v2h-2zM274 1722h2v2h-2zM274 1724h2v2h-2zM274 1728h2v2h-2zM274 1742h2v2h-2zM276 1668h2v2h-2zM276 1678h2v2h-2zM276 1686h2v2h-2zM276 1690h2v2h-2zM276 1702h2v2h-2zM276 1728h2v2h-2zM278 1680h2v2h-2zM278 1682h2v2h-2zM278 1684h2v2h-2zM278 1728h2v2h-2zM278 1734h2v2h-2zM280 1694h2v2h-2zM280 1698h2v2h-2zM280 1700h2v2h-2zM280 1706h2v2h-2zM280 1708h2v2h-2zM280 1710h2v2h-2zM280 1712h2v2h-2zM280 1720h2v2h-2zM282 1680h2v2h-2zM282 1682h2v2h-2zM282 1688h2v2h-2zM282 1706h2v2h-2zM282 1732h2v2h-2zM282 1734h2v2h-2zM282 1736h2v2h-2zM284 1684h2v2h-2zM284 1688h2v2h-2zM284 1700h2v2h-2zM284 1702h2v2h-2zM284 1704h2v2h-2zM284 1712h2v2h-2zM284 1734h2v2h-2zM286 1670h2v2h-2zM286 1686h2v2h-2zM286 1694h2v2h-2zM286 1710h2v2h-2zM286 1712h2v2h-2zM286 1714h2v2h-2zM286 1728h2v2h-2zM288 1662h2v2h-2zM288 1680h2v2h-2zM288 1688h2v2h-2zM288 1692h2v2h-2zM288 1698h2v2h-2zM288 1700h2v2h-2zM288 1702h2v2h-2zM288 1706h2v2h-2zM288 1708h2v2h-2zM288 1714h2v2h-2zM288 1716h2v2h-2zM288 1726h2v2h-2zM290 1670h2v2h-2zM290 1676h2v2h-2zM290 1682h2v2h-2zM290 1688h2v2h-2zM290 1694h2v2h-2zM290 1704h2v2h-2zM290 1712h2v2h-2zM290 1714h2v2h-2zM290 1716h2v2h-2zM290 1722h2v2h-2zM292 1670h2v2h-2zM292 1678h2v2h-2zM292 1688h2v2h-2zM292 1694h2v2h-2zM292 1702h2v2h-2zM292 1712h2v2h-2zM292 1714h2v2h-2zM292 1718h2v2h-2zM292 1720h2v2h-2zM292 1768h2v2h-2zM294 1656h2v2h-2zM294 1676h2v2h-2zM294 1678h2v2h-2zM294 1680h2v2h-2zM294 1682h2v2h-2zM294 1684h2v2h-2zM294 1688h2v2h-2zM294 1694h2v2h-2zM294 1696h2v2h-2zM294 1698h2v2h-2zM294 1702h2v2h-2zM294 1704h2v2h-2zM294 1706h2v2h-2zM294 1714h2v2h-2zM294 1720h2v2h-2zM294 1724h2v2h-2zM294 1738h2v2h-2zM296 1690h2v2h-2zM296 1694h2v2h-2zM296 1696h2v2h-2zM296 1698h2v2h-2zM296 1700h2v2h-2zM296 1706h2v2h-2zM296 1710h2v2h-2zM296 1712h2v2h-2zM296 1714h2v2h-2zM296 1724h2v2h-2zM298 1690h2v2h-2zM298 1692h2v2h-2zM298 1694h2v2h-2zM298 1696h2v2h-2zM298 1698h2v2h-2zM298 1704h2v2h-2zM298 1712h2v2h-2zM298 1716h2v2h-2zM300 1692h2v2h-2zM300 1694h2v2h-2zM300 1696h2v2h-2zM300 1700h2v2h-2zM300 1702h2v2h-2zM300 1708h2v2h-2zM300 1716h2v2h-2zM300 1720h2v2h-2zM302 1670h2v2h-2zM302 1682h2v2h-2zM302 1688h2v2h-2zM302 1696h2v2h-2zM302 1700h2v2h-2zM302 1702h2v2h-2zM302 1706h2v2h-2zM302 1708h2v2h-2zM302 1714h2v2h-2zM302 1728h2v2h-2zM304 1662h2v2h-2zM304 1664h2v2h-2zM304 1666h2v2h-2zM304 1678h2v2h-2zM304 1682h2v2h-2zM304 1684h2v2h-2zM304 1688h2v2h-2zM304 1692h2v2h-2zM304 1698h2v2h-2zM304 1700h2v2h-2zM304 1708h2v2h-2zM304 1724h2v2h-2zM304 1732h2v2h-2zM304 1742h2v2h-2zM306 1662h2v2h-2zM306 1674h2v2h-2zM306 1680h2v2h-2zM306 1682h2v2h-2zM306 1684h2v2h-2zM306 1688h2v2h-2zM306 1690h2v2h-2zM306 1692h2v2h-2zM306 1698h2v2h-2zM306 1704h2v2h-2zM306 1710h2v2h-2zM306 1716h2v2h-2zM306 1732h2v2h-2zM306 1768h2v2h-2zM308 1674h2v2h-2zM308 1676h2v2h-2zM308 1678h2v2h-2zM308 1682h2v2h-2zM308 1684h2v2h-2zM308 1686h2v2h-2zM308 1688h2v2h-2zM308 1698h2v2h-2zM308 1704h2v2h-2zM308 1710h2v2h-2zM308 1740h2v2h-2zM310 1664h2v2h-2zM310 1668h2v2h-2zM310 1680h2v2h-2zM310 1682h2v2h-2zM310 1690h2v2h-2zM310 1692h2v2h-2zM310 1694h2v2h-2zM310 1696h2v2h-2zM310 1706h2v2h-2zM310 1708h2v2h-2zM310 1714h2v2h-2zM310 1718h2v2h-2zM310 1722h2v2h-2zM310 1726h2v2h-2zM312 1650h2v2h-2zM312 1666h2v2h-2zM312 1672h2v2h-2zM312 1682h2v2h-2zM312 1686h2v2h-2zM312 1690h2v2h-2zM312 1692h2v2h-2zM312 1694h2v2h-2zM312 1696h2v2h-2zM312 1698h2v2h-2zM312 1700h2v2h-2zM312 1706h2v2h-2zM312 1710h2v2h-2zM312 1712h2v2h-2zM312 1716h2v2h-2zM312 1718h2v2h-2zM312 1722h2v2h-2zM314 1672h2v2h-2zM314 1678h2v2h-2zM314 1680h2v2h-2zM314 1682h2v2h-2zM314 1686h2v2h-2zM314 1688h2v2h-2zM314 1690h2v2h-2zM314 1692h2v2h-2zM314 1696h2v2h-2zM314 1700h2v2h-2zM314 1702h2v2h-2zM314 1706h2v2h-2zM314 1718h2v2h-2zM314 1724h2v2h-2zM316 1664h2v2h-2zM316 1674h2v2h-2zM316 1678h2v2h-2zM316 1680h2v2h-2zM316 1682h2v2h-2zM316 1692h2v2h-2zM316 1694h2v2h-2zM316 1700h2v2h-2zM316 1708h2v2h-2zM316 1712h2v2h-2zM316 1726h2v2h-2zM316 1736h2v2h-2zM318 1660h2v2h-2zM318 1676h2v2h-2zM318 1678h2v2h-2zM318 1682h2v2h-2zM318 1684h2v2h-2zM318 1688h2v2h-2zM318 1690h2v2h-2zM318 1694h2v2h-2zM318 1696h2v2h-2zM318 1698h2v2h-2zM318 1700h2v2h-2zM318 1704h2v2h-2zM318 1714h2v2h-2zM320 1648h2v2h-2zM320 1654h2v2h-2zM320 1660h2v2h-2zM320 1674h2v2h-2zM320 1678h2v2h-2zM320 1682h2v2h-2zM320 1684h2v2h-2zM320 1688h2v2h-2zM320 1690h2v2h-2zM320 1692h2v2h-2zM320 1694h2v2h-2zM320 1696h2v2h-2zM320 1698h2v2h-2zM320 1700h2v2h-2zM320 1702h2v2h-2zM320 1704h2v2h-2zM320 1706h2v2h-2zM320 1714h2v2h-2zM320 1722h2v2h-2zM322 1658h2v2h-2zM322 1668h2v2h-2zM322 1676h2v2h-2zM322 1678h2v2h-2zM322 1680h2v2h-2zM322 1682h2v2h-2zM322 1684h2v2h-2zM322 1686h2v2h-2zM322 1688h2v2h-2zM322 1690h2v2h-2zM322 1692h2v2h-2zM322 1694h2v2h-2zM322 1696h2v2h-2zM322 1700h2v2h-2zM322 1702h2v2h-2zM322 1706h2v2h-2zM322 1710h2v2h-2zM322 1716h2v2h-2zM322 1742h2v2h-2zM322 1758h2v2h-2zM324 1662h2v2h-2zM324 1666h2v2h-2zM324 1670h2v2h-2zM324 1672h2v2h-2zM324 1674h2v2h-2zM324 1676h2v2h-2zM324 1678h2v2h-2zM324 1680h2v2h-2zM324 1682h2v2h-2zM324 1688h2v2h-2zM324 1690h2v2h-2zM324 1696h2v2h-2zM324 1698h2v2h-2zM324 1700h2v2h-2zM324 1706h2v2h-2zM324 1710h2v2h-2zM324 1712h2v2h-2zM326 1652h2v2h-2zM326 1668h2v2h-2zM326 1670h2v2h-2zM326 1674h2v2h-2zM326 1676h2v2h-2zM326 1678h2v2h-2zM326 1682h2v2h-2zM326 1684h2v2h-2zM326 1688h2v2h-2zM326 1690h2v2h-2zM326 1692h2v2h-2zM326 1698h2v2h-2zM326 1704h2v2h-2zM326 1706h2v2h-2zM326 1708h2v2h-2zM326 1710h2v2h-2zM326 1712h2v2h-2zM326 1728h2v2h-2zM328 1674h2v2h-2zM328 1678h2v2h-2zM328 1688h2v2h-2zM328 1690h2v2h-2zM328 1696h2v2h-2zM328 1698h2v2h-2zM328 1702h2v2h-2zM328 1704h2v2h-2zM328 1706h2v2h-2zM328 1708h2v2h-2zM330 1658h2v2h-2zM330 1660h2v2h-2zM330 1662h2v2h-2zM330 1668h2v2h-2zM330 1672h2v2h-2zM330 1676h2v2h-2zM330 1680h2v2h-2zM330 1682h2v2h-2zM330 1684h2v2h-2zM330 1692h2v2h-2zM330 1694h2v2h-2zM330 1698h2v2h-2zM330 1704h2v2h-2zM330 1706h2v2h-2zM330 1710h2v2h-2zM332 1658h2v2h-2zM332 1662h2v2h-2zM332 1666h2v2h-2zM332 1670h2v2h-2zM332 1672h2v2h-2zM332 1676h2v2h-2zM332 1678h2v2h-2zM332 1680h2v2h-2zM332 1684h2v2h-2zM332 1690h2v2h-2zM332 1692h2v2h-2zM332 1694h2v2h-2zM332 1696h2v2h-2zM332 1698h2v2h-2zM332 1704h2v2h-2zM332 1710h2v2h-2zM334 1670h2v2h-2zM334 1674h2v2h-2zM334 1676h2v2h-2zM334 1682h2v2h-2zM334 1684h2v2h-2zM334 1688h2v2h-2zM334 1690h2v2h-2zM334 1694h2v2h-2zM334 1698h2v2h-2zM334 1702h2v2h-2zM334 1706h2v2h-2zM334 1710h2v2h-2zM334 1720h2v2h-2zM336 1658h2v2h-2zM336 1662h2v2h-2zM336 1664h2v2h-2zM336 1672h2v2h-2zM336 1674h2v2h-2zM336 1678h2v2h-2zM336 1684h2v2h-2zM336 1686h2v2h-2zM336 1690h2v2h-2zM336 1692h2v2h-2zM336 1696h2v2h-2zM336 1706h2v2h-2zM338 1656h2v2h-2zM338 1674h2v2h-2zM338 1676h2v2h-2zM338 1678h2v2h-2zM338 1682h2v2h-2zM338 1686h2v2h-2zM338 1688h2v2h-2zM338 1698h2v2h-2zM338 1702h2v2h-2zM338 1704h2v2h-2zM338 1716h2v2h-2zM340 1654h2v2h-2zM340 1656h2v2h-2zM340 1664h2v2h-2zM340 1666h2v2h-2zM340 1674h2v2h-2zM340 1678h2v2h-2zM340 1682h2v2h-2zM340 1690h2v2h-2zM340 1694h2v2h-2zM340 1696h2v2h-2zM340 1700h2v2h-2zM340 1702h2v2h-2zM340 1706h2v2h-2zM340 1712h2v2h-2zM340 1716h2v2h-2zM340 1718h2v2h-2zM342 1642h2v2h-2zM342 1666h2v2h-2zM342 1670h2v2h-2zM342 1676h2v2h-2zM342 1678h2v2h-2zM342 1680h2v2h-2zM342 1686h2v2h-2zM342 1688h2v2h-2zM342 1696h2v2h-2zM342 1698h2v2h-2zM342 1706h2v2h-2zM342 1708h2v2h-2zM342 1712h2v2h-2zM342 1714h2v2h-2zM344 1668h2v2h-2zM344 1670h2v2h-2zM344 1672h2v2h-2zM344 1678h2v2h-2zM344 1680h2v2h-2zM344 1682h2v2h-2zM344 1686h2v2h-2zM344 1688h2v2h-2zM344 1692h2v2h-2zM344 1700h2v2h-2zM344 1704h2v2h-2zM344 1712h2v2h-2zM344 1722h2v2h-2zM346 1650h2v2h-2zM346 1662h2v2h-2zM346 1666h2v2h-2zM346 1674h2v2h-2zM346 1682h2v2h-2zM346 1688h2v2h-2zM346 1690h2v2h-2zM346 1692h2v2h-2zM346 1700h2v2h-2zM346 1702h2v2h-2zM346 1712h2v2h-2zM346 1722h2v2h-2zM346 1726h2v2h-2zM348 1662h2v2h-2zM348 1674h2v2h-2zM348 1676h2v2h-2zM348 1690h2v2h-2zM348 1696h2v2h-2zM348 1706h2v2h-2zM348 1712h2v2h-2zM348 1718h2v2h-2zM350 1662h2v2h-2zM350 1670h2v2h-2zM350 1672h2v2h-2zM350 1678h2v2h-2zM350 1680h2v2h-2zM350 1684h2v2h-2zM350 1686h2v2h-2zM350 1688h2v2h-2zM350 1690h2v2h-2zM350 1694h2v2h-2zM350 1702h2v2h-2zM350 1712h2v2h-2zM350 1724h2v2h-2zM352 1670h2v2h-2zM352 1676h2v2h-2zM352 1678h2v2h-2zM352 1686h2v2h-2zM352 1690h2v2h-2zM352 1692h2v2h-2zM352 1696h2v2h-2zM352 1706h2v2h-2zM352 1720h2v2h-2zM354 1660h2v2h-2zM354 1676h2v2h-2zM354 1678h2v2h-2zM354 1684h2v2h-2zM354 1698h2v2h-2zM354 1702h2v2h-2zM356 1674h2v2h-2zM356 1680h2v2h-2zM356 1686h2v2h-2zM356 1688h2v2h-2zM356 1690h2v2h-2zM356 1702h2v2h-2zM356 1706h2v2h-2zM356 1716h2v2h-2zM358 1658h2v2h-2zM358 1660h2v2h-2zM358 1670h2v2h-2zM358 1680h2v2h-2zM358 1682h2v2h-2zM358 1684h2v2h-2zM358 1688h2v2h-2zM358 1694h2v2h-2zM358 1696h2v2h-2zM358 1706h2v2h-2zM360 1664h2v2h-2zM360 1686h2v2h-2zM360 1688h2v2h-2zM360 1692h2v2h-2zM360 1706h2v2h-2zM360 1708h2v2h-2zM360 1712h2v2h-2zM360 1740h2v2h-2zM362 1642h2v2h-2zM362 1668h2v2h-2zM362 1674h2v2h-2zM362 1678h2v2h-2zM362 1688h2v2h-2zM362 1696h2v2h-2zM362 1720h2v2h-2zM362 1724h2v2h-2zM364 1670h2v2h-2zM364 1676h2v2h-2zM364 1686h2v2h-2zM364 1698h2v2h-2zM364 1702h2v2h-2zM364 1716h2v2h-2zM366 1654h2v2h-2zM366 1668h2v2h-2zM366 1670h2v2h-2zM366 1680h2v2h-2zM366 1682h2v2h-2zM366 1700h2v2h-2zM368 1646h2v2h-2zM368 1662h2v2h-2zM368 1664h2v2h-2zM368 1666h2v2h-2zM368 1672h2v2h-2zM368 1678h2v2h-2zM368 1690h2v2h-2zM368 1692h2v2h-2zM368 1708h2v2h-2zM368 1714h2v2h-2zM370 1684h2v2h-2zM370 1700h2v2h-2zM370 1702h2v2h-2zM372 1672h2v2h-2zM372 1690h2v2h-2zM372 1716h2v2h-2zM374 1694h2v2h-2zM376 1670h2v2h-2zM376 1684h2v2h-2zM376 1686h2v2h-2zM378 1666h2v2h-2zM378 1694h2v2h-2zM380 1680h2v2h-2zM380 1686h2v2h-2zM380 1710h2v2h-2zM382 1660h2v2h-2zM382 1666h2v2h-2zM382 1682h2v2h-2zM384 1704h2v2h-2zM390 1684h2v2h-2zM392 1646h2v2h-2zM392 1670h2v2h-2zM398 1668h2v2h-2zM400 1664h2v2h-2zM400 1694h2v2h-2zM402 1684h2v2h-2zM402 1720h2v2h-2zM404 1674h2v2h-2zM406 1690h2v2h-2zM418 1664h2v2h-2z" fill="#36e25c"/>
<path d="M286 1694h2v2h-2zM288 1696h2v2h-2zM288 1716h2v2h-2zM290 1698h2v2h-2zM292 1696h2v2h-2zM294 1672h2v2h-2zM298 1692h2v2h-2zM300 1664h2v2h-2zM300 1672h2v2h-2zM300 1708h2v2h-2zM302 1690h2v2h-2zM302 1696h2v2h-2zM304 1686h2v2h-2zM304 1700h2v2h-2zM304 1704h2v2h-2zM306 1678h2v2h-2zM306 1718h2v2h-2zM308 1680h2v2h-2zM308 1698h2v2h-2zM312 1660h2v2h-2zM312 1666h2v2h-2zM312 1702h2v2h-2zM314 1674h2v2h-2zM314 1684h2v2h-2zM314 1698h2v2h-2zM314 1700h2v2h-2zM316 1694h2v2h-2zM318 1672h2v2h-2zM318 1718h2v2h-2zM320 1688h2v2h-2zM320 1694h2v2h-2zM320 1696h2v2h-2zM320 1708h2v2h-2zM322 1678h2v2h-2zM322 1708h2v2h-2zM326 1688h2v2h-2zM326 1696h2v2h-2zM326 1706h2v2h-2zM328 1688h2v2h-2zM328 1694h2v2h-2zM328 1700h2v2h-2zM330 1678h2v2h-2zM330 1698h2v2h-2zM330 1710h2v2h-2zM332 1666h2v2h-2zM332 1700h2v2h-2zM334 1680h2v2h-2zM334 1696h2v2h-2zM334 1698h2v2h-2zM336 1672h2v2h-2zM336 1678h2v2h-2zM336 1698h2v2h-2zM336 1718h2v2h-2zM338 1680h2v2h-2zM338 1686h2v2h-2zM338 1698h2v2h-2zM340 1672h2v2h-2zM340 1694h2v2h-2zM342 1684h2v2h-2zM342 1702h2v2h-2zM344 1676h2v2h-2zM344 1700h2v2h-2zM346 1680h2v2h-2zM346 1684h2v2h-2zM348 1696h2v2h-2zM350 1676h2v2h-2zM350 1686h2v2h-2zM352 1662h2v2h-2zM352 1682h2v2h-2zM352 1694h2v2h-2zM358 1658h2v2h-2zM360 1670h2v2h-2zM360 1688h2v2h-2zM366 1664h2v2h-2zM366 1682h2v2h-2zM370 1680h2v2h-2z" fill="#e6ee18"/>
<path d="M282 1710h2v2h-2zM290 1698h2v2h-2zM294 1700h2v2h-2zM296 1700h2v2h-2zM296 1718h2v2h-2zM298 1700h2v2h-2zM302 1694h2v2h-2zM306 1702h2v2h-2zM312 1696h2v2h-2zM312 1698h2v2h-2zM312 1704h2v2h-2zM316 1684h2v2h-2zM316 1704h2v2h-2zM318 1702h2v2h-2zM320 1678h2v2h-2zM320 1680h2v2h-2zM322 1708h2v2h-2zM324 1664h2v2h-2zM324 1704h2v2h-2zM326 1678h2v2h-2zM328 1690h2v2h-2zM330 1656h2v2h-2zM330 1682h2v2h-2zM330 1690h2v2h-2zM334 1684h2v2h-2zM334 1704h2v2h-2zM336 1668h2v2h-2zM336 1694h2v2h-2zM338 1676h2v2h-2zM338 1696h2v2h-2zM340 1684h2v2h-2zM340 1688h2v2h-2zM342 1676h2v2h-2zM342 1684h2v2h-2zM342 1690h2v2h-2zM342 1698h2v2h-2zM344 1672h2v2h-2zM346 1682h2v2h-2zM350 1680h2v2h-2zM352 1678h2v2h-2z" fill="#f04018"/>
<rect x="139.9" y="1504.0" width="416.8" height="416.0" fill="none" stroke="#111" stroke-width="1.9"/>
<rect x="139.9" y="1604.5" width="302.9" height="78.0" fill="none" stroke="#2a2a2a" stroke-width="1.2"/>
<rect x="139.9" y="1711.5" width="302.9" height="76.3" fill="none" stroke="#2a2a2a" stroke-width="1.2"/>
<g transform="translate(240.6 1557.1)"><text x="0.0" y="0" font-size="33.5" textLength="96.6" lengthAdjust="spacingAndGlyphs">CD150</text><text x="97.6" y="-12" font-size="20" textLength="16.3" lengthAdjust="spacingAndGlyphs">hi</text></g>
<text x="294.6" y="1591.8" font-size="33.5" text-anchor="middle" textLength="64.2" lengthAdjust="spacingAndGlyphs">30.4</text>
<g transform="translate(246.1 1837.3)"><text x="0.0" y="0" font-size="33.5" textLength="96.6" lengthAdjust="spacingAndGlyphs">CD150</text><text x="97.6" y="-12" font-size="20" textLength="16.3" lengthAdjust="spacingAndGlyphs">lo</text></g>
<text x="302.3" y="1871.3" font-size="33.5" text-anchor="middle" textLength="64.2" lengthAdjust="spacingAndGlyphs">30.5</text>
<g transform="translate(128.8 1529.1)"><text x="-48.0" y="0" font-size="34" textLength="37.3" lengthAdjust="spacingAndGlyphs">10</text><text x="-10.4" y="-12.5" font-size="19" textLength="10.4" lengthAdjust="spacingAndGlyphs">5</text></g>
<g transform="translate(128.8 1646.0)"><text x="-48.0" y="0" font-size="34" textLength="37.3" lengthAdjust="spacingAndGlyphs">10</text><text x="-10.4" y="-12.5" font-size="19" textLength="10.4" lengthAdjust="spacingAndGlyphs">4</text></g>
<g transform="translate(128.8 1743.3)"><text x="-48.0" y="0" font-size="34" textLength="37.3" lengthAdjust="spacingAndGlyphs">10</text><text x="-10.4" y="-12.5" font-size="19" textLength="10.4" lengthAdjust="spacingAndGlyphs">3</text></g>
<g transform="translate(128.2 1842.5)"><text x="-48.0" y="0" font-size="34" textLength="37.3" lengthAdjust="spacingAndGlyphs">10</text><text x="-10.4" y="-12.5" font-size="19" textLength="10.4" lengthAdjust="spacingAndGlyphs">2</text></g>
<g transform="translate(128.2 1917.7)"><text x="-59.2" y="0" font-size="34" textLength="48.5" lengthAdjust="spacingAndGlyphs">-10</text><text x="-10.4" y="-12.5" font-size="19" textLength="10.4" lengthAdjust="spacingAndGlyphs">2</text></g>
<text x="122.5" y="1886.6" font-size="34" text-anchor="end">0</text>
<rect x="135.0" y="1514.0" width="5.0" height="2.6"/>
<rect x="128.7" y="1633.9" width="11.3" height="7.0"/>
<rect x="128.7" y="1731.2" width="11.3" height="7.0"/>
<rect x="128.7" y="1830.7" width="11.3" height="7.0"/>
<rect x="128.7" y="1904.7" width="11.3" height="7.0"/>
<rect x="128.7" y="1865.3" width="11.3" height="13.7"/>
<rect x="135.5" y="1840.0" width="4.5" height="66.0"/>
<rect x="132.0" y="1850.0" width="8.0" height="3.2"/>
<rect x="132.0" y="1889.5" width="8.0" height="3.2"/>
<rect x="135.0" y="1607.5" width="5.0" height="1.8"/>
<rect x="135.0" y="1590.5" width="5.0" height="1.8"/>
<rect x="135.0" y="1578.5" width="5.0" height="1.8"/>
<rect x="132.0" y="1567.9" width="8.0" height="4.2"/>
<rect x="135.0" y="1561.5" width="5.0" height="1.8"/>
<rect x="135.0" y="1555.0" width="5.0" height="1.8"/>
<rect x="135.0" y="1549.4" width="5.0" height="1.8"/>
<rect x="135.0" y="1544.5" width="5.0" height="1.8"/>
<rect x="135.0" y="1704.5" width="5.0" height="1.8"/>
<rect x="135.0" y="1687.4" width="5.0" height="1.8"/>
<rect x="135.0" y="1675.2" width="5.0" height="1.8"/>
<rect x="132.0" y="1664.6" width="8.0" height="4.2"/>
<rect x="135.0" y="1658.1" width="5.0" height="1.8"/>
<rect x="135.0" y="1651.6" width="5.0" height="1.8"/>
<rect x="135.0" y="1645.9" width="5.0" height="1.8"/>
<rect x="135.0" y="1641.0" width="5.0" height="1.8"/>
<rect x="135.0" y="1803.3" width="5.0" height="1.8"/>
<rect x="135.0" y="1785.8" width="5.0" height="1.8"/>
<rect x="135.0" y="1773.4" width="5.0" height="1.8"/>
<rect x="132.0" y="1762.6" width="8.0" height="4.2"/>
<rect x="135.0" y="1755.9" width="5.0" height="1.8"/>
<rect x="135.0" y="1749.2" width="5.0" height="1.8"/>
<rect x="135.0" y="1743.4" width="5.0" height="1.8"/>
<rect x="135.0" y="1738.4" width="5.0" height="1.8"/>
<rect x="146.2" y="1920.6" width="6.8" height="10.8"/>
<rect x="221.0" y="1920.6" width="6.8" height="10.8"/>
<rect x="319.8" y="1920.6" width="6.8" height="10.8"/>
<rect x="417.8" y="1920.6" width="6.8" height="10.8"/>
<rect x="511.9" y="1920.6" width="6.8" height="10.8"/>
<rect x="179.2" y="1920.6" width="14.5" height="10.8"/>
<rect x="153.0" y="1920.6" width="72.0" height="3.8"/>
<rect x="164.8" y="1920.6" width="6.2" height="6.8"/>
<rect x="204.3" y="1920.6" width="4.8" height="6.8"/>
<rect x="248.7" y="1920.6" width="2.4" height="4.6"/>
<rect x="266.9" y="1920.6" width="2.4" height="4.6"/>
<rect x="279.8" y="1920.6" width="2.4" height="4.6"/>
<rect x="299.6" y="1920.6" width="2.4" height="4.6"/>
<rect x="303.4" y="1920.6" width="2.4" height="4.6"/>
<rect x="307.2" y="1920.6" width="2.4" height="4.6"/>
<rect x="311.0" y="1920.6" width="2.4" height="4.6"/>
<rect x="353.2" y="1920.6" width="2.4" height="4.6"/>
<rect x="369.4" y="1920.6" width="2.4" height="4.6"/>
<rect x="382.0" y="1920.6" width="2.4" height="4.6"/>
<rect x="398.3" y="1920.6" width="2.4" height="4.6"/>
<rect x="402.8" y="1920.6" width="2.4" height="4.6"/>
<rect x="407.0" y="1920.6" width="2.4" height="4.6"/>
<rect x="411.2" y="1920.6" width="2.4" height="4.6"/>
<rect x="447.7" y="1920.6" width="2.4" height="4.6"/>
<rect x="465.4" y="1920.6" width="2.4" height="4.6"/>
<rect x="476.5" y="1920.6" width="2.4" height="4.6"/>
<rect x="492.5" y="1920.6" width="2.4" height="4.6"/>
<rect x="496.3" y="1920.6" width="2.4" height="4.6"/>
<rect x="500.1" y="1920.6" width="2.4" height="4.6"/>
<rect x="503.8" y="1920.6" width="2.4" height="4.6"/>
<rect x="541.8" y="1920.6" width="2.4" height="4.6"/>
<rect x="289.8" y="1920.6" width="5.2" height="7.0"/>
<rect x="388.9" y="1920.6" width="5.2" height="7.0"/>
<rect x="483.0" y="1920.6" width="5.2" height="7.0"/>
<text x="187.2" y="1958.0" font-size="34" text-anchor="middle">0</text>
<g transform="translate(303.1 1958.0)"><text x="0.0" y="0" font-size="34" textLength="37.3" lengthAdjust="spacingAndGlyphs">10</text><text x="37.6" y="-12.5" font-size="19" textLength="10.4" lengthAdjust="spacingAndGlyphs">3</text></g>
<g transform="translate(401.0 1958.0)"><text x="0.0" y="0" font-size="34" textLength="37.3" lengthAdjust="spacingAndGlyphs">10</text><text x="37.6" y="-12.5" font-size="19" textLength="10.4" lengthAdjust="spacingAndGlyphs">4</text></g>
<g transform="translate(495.2 1958.0)"><text x="0.0" y="0" font-size="34" textLength="37.3" lengthAdjust="spacingAndGlyphs">10</text><text x="37.6" y="-12.5" font-size="19" textLength="10.4" lengthAdjust="spacingAndGlyphs">5</text></g>
<text x="342.6" y="1994.4" font-size="33.5" text-anchor="middle" textLength="144.6" lengthAdjust="spacingAndGlyphs">P-selectin</text>
<text x="56.8" y="1778.6" font-size="33.5" textLength="96.0" lengthAdjust="spacingAndGlyphs" transform="rotate(-90 56.8 1778.6)">CD150</text>
<text x="613.0" y="1446.0" font-size="43.5" font-weight="bold">k</text>
<text x="634.8" y="1812.0" font-size="33.5" textLength="202.7" lengthAdjust="spacingAndGlyphs" transform="rotate(-90 634.8 1812.0)">P-selectin MFI</text>
<circle cx="787.1" cy="1793.0" r="10.7" fill="#9c9c9c"/>
<circle cx="787.1" cy="1830.3" r="10.7" fill="#9c9c9c"/>
<circle cx="787.1" cy="1853.8" r="10.7" fill="#9c9c9c"/>
<circle cx="787.1" cy="1879.5" r="10.7" fill="#9c9c9c"/>
<circle cx="869.3" cy="1608.2" r="10.7" fill="#e8734f"/>
<circle cx="869.3" cy="1698.5" r="10.7" fill="#e8734f"/>
<circle cx="869.3" cy="1755.7" r="10.7" fill="#e8734f"/>
<circle cx="869.3" cy="1809.1" r="10.7" fill="#e8734f"/>
<line x1="787.1" y1="1793.0" x2="869.3" y2="1608.2" stroke="#000" stroke-width="2.2" stroke-linecap="butt"/>
<line x1="787.1" y1="1830.3" x2="869.3" y2="1698.5" stroke="#000" stroke-width="2.2" stroke-linecap="butt"/>
<line x1="787.1" y1="1853.8" x2="869.3" y2="1755.7" stroke="#000" stroke-width="2.2" stroke-linecap="butt"/>
<line x1="787.1" y1="1879.5" x2="869.3" y2="1809.1" stroke="#000" stroke-width="2.2" stroke-linecap="butt"/>
<polyline points="787.0,1576.2 787.0,1543.3 869.2,1543.3 869.2,1576.2" fill="none" stroke="#000" stroke-width="2.4" stroke-linecap="round" stroke-linejoin="miter"/>
<text x="822.6" y="1548.5" font-size="30" style="font-family:'DejaVu Sans',sans-serif;letter-spacing:3.65px;stroke:#000;stroke-width:0.9px">*</text>
<rect x="743.8" y="1513.5" width="5.8" height="414.1"/>
<rect x="736.8" y="1921.8" width="173.1" height="5.8"/>
<rect x="736.8" y="1513.2" width="8" height="5.0"/>
<text x="732.3" y="1526.6" font-size="33.5" text-anchor="end" textLength="73.4" lengthAdjust="spacingAndGlyphs">2500</text>
<rect x="736.8" y="1594.8" width="8" height="5.0"/>
<text x="732.3" y="1608.2" font-size="33.5" text-anchor="end" textLength="73.4" lengthAdjust="spacingAndGlyphs">2000</text>
<rect x="736.8" y="1676.5" width="8" height="5.0"/>
<text x="732.3" y="1689.9" font-size="33.5" text-anchor="end" textLength="73.4" lengthAdjust="spacingAndGlyphs">1500</text>
<rect x="736.8" y="1758.1" width="8" height="5.0"/>
<text x="732.3" y="1771.5" font-size="33.5" text-anchor="end" textLength="73.4" lengthAdjust="spacingAndGlyphs">1000</text>
<rect x="736.8" y="1840.1" width="8" height="5.0"/>
<text x="732.3" y="1853.5" font-size="33.5" text-anchor="end" textLength="55.1" lengthAdjust="spacingAndGlyphs">500</text>
<rect x="736.8" y="1922.2" width="8" height="5.0"/>
<text x="732.3" y="1935.6" font-size="33.5" text-anchor="end">0</text>
<rect x="784.6" y="1924.7" width="5.0" height="9.9"/>
<g transform="translate(804.5 1960.9) rotate(-45)"><text x="-114.0" y="0" font-size="33.5" textLength="96.6" lengthAdjust="spacingAndGlyphs">CD150</text><text x="-16.3" y="-12" font-size="20" textLength="16.3" lengthAdjust="spacingAndGlyphs">lo</text></g>
<rect x="866.8" y="1924.7" width="5.0" height="9.9"/>
<g transform="translate(886.7 1960.9) rotate(-45)"><text x="-113.9" y="0" font-size="33.5" textLength="96.6" lengthAdjust="spacingAndGlyphs">CD150</text><text x="-16.3" y="-12" font-size="20" textLength="16.3" lengthAdjust="spacingAndGlyphs">hi</text></g>
<text x="1046.0" y="1446.3" font-size="43.5" font-weight="bold">l</text>
<text x="1356.7" y="1471.0" font-size="33.5" text-anchor="middle" textLength="119.7" lengthAdjust="spacingAndGlyphs">LT-HSCs</text>
<path d="M1254 1672h2v2h-2zM1256 1584h2v2h-2zM1256 1696h2v2h-2zM1256 1724h2v2h-2zM1258 1614h2v2h-2zM1258 1690h2v2h-2zM1258 1694h2v2h-2zM1258 1712h2v2h-2zM1260 1628h2v2h-2zM1260 1634h2v2h-2zM1260 1674h2v2h-2zM1262 1636h2v2h-2zM1262 1668h2v2h-2zM1262 1714h2v2h-2zM1262 1716h2v2h-2zM1262 1738h2v2h-2zM1264 1650h2v2h-2zM1264 1656h2v2h-2zM1264 1688h2v2h-2zM1264 1714h2v2h-2zM1264 1724h2v2h-2zM1264 1742h2v2h-2zM1266 1622h2v2h-2zM1266 1646h2v2h-2zM1266 1700h2v2h-2zM1266 1718h2v2h-2zM1268 1584h2v2h-2zM1268 1644h2v2h-2zM1268 1648h2v2h-2zM1268 1670h2v2h-2zM1268 1676h2v2h-2zM1268 1690h2v2h-2zM1268 1714h2v2h-2zM1270 1590h2v2h-2zM1270 1650h2v2h-2zM1270 1674h2v2h-2zM1270 1718h2v2h-2zM1270 1720h2v2h-2zM1272 1582h2v2h-2zM1272 1610h2v2h-2zM1272 1656h2v2h-2zM1272 1702h2v2h-2zM1272 1704h2v2h-2zM1272 1734h2v2h-2zM1274 1574h2v2h-2zM1274 1588h2v2h-2zM1274 1626h2v2h-2zM1274 1638h2v2h-2zM1274 1644h2v2h-2zM1274 1660h2v2h-2zM1274 1672h2v2h-2zM1274 1676h2v2h-2zM1274 1680h2v2h-2zM1274 1688h2v2h-2zM1274 1698h2v2h-2zM1274 1702h2v2h-2zM1274 1726h2v2h-2zM1274 1736h2v2h-2zM1276 1580h2v2h-2zM1276 1596h2v2h-2zM1276 1618h2v2h-2zM1276 1630h2v2h-2zM1276 1634h2v2h-2zM1276 1642h2v2h-2zM1276 1648h2v2h-2zM1276 1658h2v2h-2zM1276 1690h2v2h-2zM1276 1714h2v2h-2zM1278 1580h2v2h-2zM1278 1586h2v2h-2zM1278 1614h2v2h-2zM1278 1638h2v2h-2zM1278 1640h2v2h-2zM1278 1666h2v2h-2zM1278 1670h2v2h-2zM1278 1684h2v2h-2zM1278 1710h2v2h-2zM1278 1720h2v2h-2zM1278 1736h2v2h-2zM1280 1624h2v2h-2zM1280 1688h2v2h-2zM1280 1702h2v2h-2zM1280 1712h2v2h-2zM1282 1628h2v2h-2zM1282 1632h2v2h-2zM1282 1640h2v2h-2zM1282 1646h2v2h-2zM1282 1650h2v2h-2zM1282 1710h2v2h-2zM1282 1740h2v2h-2zM1284 1602h2v2h-2zM1284 1642h2v2h-2zM1284 1650h2v2h-2zM1284 1690h2v2h-2zM1284 1712h2v2h-2zM1284 1722h2v2h-2zM1284 1726h2v2h-2zM1284 1742h2v2h-2zM1286 1562h2v2h-2zM1286 1576h2v2h-2zM1286 1628h2v2h-2zM1286 1688h2v2h-2zM1286 1690h2v2h-2zM1286 1718h2v2h-2zM1286 1736h2v2h-2zM1288 1600h2v2h-2zM1288 1658h2v2h-2zM1288 1668h2v2h-2zM1288 1680h2v2h-2zM1288 1686h2v2h-2zM1288 1696h2v2h-2zM1288 1738h2v2h-2zM1290 1624h2v2h-2zM1290 1644h2v2h-2zM1290 1674h2v2h-2zM1290 1740h2v2h-2zM1292 1568h2v2h-2zM1292 1578h2v2h-2zM1292 1592h2v2h-2zM1292 1604h2v2h-2zM1292 1608h2v2h-2zM1292 1638h2v2h-2zM1292 1694h2v2h-2zM1292 1706h2v2h-2zM1294 1584h2v2h-2zM1294 1592h2v2h-2zM1294 1604h2v2h-2zM1294 1688h2v2h-2zM1294 1722h2v2h-2zM1294 1732h2v2h-2zM1296 1570h2v2h-2zM1296 1580h2v2h-2zM1296 1608h2v2h-2zM1296 1624h2v2h-2zM1296 1632h2v2h-2zM1296 1666h2v2h-2zM1296 1684h2v2h-2zM1298 1596h2v2h-2zM1298 1722h2v2h-2zM1298 1738h2v2h-2zM1300 1556h2v2h-2zM1300 1564h2v2h-2zM1300 1620h2v2h-2zM1300 1624h2v2h-2zM1300 1666h2v2h-2zM1302 1574h2v2h-2zM1302 1596h2v2h-2zM1302 1666h2v2h-2zM1302 1728h2v2h-2zM1304 1550h2v2h-2zM1304 1594h2v2h-2zM1306 1558h2v2h-2zM1306 1564h2v2h-2zM1306 1592h2v2h-2zM1306 1624h2v2h-2zM1306 1642h2v2h-2zM1308 1536h2v2h-2zM1308 1556h2v2h-2zM1308 1558h2v2h-2zM1308 1698h2v2h-2zM1310 1548h2v2h-2zM1310 1554h2v2h-2zM1310 1580h2v2h-2zM1310 1668h2v2h-2zM1312 1564h2v2h-2zM1312 1582h2v2h-2zM1314 1550h2v2h-2zM1316 1594h2v2h-2zM1316 1598h2v2h-2zM1318 1560h2v2h-2zM1318 1571h2v2h-2zM1320 1538h2v2h-2zM1322 1554h2v2h-2zM1324 1560h2v2h-2zM1326 1550h2v2h-2zM1326 1582h2v2h-2zM1328 1552h2v2h-2zM1328 1564h2v2h-2zM1330 1666h2v2h-2zM1334 1548h2v2h-2zM1336 1548h2v2h-2zM1336 1564h2v2h-2zM1337 1586h2v2h-2zM1338 1634h2v2h-2zM1339 1707h2v2h-2zM1340 1574h2v2h-2zM1344 1552h2v2h-2zM1346 1600h2v2h-2zM1350 1544h2v2h-2zM1350 1562h2v2h-2zM1352 1562h2v2h-2zM1358 1540h2v2h-2zM1374 1542h2v2h-2zM1380 1554h2v2h-2zM1398 1537h2v2h-2z" fill="#1a10c8"/>
<path d="M1278 1620h2v2h-2zM1292 1650h2v2h-2zM1300 1596h2v2h-2zM1330 1668h2v2h-2z" fill="#d03818"/>
<rect x="1142.8" y="1486.9" width="428.4" height="428.0" fill="none" stroke="#111" stroke-width="2.2"/>
<rect x="1311.5" y="1520.9" width="247.8" height="216.5" fill="none" stroke="#2a2a2a" stroke-width="1.3"/>
<g transform="translate(1408.3 1622.0)"><text x="0.0" y="0" font-size="33.5" textLength="61.9" lengthAdjust="spacingAndGlyphs">Selp</text><text x="62.9" y="-12" font-size="20" textLength="16.3" lengthAdjust="spacingAndGlyphs">hi</text></g>
<text x="1447.8" y="1657.1" font-size="33.5" text-anchor="middle" textLength="64.2" lengthAdjust="spacingAndGlyphs">29.4</text>
<g transform="translate(1127.0 1538.0)"><text x="-48.0" y="0" font-size="34" textLength="37.3" lengthAdjust="spacingAndGlyphs">10</text><text x="-10.4" y="-12.5" font-size="19" textLength="10.4" lengthAdjust="spacingAndGlyphs">5</text></g>
<g transform="translate(1127.0 1643.5)"><text x="-48.0" y="0" font-size="34" textLength="37.3" lengthAdjust="spacingAndGlyphs">10</text><text x="-10.4" y="-12.5" font-size="19" textLength="10.4" lengthAdjust="spacingAndGlyphs">4</text></g>
<g transform="translate(1127.0 1756.3)"><text x="-48.0" y="0" font-size="34" textLength="37.3" lengthAdjust="spacingAndGlyphs">10</text><text x="-10.4" y="-12.5" font-size="19" textLength="10.4" lengthAdjust="spacingAndGlyphs">3</text></g>
<g transform="translate(1127.0 1901.7)"><text x="-59.2" y="0" font-size="34" textLength="48.5" lengthAdjust="spacingAndGlyphs">-10</text><text x="-10.4" y="-12.5" font-size="19" textLength="10.4" lengthAdjust="spacingAndGlyphs">3</text></g>
<text x="1126.5" y="1827.5" font-size="34" text-anchor="end">0</text>
<rect x="1131.6" y="1524.1" width="11.2" height="6.4"/>
<rect x="1131.6" y="1626.7" width="11.2" height="6.4"/>
<rect x="1131.6" y="1742.7" width="11.2" height="6.4"/>
<rect x="1131.6" y="1882.6" width="11.2" height="6.4"/>
<rect x="1129.5" y="1806.0" width="13.3" height="22.0"/>
<rect x="1137.8" y="1598.1" width="5.0" height="1.8"/>
<rect x="1137.8" y="1580.0" width="5.0" height="1.8"/>
<rect x="1137.8" y="1567.2" width="5.0" height="1.8"/>
<rect x="1134.8" y="1556.1" width="8.0" height="4.2"/>
<rect x="1137.8" y="1549.2" width="5.0" height="1.8"/>
<rect x="1137.8" y="1542.3" width="5.0" height="1.8"/>
<rect x="1137.8" y="1536.3" width="5.0" height="1.8"/>
<rect x="1137.8" y="1531.1" width="5.0" height="1.8"/>
<rect x="1137.8" y="1710.1" width="5.0" height="1.8"/>
<rect x="1137.8" y="1689.7" width="5.0" height="1.8"/>
<rect x="1137.8" y="1675.2" width="5.0" height="1.8"/>
<rect x="1134.8" y="1662.7" width="8.0" height="4.2"/>
<rect x="1137.8" y="1654.7" width="5.0" height="1.8"/>
<rect x="1137.8" y="1647.0" width="5.0" height="1.8"/>
<rect x="1137.8" y="1640.2" width="5.0" height="1.8"/>
<rect x="1137.8" y="1634.3" width="5.0" height="1.8"/>
<rect x="1137.8" y="1782.8" width="5.0" height="1.8"/>
<rect x="1137.8" y="1773.3" width="5.0" height="1.8"/>
<rect x="1137.8" y="1766.5" width="5.0" height="1.8"/>
<rect x="1134.8" y="1760.1" width="8.0" height="4.2"/>
<rect x="1137.8" y="1757.0" width="5.0" height="1.8"/>
<rect x="1137.8" y="1753.4" width="5.0" height="1.8"/>
<rect x="1137.8" y="1750.2" width="5.0" height="1.8"/>
<rect x="1137.8" y="1747.5" width="5.0" height="1.8"/>
<rect x="1137.8" y="1847.3" width="5.0" height="1.8"/>
<rect x="1137.8" y="1856.8" width="5.0" height="1.8"/>
<rect x="1137.8" y="1863.5" width="5.0" height="1.8"/>
<rect x="1134.8" y="1867.5" width="8.0" height="4.2"/>
<rect x="1137.8" y="1873.0" width="5.0" height="1.8"/>
<rect x="1137.8" y="1876.6" width="5.0" height="1.8"/>
<rect x="1137.8" y="1879.7" width="5.0" height="1.8"/>
<rect x="1137.8" y="1882.4" width="5.0" height="1.8"/>
<rect x="1138.5" y="1746.0" width="4.3" height="140.0"/>
<rect x="1137.8" y="1497.9" width="5.0" height="1.8"/>
<rect x="1166.2" y="1915.9" width="6.4" height="10.5"/>
<rect x="1307.0" y="1915.9" width="6.4" height="10.5"/>
<rect x="1422.6" y="1915.9" width="6.4" height="10.5"/>
<rect x="1525.7" y="1915.9" width="6.4" height="10.5"/>
<rect x="1228.0" y="1915.9" width="23.0" height="10.5"/>
<rect x="1343.8" y="1915.9" width="2.4" height="4.6"/>
<rect x="1364.2" y="1915.9" width="2.4" height="4.6"/>
<rect x="1378.6" y="1915.9" width="2.4" height="4.6"/>
<rect x="1388.4" y="1915.9" width="5.2" height="7.0"/>
<rect x="1399.0" y="1915.9" width="2.4" height="4.6"/>
<rect x="1406.7" y="1915.9" width="2.4" height="4.6"/>
<rect x="1413.4" y="1915.9" width="2.4" height="4.6"/>
<rect x="1419.3" y="1915.9" width="2.4" height="4.6"/>
<rect x="1455.6" y="1915.9" width="2.4" height="4.6"/>
<rect x="1473.8" y="1915.9" width="2.4" height="4.6"/>
<rect x="1486.7" y="1915.9" width="2.4" height="4.6"/>
<rect x="1495.3" y="1915.9" width="5.2" height="7.0"/>
<rect x="1504.8" y="1915.9" width="2.4" height="4.6"/>
<rect x="1511.7" y="1915.9" width="2.4" height="4.6"/>
<rect x="1517.7" y="1915.9" width="2.4" height="4.6"/>
<rect x="1523.0" y="1915.9" width="2.4" height="4.6"/>
<rect x="1271.1" y="1915.9" width="2.4" height="4.6"/>
<rect x="1280.7" y="1915.9" width="2.4" height="4.6"/>
<rect x="1287.4" y="1915.9" width="2.4" height="4.6"/>
<rect x="1291.3" y="1915.9" width="5.2" height="7.0"/>
<rect x="1297.0" y="1915.9" width="2.4" height="4.6"/>
<rect x="1300.6" y="1915.9" width="2.4" height="4.6"/>
<rect x="1303.7" y="1915.9" width="2.4" height="4.6"/>
<rect x="1306.5" y="1915.9" width="2.4" height="4.6"/>
<rect x="1205.0" y="1915.9" width="2.4" height="4.6"/>
<rect x="1195.7" y="1915.9" width="2.4" height="4.6"/>
<rect x="1189.1" y="1915.9" width="2.4" height="4.6"/>
<rect x="1182.6" y="1915.9" width="5.2" height="7.0"/>
<rect x="1179.9" y="1915.9" width="2.4" height="4.6"/>
<rect x="1176.3" y="1915.9" width="2.4" height="4.6"/>
<rect x="1173.3" y="1915.9" width="2.4" height="4.6"/>
<rect x="1170.6" y="1915.9" width="2.4" height="4.6"/>
<rect x="1172.0" y="1915.9" width="138.0" height="3.6"/>
<rect x="1558.0" y="1915.9" width="2.4" height="4.6"/>
<text x="1239.1" y="1955.2" font-size="34" text-anchor="middle">0</text>
<g transform="translate(1290.0 1955.2)"><text x="0.0" y="0" font-size="34" textLength="37.3" lengthAdjust="spacingAndGlyphs">10</text><text x="37.6" y="-12.5" font-size="19" textLength="10.4" lengthAdjust="spacingAndGlyphs">3</text></g>
<g transform="translate(1405.6 1955.2)"><text x="0.0" y="0" font-size="34" textLength="37.3" lengthAdjust="spacingAndGlyphs">10</text><text x="37.6" y="-12.5" font-size="19" textLength="10.4" lengthAdjust="spacingAndGlyphs">4</text></g>
<g transform="translate(1508.7 1955.2)"><text x="0.0" y="0" font-size="34" textLength="37.3" lengthAdjust="spacingAndGlyphs">10</text><text x="37.6" y="-12.5" font-size="19" textLength="10.4" lengthAdjust="spacingAndGlyphs">5</text></g>
<text x="1371.1" y="1993.2" font-size="33.5" text-anchor="middle" textLength="145.1" lengthAdjust="spacingAndGlyphs">P-selectin</text>
<text x="1068.6" y="1742.0" font-size="33.5" textLength="95.8" lengthAdjust="spacingAndGlyphs" transform="rotate(-90 1068.6 1742.0)">CD150</text>
<text x="1655.0" y="1433.5" font-size="43.5" font-weight="bold">m</text>
<text x="1686.3" y="1760.3" font-size="33.5" textLength="101.4" lengthAdjust="spacingAndGlyphs" transform="rotate(-90 1686.3 1760.3)">% HSCs</text>
<rect x="1753.0" y="1502.9" width="5.8" height="411.7"/>
<rect x="1740.5" y="1908.8" width="340.9" height="5.8"/>
<rect x="1740.5" y="1503.5" width="13.5" height="5.0"/>
<text x="1736.0" y="1516.9" font-size="33.5" text-anchor="end" textLength="36.7" lengthAdjust="spacingAndGlyphs">80</text>
<rect x="1740.5" y="1604.9" width="13.5" height="5.0"/>
<text x="1736.0" y="1618.3" font-size="33.5" text-anchor="end" textLength="36.7" lengthAdjust="spacingAndGlyphs">60</text>
<rect x="1740.5" y="1706.3" width="13.5" height="5.0"/>
<text x="1736.0" y="1719.7" font-size="33.5" text-anchor="end" textLength="36.7" lengthAdjust="spacingAndGlyphs">40</text>
<rect x="1740.5" y="1807.4" width="13.5" height="5.0"/>
<text x="1736.0" y="1820.8" font-size="33.5" text-anchor="end" textLength="36.7" lengthAdjust="spacingAndGlyphs">20</text>
<rect x="1740.5" y="1909.2" width="13.5" height="5.0"/>
<text x="1736.0" y="1922.6" font-size="33.5" text-anchor="end">0</text>
<rect x="1777.6" y="1911.7" width="5.0" height="15.4"/>
<text x="1798.8" y="1950.6" font-size="33.5" text-anchor="end" textLength="47.8" lengthAdjust="spacingAndGlyphs" transform="rotate(-45 1798.8 1950.6)">0-5</text>
<rect x="1832.7" y="1911.7" width="5.0" height="15.4"/>
<text x="1853.9" y="1950.6" font-size="33.5" text-anchor="end" textLength="66.1" lengthAdjust="spacingAndGlyphs" transform="rotate(-45 1853.9 1950.6)">6-15</text>
<rect x="1888.1" y="1911.7" width="5.0" height="15.4"/>
<text x="1909.3" y="1950.6" font-size="33.5" text-anchor="end" textLength="84.5" lengthAdjust="spacingAndGlyphs" transform="rotate(-45 1909.3 1950.6)">16-25</text>
<rect x="1943.5" y="1911.7" width="5.0" height="15.4"/>
<text x="1964.7" y="1950.6" font-size="33.5" text-anchor="end" textLength="84.5" lengthAdjust="spacingAndGlyphs" transform="rotate(-45 1964.7 1950.6)">26-35</text>
<rect x="1998.7" y="1911.7" width="5.0" height="15.4"/>
<text x="2019.9" y="1950.6" font-size="33.5" text-anchor="end" textLength="84.5" lengthAdjust="spacingAndGlyphs" transform="rotate(-45 2019.9 1950.6)">36-45</text>
<rect x="2053.7" y="1911.7" width="5.0" height="15.4"/>
<text x="2074.9" y="1950.6" font-size="33.5" text-anchor="end" textLength="54.7" lengthAdjust="spacingAndGlyphs" transform="rotate(-45 2074.9 1950.6)">&gt;45</text>
<line x1="1770.1" y1="1792.7" x2="1790.6" y2="1727.0" stroke="#000" stroke-width="2.2" stroke-linecap="butt"/>
<line x1="1770.1" y1="1807.2" x2="1790.6" y2="1819.3" stroke="#000" stroke-width="2.2" stroke-linecap="butt"/>
<line x1="1770.1" y1="1820.8" x2="1790.6" y2="1845.7" stroke="#000" stroke-width="2.2" stroke-linecap="butt"/>
<line x1="1825.2" y1="1824.5" x2="1845.7" y2="1845.7" stroke="#000" stroke-width="2.2" stroke-linecap="butt"/>
<line x1="1825.2" y1="1851.1" x2="1845.7" y2="1819.3" stroke="#000" stroke-width="2.2" stroke-linecap="butt"/>
<line x1="1825.2" y1="1857.2" x2="1845.7" y2="1911.7" stroke="#000" stroke-width="2.2" stroke-linecap="butt"/>
<line x1="1880.6" y1="1693.7" x2="1901.1" y2="1680.7" stroke="#000" stroke-width="2.2" stroke-linecap="butt"/>
<line x1="1880.6" y1="1824.8" x2="1901.1" y2="1866.2" stroke="#000" stroke-width="2.2" stroke-linecap="butt"/>
<line x1="1880.6" y1="1911.7" x2="1901.1" y2="1866.2" stroke="#000" stroke-width="2.2" stroke-linecap="butt"/>
<line x1="1936.0" y1="1839.0" x2="1956.5" y2="1819.3" stroke="#000" stroke-width="2.2" stroke-linecap="butt"/>
<line x1="1936.0" y1="1851.1" x2="1956.5" y2="1845.7" stroke="#000" stroke-width="2.2" stroke-linecap="butt"/>
<line x1="1936.0" y1="1860.2" x2="1956.5" y2="1911.7" stroke="#000" stroke-width="2.2" stroke-linecap="butt"/>
<line x1="1991.2" y1="1761.8" x2="2011.7" y2="1911.7" stroke="#000" stroke-width="2.2" stroke-linecap="butt"/>
<line x1="1991.2" y1="1841.4" x2="2011.7" y2="1778.4" stroke="#000" stroke-width="2.2" stroke-linecap="butt"/>
<line x1="1991.2" y1="1857.2" x2="2011.7" y2="1866.2" stroke="#000" stroke-width="2.2" stroke-linecap="butt"/>
<line x1="2046.2" y1="1792.7" x2="2066.7" y2="1727.0" stroke="#000" stroke-width="2.2" stroke-linecap="butt"/>
<line x1="2046.2" y1="1807.2" x2="2066.7" y2="1779.4" stroke="#000" stroke-width="2.2" stroke-linecap="butt"/>
<line x1="2046.2" y1="1893.5" x2="2066.7" y2="1866.2" stroke="#000" stroke-width="2.2" stroke-linecap="butt"/>
<circle cx="1770.1" cy="1792.7" r="10.9" fill="#9c9c9c"/>
<circle cx="1770.1" cy="1807.2" r="10.9" fill="#9c9c9c"/>
<circle cx="1770.1" cy="1820.8" r="10.9" fill="#9c9c9c"/>
<circle cx="1790.6" cy="1727.0" r="10.9" fill="#e0695a"/>
<circle cx="1790.6" cy="1819.3" r="10.9" fill="#e0695a"/>
<circle cx="1790.6" cy="1845.7" r="10.9" fill="#e0695a"/>
<circle cx="1825.2" cy="1824.5" r="10.9" fill="#9c9c9c"/>
<circle cx="1825.2" cy="1851.1" r="10.9" fill="#9c9c9c"/>
<circle cx="1825.2" cy="1857.2" r="10.9" fill="#9c9c9c"/>
<circle cx="1845.7" cy="1845.7" r="10.9" fill="#e0695a"/>
<circle cx="1845.7" cy="1819.3" r="10.9" fill="#e0695a"/>
<circle cx="1845.7" cy="1911.7" r="10.9" fill="#e0695a"/>
<circle cx="1880.6" cy="1693.7" r="10.9" fill="#9c9c9c"/>
<circle cx="1880.6" cy="1824.8" r="10.9" fill="#9c9c9c"/>
<circle cx="1880.6" cy="1911.7" r="10.9" fill="#9c9c9c"/>
<circle cx="1901.1" cy="1680.7" r="10.9" fill="#e0695a"/>
<circle cx="1901.1" cy="1866.2" r="10.9" fill="#e0695a"/>
<circle cx="1901.1" cy="1866.2" r="10.9" fill="#e0695a"/>
<circle cx="1936.0" cy="1839.0" r="10.9" fill="#9c9c9c"/>
<circle cx="1936.0" cy="1851.1" r="10.9" fill="#9c9c9c"/>
<circle cx="1936.0" cy="1860.2" r="10.9" fill="#9c9c9c"/>
<circle cx="1956.5" cy="1819.3" r="10.9" fill="#e0695a"/>
<circle cx="1956.5" cy="1845.7" r="10.9" fill="#e0695a"/>
<circle cx="1956.5" cy="1911.7" r="10.9" fill="#e0695a"/>
<circle cx="1991.2" cy="1761.8" r="10.9" fill="#9c9c9c"/>
<circle cx="1991.2" cy="1841.4" r="10.9" fill="#9c9c9c"/>
<circle cx="1991.2" cy="1857.2" r="10.9" fill="#9c9c9c"/>
<circle cx="2011.7" cy="1911.7" r="10.9" fill="#e0695a"/>
<circle cx="2011.7" cy="1778.4" r="10.9" fill="#e0695a"/>
<circle cx="2011.7" cy="1866.2" r="10.9" fill="#e0695a"/>
<circle cx="2046.2" cy="1792.7" r="10.9" fill="#9c9c9c"/>
<circle cx="2046.2" cy="1807.2" r="10.9" fill="#9c9c9c"/>
<circle cx="2046.2" cy="1893.5" r="10.9" fill="#9c9c9c"/>
<circle cx="2066.7" cy="1727.0" r="10.9" fill="#e0695a"/>
<circle cx="2066.7" cy="1779.4" r="10.9" fill="#e0695a"/>
<circle cx="2066.7" cy="1866.2" r="10.9" fill="#e0695a"/>
<line x1="1839.2" y1="1511.1" x2="1898.2" y2="1511.1" stroke="#000" stroke-width="2.2" stroke-linecap="butt"/>
<circle cx="1868.5" cy="1511.1" r="10.9" fill="#9c9c9c"/>
<line x1="1839.2" y1="1583.8" x2="1898.2" y2="1583.8" stroke="#000" stroke-width="2.2" stroke-linecap="butt"/>
<circle cx="1868.5" cy="1583.8" r="10.9" fill="#e0695a"/>
<g transform="translate(1930.6 1519.6)"><text x="0.0" y="0" font-size="33.5" textLength="61.9" lengthAdjust="spacingAndGlyphs">Selp</text><text x="62.9" y="-12" font-size="20" textLength="57.0" lengthAdjust="spacingAndGlyphs">lo/neg</text></g>
<g transform="translate(1930.6 1592.9)"><text x="0.0" y="0" font-size="33.5" textLength="61.9" lengthAdjust="spacingAndGlyphs">Selp</text><text x="62.9" y="-12" font-size="20" textLength="16.3" lengthAdjust="spacingAndGlyphs">hi</text></g>
<text x="1924.0" y="2049.0" font-size="33.5" text-anchor="middle" textLength="352.0" lengthAdjust="spacingAndGlyphs">Distance from Mk (µm)</text>
</svg>
</body></html>
